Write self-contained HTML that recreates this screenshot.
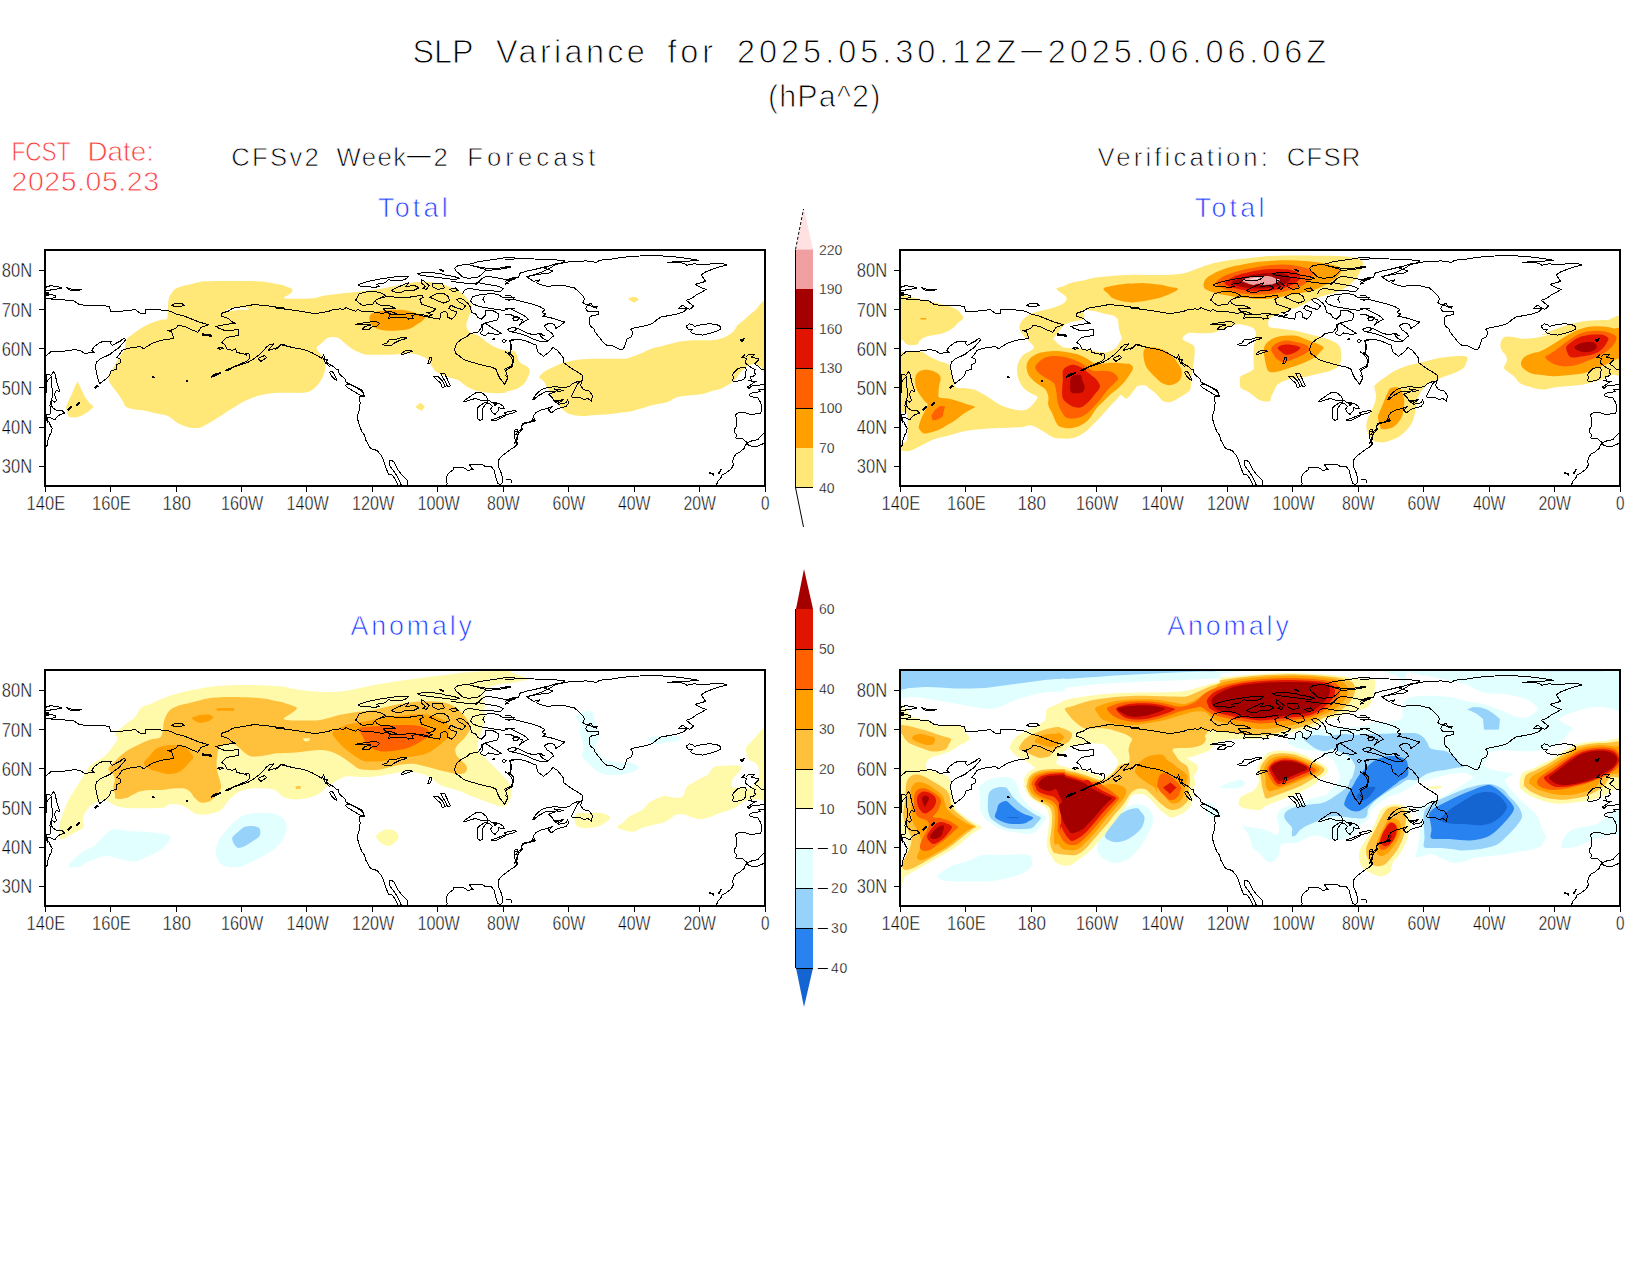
<!DOCTYPE html>
<html><head><meta charset="utf-8"><title>SLP Variance</title>
<style>html,body{margin:0;padding:0;background:#fff}</style></head>
<body>
<svg width="1650" height="1275" viewBox="0 0 1650 1275" style="display:block;font-family:'Liberation Sans',sans-serif">
<rect width="1650" height="1275" fill="#fff"/>
<defs><clipPath id="cp"><rect x="0" y="0" width="720" height="236"/></clipPath></defs>
<text x="412.5" y="63.3" font-size="32.5" fill="#000" text-anchor="start" textLength="61.0" lengthAdjust="spacingAndGlyphs" stroke="#fff" stroke-width="0.95">SLP</text>
<text x="496" y="63.3" font-size="32.5" fill="#000" text-anchor="start" textLength="148.9" lengthAdjust="spacing" stroke="#fff" stroke-width="0.95">Variance</text>
<text x="667.5" y="63.3" font-size="32.5" fill="#000" text-anchor="start" textLength="45.5" lengthAdjust="spacing" stroke="#fff" stroke-width="0.95">for</text>
<text x="737" y="63.3" font-size="32.5" fill="#000" text-anchor="start" textLength="279.2" lengthAdjust="spacing" stroke="#fff" stroke-width="0.95">2025.05.30.12Z</text>
<text transform="translate(1017.81,55.68) scale(5.940,1)" x="0" y="0" font-size="14" fill="#000">-</text>
<text x="1047.7" y="63.3" font-size="32.5" fill="#000" text-anchor="start" textLength="278.4" lengthAdjust="spacing" stroke="#fff" stroke-width="0.95">2025.06.06.06Z</text>
<text x="768" y="106.6" font-size="30.5" fill="#000" text-anchor="start" textLength="112.3" lengthAdjust="spacing" stroke="#fff" stroke-width="0.95">(hPa^2)</text>
<text x="11.5" y="161.4" font-size="28.5" fill="#fa3c3c" text-anchor="start" textLength="59.0" lengthAdjust="spacingAndGlyphs" stroke="#fff" stroke-width="0.8">FCST</text>
<text x="87.5" y="161.4" font-size="28.5" fill="#fa3c3c" text-anchor="start" textLength="66.5" lengthAdjust="spacingAndGlyphs" stroke="#fff" stroke-width="0.8">Date:</text>
<text x="11.5" y="191" font-size="28.5" fill="#fa3c3c" text-anchor="start" textLength="147.5" lengthAdjust="spacing" stroke="#fff" stroke-width="0.8">2025.05.23</text>
<text x="231.3" y="166.4" font-size="25.7" fill="#000" text-anchor="start" textLength="87.5" lengthAdjust="spacing" stroke="#fff" stroke-width="0.75">CFSv2</text>
<text x="336.5" y="166.4" font-size="25.7" fill="#000" text-anchor="start" textLength="69.6" lengthAdjust="spacing" stroke="#fff" stroke-width="0.75">Week</text>
<text transform="translate(403.08,161.22) scale(6.789,1)" x="0" y="0" font-size="14" fill="#000">-</text>
<text x="433.5" y="166.4" font-size="25.7" fill="#000" text-anchor="start" textLength="15.0" lengthAdjust="spacing" stroke="#fff" stroke-width="0.75">2</text>
<text x="467.3" y="166.4" font-size="25.7" fill="#000" text-anchor="start" textLength="128.2" lengthAdjust="spacing" stroke="#fff" stroke-width="0.75">Forecast</text>
<text x="1097.5" y="166.4" font-size="25.7" fill="#000" text-anchor="start" textLength="170.4" lengthAdjust="spacing" stroke="#fff" stroke-width="0.75">Verification:</text>
<text x="1286.7" y="166.4" font-size="25.7" fill="#000" text-anchor="start" textLength="73.7" lengthAdjust="spacing" stroke="#fff" stroke-width="0.75">CFSR</text>
<text x="378" y="216.7" font-size="26.8" fill="#1e3cff" text-anchor="start" textLength="69.6" lengthAdjust="spacing" stroke="#fff" stroke-width="0.75">Total</text>
<text x="1194.8" y="216.7" font-size="26.8" fill="#1e3cff" text-anchor="start" textLength="69.6" lengthAdjust="spacing" stroke="#fff" stroke-width="0.75">Total</text>
<text x="350.5" y="635" font-size="26.8" fill="#1e3cff" text-anchor="start" textLength="121.5" lengthAdjust="spacing" stroke="#fff" stroke-width="0.75">Anomaly</text>
<text x="1167.3" y="635" font-size="26.8" fill="#1e3cff" text-anchor="start" textLength="121.5" lengthAdjust="spacing" stroke="#fff" stroke-width="0.75">Anomaly</text>
<g transform="translate(45,250)">
<g clip-path="url(#cp)">
<path fill="#ffe878" d="M123.6 49.5 C124.2 46.9 125.3 44.7 126.5 42.9 C127.8 41.1 128.7 39.8 130.9 38.5 C133.1 37.3 136.2 36.6 139.6 35.6 C143.0 34.7 147.9 33.5 151.3 32.7 C154.7 32.0 154.9 31.6 160.0 31.3 C165.1 31.0 173.1 31.0 181.8 31.0 C190.5 31.0 204.8 30.9 212.4 31.3 C219.9 31.6 222.3 32.4 226.9 33.2 C231.5 33.9 237.8 35.1 240.0 35.6 C242.2 36.2 239.1 35.9 240.2 36.4 C241.3 36.8 245.6 37.6 246.7 38.5 C247.8 39.5 247.3 41.1 246.7 42.2 C246.1 43.3 244.4 44.1 243.1 45.1 C241.8 46.1 238.5 47.4 238.7 48.0 C239.0 48.6 241.2 48.6 244.5 48.7 C247.9 48.8 254.7 48.8 259.1 48.7 C263.5 48.6 267.6 48.5 270.7 48.0 C273.9 47.5 275.1 46.4 278.0 45.8 C280.9 45.2 284.5 44.8 288.2 44.4 C291.8 43.9 295.9 43.3 299.8 42.9 C303.7 42.5 307.6 42.3 311.5 41.9 C315.3 41.5 319.2 40.9 323.1 40.4 C327.0 40.0 331.1 39.5 334.7 39.0 C338.4 38.4 341.5 37.8 344.9 37.1 C348.3 36.4 351.9 35.6 355.1 34.9 C358.2 34.3 360.9 33.6 363.8 33.2 C366.7 32.7 369.4 32.2 372.5 32.0 C375.7 31.8 379.8 31.6 382.7 31.7 C385.6 31.8 387.3 32.2 390.0 32.7 C392.7 33.2 396.3 33.9 398.7 34.6 C401.2 35.3 402.4 36.2 404.5 37.1 C406.7 38.0 409.6 38.9 411.8 40.0 C414.0 41.1 415.9 42.2 417.6 43.6 C419.3 45.1 420.7 47.0 422.0 48.7 C423.3 50.4 424.8 52.2 425.6 53.8 C426.5 55.4 427.2 56.5 427.1 58.2 C427.0 59.9 425.6 62.1 424.9 64.0 C424.2 65.9 423.3 67.9 422.7 69.8 C422.1 71.8 421.2 73.8 421.3 75.6 C421.4 77.5 422.4 79.4 423.5 80.7 C424.5 82.1 426.1 82.8 427.8 83.6 C429.5 84.5 431.7 84.7 433.6 85.8 C435.6 86.9 437.5 88.7 439.5 90.2 C441.4 91.6 443.1 93.2 445.3 94.5 C447.5 95.9 449.9 97.2 452.5 98.2 C455.2 99.2 458.4 99.8 461.3 100.4 C464.2 101.0 467.8 99.9 470.0 101.8 C472.2 103.8 472.6 109.6 474.5 112.0 C476.5 114.4 480.1 115.0 481.8 116.4 C483.5 117.7 484.5 118.3 484.7 120.0 C485.0 121.7 484.2 124.2 483.3 126.5 C482.3 128.8 480.8 131.8 478.9 133.8 C477.0 135.9 474.8 137.6 471.6 138.9 C468.5 140.2 461.5 141.2 460.0 141.8 C458.5 142.4 464.2 142.3 462.7 142.5 C461.2 142.8 454.7 143.3 451.1 143.3 C447.5 143.3 444.1 142.9 440.9 142.5 C437.8 142.2 434.8 141.8 432.2 141.1 C429.5 140.4 427.1 139.3 424.9 138.2 C422.7 137.1 420.8 135.8 419.1 134.5 C417.4 133.3 416.4 131.9 414.7 130.9 C413.0 129.9 411.1 129.5 408.9 128.7 C406.7 128.0 404.1 127.4 401.6 126.5 C399.2 125.7 396.3 124.6 394.4 123.6 C392.4 122.7 391.2 121.9 390.0 120.7 C388.8 119.5 388.1 117.8 387.1 116.4 C386.1 114.9 385.4 113.5 384.2 112.0 C383.0 110.5 381.8 108.8 379.8 107.6 C377.9 106.4 375.0 105.5 372.5 104.7 C370.1 104.0 368.2 103.4 365.3 103.3 C362.4 103.2 358.7 103.8 355.1 104.0 C351.5 104.2 347.3 104.6 343.5 104.7 C339.6 104.8 335.7 104.8 331.8 104.7 C327.9 104.7 323.3 104.9 320.2 104.4 C317.0 104.0 315.1 102.7 312.9 101.8 C310.7 100.9 309.0 100.1 307.1 98.9 C305.2 97.7 303.2 96.1 301.3 94.5 C299.3 93.0 297.2 90.7 295.5 89.5 C293.8 88.2 292.9 87.6 291.1 87.3 C289.3 86.9 286.5 86.8 284.5 87.3 C282.6 87.8 281.0 89.0 279.5 90.2 C277.9 91.4 276.4 93.3 275.1 94.5 C273.8 95.8 271.7 96.2 271.5 97.5 C271.2 98.7 272.5 100.1 273.6 101.8 C274.7 103.5 276.9 105.7 278.0 107.6 C279.1 109.6 279.8 111.5 280.2 113.5 C280.5 115.4 280.5 117.1 280.2 119.3 C279.8 121.5 279.1 124.1 278.0 126.5 C276.9 129.0 275.3 131.6 273.6 133.8 C271.9 136.0 270.0 138.2 267.8 139.6 C265.6 141.1 264.4 142.0 260.5 142.5 C256.7 143.1 249.2 142.8 244.5 142.8 C239.9 142.9 236.6 142.6 232.7 142.8 C228.8 143.0 225.0 143.3 221.1 144.0 C217.2 144.7 213.1 145.7 209.5 146.9 C205.8 148.1 202.4 149.7 199.3 151.3 C196.1 152.8 193.2 154.8 190.5 156.4 C187.9 157.9 185.7 159.2 183.3 160.7 C180.8 162.3 178.4 164.2 176.0 165.8 C173.6 167.4 171.2 168.7 168.7 170.2 C166.3 171.6 163.9 173.3 161.5 174.5 C159.0 175.8 157.1 177.3 154.2 177.7 C151.3 178.2 147.4 178.1 144.0 177.5 C140.6 176.8 136.5 175.2 133.8 173.8 C131.2 172.5 129.9 170.8 128.0 169.5 C126.1 168.1 124.8 166.8 122.2 165.8 C119.5 164.8 115.6 164.5 112.0 163.6 C108.4 162.8 104.2 161.5 100.4 160.7 C96.5 160.0 92.0 160.0 88.7 159.3 C85.5 158.5 82.5 157.7 80.7 156.4 C78.9 155.0 78.9 153.1 77.8 151.3 C76.7 149.5 75.5 147.4 74.2 145.5 C72.8 143.5 71.4 141.8 69.8 139.6 C68.2 137.5 65.8 134.5 64.7 132.4 C63.6 130.2 63.2 128.2 63.3 126.5 C63.4 124.8 64.5 123.9 65.5 122.2 C66.4 120.5 67.6 118.8 69.1 116.4 C70.5 113.9 72.5 110.5 74.2 107.6 C75.9 104.7 78.1 101.9 79.3 98.9 C80.5 95.9 80.1 91.9 81.5 89.5 C82.8 87.0 85.1 86.1 87.3 84.4 C89.5 82.7 92.1 80.8 94.5 79.3 C97.0 77.7 99.4 76.1 101.8 74.9 C104.2 73.7 106.7 72.8 109.1 72.0 C111.5 71.2 114.2 70.4 116.4 69.8 C118.5 69.2 121.1 70.3 122.2 68.4 C123.3 66.4 122.7 61.3 122.9 58.2 C123.2 55.0 123.0 52.0 123.6 49.5 Z"/>
<path fill="#ffffff" d="M180.4 60.4 C180.8 59.9 184.2 58.7 187.6 58.2 C191.0 57.7 198.1 57.2 200.7 57.5 C203.4 57.7 204.8 59.2 203.6 59.6 C202.4 60.0 196.6 59.7 193.5 59.9 C190.3 60.2 186.9 61.0 184.7 61.1 C182.5 61.2 179.9 60.8 180.4 60.4 Z"/>
<path fill="#ffe878" d="M32.7 131.6 L36.4 139.6 L40.0 146.9 L43.6 152.0 L48.7 156.8 L43.6 161.5 L36.4 165.8 L31.3 167.6 L24.0 167.3 L21.8 161.5 L21.1 157.1 L24.0 149.8 L26.9 144.0 L29.8 136.7 Z"/>
<path fill="#ffa000" d="M324.5 66.9 C324.9 65.3 325.8 64.2 327.5 63.3 C329.2 62.3 331.6 61.6 334.7 61.1 C337.9 60.5 342.5 60.1 346.4 59.9 C350.2 59.7 354.6 59.6 358.0 59.9 C361.4 60.2 363.8 61.0 366.7 61.8 C369.6 62.6 373.3 63.8 375.5 64.7 C377.6 65.7 379.6 66.5 379.8 67.6 C380.1 68.7 378.4 70.1 376.9 71.3 C375.5 72.5 373.0 73.7 371.1 74.9 C369.2 76.1 367.5 77.7 365.3 78.5 C363.1 79.4 361.2 79.6 358.0 80.0 C354.8 80.4 350.0 80.7 346.4 80.7 C342.7 80.7 339.1 80.6 336.2 80.0 C333.3 79.4 330.7 78.3 328.9 77.1 C327.1 75.9 326.0 74.4 325.3 72.7 C324.5 71.0 324.2 68.5 324.5 66.9 Z"/>
<path fill="#ffe878" d="M370.4 156.8 L375.5 152.7 L379.8 156.4 L376.9 160.7 L373.3 159.3 Z"/>
<path fill="#ffe878" d="M494.2 127.3 C494.1 125.9 496.5 124.1 497.8 122.9 C499.2 121.7 500.2 121.1 502.2 120.0 C504.1 118.9 506.8 117.6 509.5 116.4 C512.1 115.2 515.0 113.7 518.2 112.7 C521.3 111.8 524.5 111.2 528.4 110.5 C532.2 109.9 536.8 109.4 541.5 109.1 C546.1 108.8 551.2 108.8 556.0 108.8 C560.8 108.8 566.2 108.9 570.5 108.8 C574.9 108.7 578.8 108.9 582.2 108.4 C585.6 107.8 588.0 106.5 590.9 105.5 C593.8 104.4 597.2 102.9 599.6 101.8 C602.1 100.7 603.0 99.8 605.5 98.9 C607.9 98.1 611.3 97.5 614.2 96.7 C617.1 96.0 619.5 95.4 622.9 94.5 C626.3 93.7 631.2 92.3 634.5 91.6 C637.9 91.0 640.1 90.7 643.3 90.5 C646.4 90.2 649.6 90.2 653.5 90.2 C657.3 90.1 662.9 90.4 666.5 90.2 C670.2 89.9 672.6 89.5 675.3 88.7 C677.9 88.0 680.4 87.0 682.5 85.8 C684.7 84.6 686.7 83.2 688.4 81.5 C690.1 79.8 691.3 77.5 692.7 75.6 C694.2 73.8 697.9 69.8 697.1 70.5 C696.3 71.3 687.5 80.3 688.0 80.0 C688.5 79.7 696.3 72.2 700.0 69.0 C703.7 65.8 706.3 63.0 710.0 60.5 C713.7 58.0 720.0 43.9 722.0 54.0 C724.0 64.1 723.1 110.6 722.0 121.0 C720.9 131.4 717.3 117.6 715.3 116.4 C713.4 115.2 711.8 114.2 710.3 113.9 C708.8 113.6 708.0 114.1 706.5 114.5 C705.1 114.9 703.0 115.4 701.5 116.4 C700.1 117.3 699.0 118.9 697.8 120.1 C696.5 121.4 695.0 122.5 694.0 123.9 C693.0 125.3 692.7 126.8 691.5 128.3 C690.2 129.8 688.1 131.4 686.5 132.7 C684.8 133.9 683.3 134.8 681.5 135.8 C679.6 136.9 677.5 138.1 675.2 139.0 C672.9 139.8 670.6 140.0 667.7 140.8 C664.7 141.7 661.4 143.2 657.6 144.0 C653.9 144.7 649.3 144.7 645.1 145.2 C640.9 145.7 635.7 146.3 632.5 147.1 C629.4 147.9 628.4 149.3 626.3 150.2 C624.2 151.2 622.5 152.1 620.0 152.7 C617.5 153.4 614.2 153.6 611.3 154.2 C608.4 154.8 605.5 155.5 602.5 156.4 C599.6 157.2 596.7 158.4 593.8 159.3 C590.9 160.1 588.5 160.8 585.1 161.5 C581.7 162.1 577.3 162.4 573.5 162.9 C569.6 163.4 565.7 164.0 561.8 164.4 C557.9 164.7 554.1 164.8 550.2 165.1 C546.3 165.4 542.2 166.1 538.5 166.1 C534.9 166.1 531.3 165.7 528.4 165.1 C525.5 164.4 523.3 163.5 521.1 162.2 C518.9 160.8 517.1 158.9 515.3 157.1 C513.5 155.3 511.6 153.2 510.2 151.3 C508.7 149.3 507.6 147.4 506.5 145.5 C505.5 143.5 504.5 141.2 503.6 139.6 C502.8 138.1 502.3 137.5 501.5 136.0 C500.6 134.5 499.8 132.4 498.5 130.9 C497.3 129.5 494.3 128.6 494.2 127.3 Z"/>
<path fill="#ffe878" d="M582.9 48.7 L587.3 46.8 L591.6 47.3 L593.8 49.5 L589.5 52.7 L585.8 50.9 Z"/>
<g fill="none" stroke="#000" stroke-linejoin="round" stroke-linecap="butt" shape-rendering="crispEdges">
<path stroke-width="1" d="M0.0 48.7 L14.5 49.5 L29.1 50.9 L33.5 54.1 L42.2 56.0 L58.2 55.3 L64.7 57.0 L65.5 61.1 L77.1 61.1 L90.2 59.6 L93.1 61.8 L96.0 64.0 L100.4 63.3 L100.4 59.6 L110.5 59.3 L125.1 61.1 L130.9 64.0 L139.6 66.2 L148.4 69.8 L154.2 72.0 L163.6 74.9 L156.4 77.1 L152.7 82.2 L145.5 79.3 L139.6 76.4 L134.5 75.6 L133.1 74.9 L131.6 77.8 L126.5 80.0 L122.9 80.7 L126.5 81.5 L128.7 88.0 L125.1 89.0 L116.4 90.2 L107.6 93.1 L100.4 97.5 L98.9 98.9 L95.3 96.7 L87.3 97.5 L81.5 98.9 L77.1 100.4 L74.2 104.7 L72.0 107.6 L75.6 109.1 L75.6 112.7 L71.3 114.9 L71.3 119.3 L66.2 120.7 L64.7 125.1 L61.1 128.7 L54.5 133.8 L52.4 126.5 L50.2 116.4 L51.6 112.0 L56.0 108.4 L61.1 106.2 L65.5 104.0 L69.8 100.4 L74.2 97.5 L76.4 94.5 L78.5 92.4 L80.7 89.5 L78.5 88.4 L75.6 90.9 L71.3 93.1 L67.6 95.3 L65.5 93.8 L66.2 91.6 L58.2 91.3 L53.8 93.1 L49.5 96.7 L46.5 100.4 L49.5 102.5 L39.3 103.3 L36.4 101.1 L30.5 99.6 L18.9 101.1 L5.8 101.8 L0.0 106.9 M0.0 37.5 L5.8 35.6 L14.5 37.1 L16.7 38.1 L8.7 39.6 L0.0 40.7 M21.1 37.5 L25.5 39.0 L34.9 39.0 L36.4 39.6 L34.2 40.4 L26.2 40.4 L23.3 39.0 Z M0.0 43.6 L5.8 44.4 L10.9 45.8 L10.2 47.7 L4.4 48.7 L0.0 48.7 M126.5 55.3 L130.2 53.5 L136.7 53.5 L139.6 55.3 L135.3 56.4 L129.5 56.4 Z M240.0 58.2 L224.0 56.0 L209.5 54.5 L200.7 56.0 L187.6 58.2 L183.3 61.1 L176.7 63.3 L176.7 66.2 L183.3 68.4 L186.2 71.3 L190.5 73.5 L181.8 74.2 L174.5 75.6 L170.9 76.4 L174.5 78.5 L180.4 80.7 L189.1 80.0 L193.5 79.7 L193.5 85.1 L187.6 86.5 L181.8 87.3 L178.9 90.2 L176.7 92.4 L180.4 95.3 L181.8 98.9 L187.6 100.4 L190.5 98.9 L192.0 102.5 L199.3 104.0 L201.5 105.5 L200.7 103.3 L204.4 104.0 L204.4 108.4 L201.5 111.3 L194.9 114.2 L189.1 116.4 L181.8 120.0 L184.7 118.5 L193.5 115.6 L203.6 112.0 L209.5 108.4 L215.3 104.0 L218.2 101.1 L221.1 97.5 L224.7 94.5 L229.1 93.8 L226.9 96.0 L223.3 100.4 L228.4 98.9 L234.2 96.7 L236.4 94.5 L240.0 94.8 M213.1 108.4 L219.6 105.5 L221.8 107.6 L216.0 111.3 Z M172.4 98.2 L175.3 97.2 L178.2 98.2 L175.3 99.3 Z M1.1 124.2 L6.0 125.3 L8.8 121.4 L9.9 123.6 L11.0 128.5 L12.6 135.1 L14.8 141.7 L11.5 140.6 L9.3 143.9 L11.5 150.5 L9.9 152.2 L7.1 150.5 L6.0 154.9 L8.2 158.2 L12.6 160.9 L17.0 160.4 L19.8 163.1 L14.8 164.8 L11.5 167.5 L9.9 169.7 L6.0 168.1 L1.6 167.0 L1.1 164.8 L4.9 164.8 L6.0 159.8 L4.9 156.0 L5.5 152.7 L7.7 146.1 L7.1 138.4 L6.0 131.8 L6.6 126.4 L3.3 129.6 L1.6 132.9 M1.1 170.3 L3.8 171.4 L5.5 175.8 L7.1 178.0 L6.6 181.8 L4.9 184.6 L3.3 188.9 L2.2 192.2 L2.7 194.4 L1.1 197.2 M230.0 57.9 L244.5 59.6 L259.1 61.8 L272.2 64.0 L275.1 62.5 L282.4 61.8 L288.2 59.6 L295.5 58.9 L298.4 59.6 L301.3 57.5 L305.6 59.6 L310.7 61.1 L312.9 59.6 L315.8 61.1 L324.5 61.1 L331.8 62.5 L337.6 63.3 L342.0 62.5 L346.4 64.0 L349.3 64.7 L360.9 64.0 L368.2 63.3 L375.5 65.5 L382.7 66.9 L390.0 68.4 L394.4 69.1 L395.8 66.2 L395.1 63.3 L400.2 61.1 L403.1 64.0 L402.4 66.9 L406.7 69.1 L410.4 65.5 L411.8 61.8 L406.7 60.4 L403.8 58.2 L406.0 55.3 L410.4 57.5 L417.6 59.6 L420.5 56.0 L417.6 53.8 L413.3 51.6 L411.8 49.5 L414.7 48.0 L419.1 50.2 L423.5 53.8 L425.6 57.5 L426.4 62.5 L430.7 64.0 L432.9 67.6 L436.5 69.1 L440.2 65.5 L440.9 60.4 L448.2 60.8 L454.0 64.0 L452.5 69.8 L446.7 71.3 L440.9 72.7 L438.0 74.2 L435.8 78.5 L432.9 82.2 L424.9 83.6 L422.0 86.5 L416.2 89.5 L411.8 93.1 L409.6 98.9 L410.4 103.3 L414.0 105.5 L416.2 107.6 L419.1 109.8 L426.4 112.0 L433.6 114.2 L439.5 115.6 L446.7 117.1 L451.1 119.3 L452.5 123.6 L454.7 128.0 L457.6 131.6 L459.8 134.5 L461.3 130.9 L462.7 126.5 L461.3 122.9 L459.8 119.3 L465.6 116.4 L468.5 112.0 L468.5 106.9 L464.9 103.3 L465.6 96.0 L464.9 90.2 L470.0 89.5 M230.0 99.6 L233.6 97.5 L235.1 94.5 L238.7 95.3 L247.5 97.5 L259.1 99.6 L266.4 102.5 L272.2 105.5 L276.5 108.4 L278.7 104.7 L279.5 109.1 L283.1 109.1 L280.9 112.0 L285.3 114.9 L288.2 116.4 L291.1 119.3 L294.0 119.3 L293.3 122.2 L295.5 125.1 L299.8 128.7 L301.3 132.4 L305.6 134.5 L311.5 137.5 L317.3 140.4 L318.7 143.3 L319.5 146.9 L314.4 146.2 L315.1 152.7 L314.4 160.0 L312.9 164.4 L312.6 168.7 L313.6 173.1 L315.1 177.5 L317.3 182.5 L319.5 185.0 M284.5 122.2 L287.5 121.5 L289.6 125.1 L291.8 130.2 L288.9 128.7 L286.0 125.1 Z M300.5 135.3 L304.2 133.8 L311.5 137.5 L317.3 141.8 L319.5 146.2 L315.8 145.5 L309.3 141.8 L303.5 138.2 Z M277.3 106.2 L280.2 112.7 L284.5 116.4 L287.5 114.9 M310.7 74.2 L320.2 72.7 L330.4 71.3 L334.7 73.5 L331.8 76.4 L326.0 77.1 L324.5 79.3 L317.3 79.3 L320.2 76.4 L326.0 74.9 L317.3 74.9 Z M337.6 94.5 L342.0 93.1 L344.2 89.5 L350.7 89.5 L356.5 87.3 L362.4 88.0 L358.0 89.5 L353.6 90.9 L349.3 93.1 L346.4 95.3 L340.5 95.7 Z M355.8 104.0 L360.9 100.4 L368.2 101.1 L363.8 102.5 L358.0 104.4 Z M382.7 113.5 L384.9 107.6 L387.1 106.9 L386.4 110.5 L384.9 113.5 Z M388.5 126.5 L392.9 126.5 L397.3 130.9 L400.2 136.7 L397.3 137.5 L395.8 133.1 L391.5 129.5 Z M395.8 123.6 L399.5 123.3 L403.1 130.9 L405.3 136.0 L402.4 136.4 L400.2 131.6 L397.3 126.5 Z M418.0 151.5 L423.0 148.0 L428.0 144.5 L432.0 142.0 L437.0 143.0 L441.0 146.0 L443.0 150.0 L440.0 151.0 L435.0 150.0 L431.0 148.5 L426.0 149.5 L421.0 151.5 Z M443.0 150.0 L448.0 153.0 L454.0 153.5 L458.0 156.0 L459.5 158.5 L456.0 159.0 L454.0 157.0 L453.0 161.0 L450.0 164.5 L447.0 162.0 L445.5 159.0 L447.5 156.5 L445.0 154.0 L442.0 153.0 Z M432.5 158.0 L435.0 155.5 L439.0 153.0 L443.0 152.0 L440.0 155.0 L437.5 159.0 L437.0 164.0 L437.5 169.0 L435.0 170.5 L433.0 169.0 L432.5 164.0 Z M446.5 170.0 L452.0 168.0 L457.0 166.0 L461.0 164.5 L460.0 166.0 L455.0 168.5 L450.0 171.0 Z M459.0 163.0 L464.0 161.5 L470.0 160.5 L471.0 161.5 L467.0 163.5 L461.0 164.5 Z M310.7 50.2 L314.4 43.6 L323.1 41.5 L334.7 42.2 L340.5 45.1 L334.7 48.0 L330.4 50.2 L327.5 54.5 L317.3 55.3 Z M330.4 50.2 L337.6 47.3 L344.9 46.3 L353.6 47.7 L363.8 47.3 L369.6 46.3 L376.9 45.4 L378.4 47.3 L374.7 49.5 L376.9 54.5 L384.2 56.7 L390.7 58.9 L387.8 61.8 L381.3 62.5 L387.1 64.7 L384.2 66.2 L374.0 64.0 L366.7 65.5 L368.2 68.4 L363.8 69.1 L360.9 67.2 L343.5 68.1 L344.9 64.7 L352.2 64.0 L346.4 61.8 L340.5 61.1 L338.4 58.9 L350.7 58.2 L344.9 56.0 L334.7 55.0 L331.1 52.7 Z M312.9 34.9 L323.1 31.3 L334.7 29.1 L344.9 27.6 L355.1 26.2 L363.8 26.5 L359.5 29.8 L350.7 30.8 L343.5 29.8 L340.5 32.7 L331.8 34.2 L334.7 36.4 L328.9 37.5 L323.1 36.4 L315.8 36.4 Z M384.9 47.3 L391.5 43.6 L398.7 43.3 L403.1 46.5 L404.5 50.9 L398.7 53.1 L392.9 50.9 Z M387.1 33.5 L397.3 33.7 L399.5 37.8 L392.9 39.6 L387.8 37.1 Z M346.4 40.7 L350.7 38.1 L358.0 34.9 L363.8 32.7 L360.9 36.4 L369.6 35.6 L374.0 37.8 L369.6 40.0 L360.9 40.0 L356.5 42.2 L350.7 42.2 Z M376.2 29.8 L378.4 30.5 L384.2 35.6 L381.3 39.3 L377.6 38.5 L380.5 36.4 L376.9 33.5 Z M404.5 39.3 L410.4 37.8 L413.3 40.7 L408.2 41.5 Z M372.5 23.3 L382.7 22.5 L394.4 23.3 L401.6 25.5 L408.2 26.2 L414.7 28.4 L408.9 29.8 L401.6 28.4 L392.9 27.6 L382.7 26.2 L375.5 25.5 Z M409.6 18.2 L413.3 15.3 L423.5 14.5 L433.6 17.5 L440.9 19.6 L438.0 23.3 L433.6 26.9 L423.5 28.4 L417.6 26.9 L414.7 24.0 L411.1 21.1 Z M423.5 14.5 L433.6 11.6 L448.2 9.5 L458.4 8.0 L470.0 7.6 M424.9 15.3 L440.9 18.2 L454.0 18.2 L464.2 16.7 L465.6 17.5 L452.5 19.6 L440.9 20.4 M406.0 31.3 L416.2 32.7 L426.4 33.7 L433.6 32.7 L440.9 34.2 L454.0 36.4 L458.4 38.5 L455.5 41.5 L445.3 40.7 L433.6 40.0 L423.5 38.1 L419.1 40.7 L417.6 43.6 M430.7 34.9 L436.5 29.1 L440.9 26.2 L451.1 27.6 L461.3 29.8 L470.0 26.9 M459.8 33.5 L465.6 30.5 L470.0 29.1 M425.6 50.9 L427.8 46.5 L436.5 44.4 L448.2 43.6 L454.0 45.1 L458.4 48.0 L465.6 47.3 L470.0 48.0 M439.5 45.8 L438.0 49.5 L440.2 53.1 M425.6 50.9 L427.8 53.8 L432.9 56.0 L439.5 57.5 L448.2 58.9 L458.4 60.4 L465.6 58.2 L470.0 58.9 M436.5 74.9 L440.9 73.5 L448.2 78.5 L456.9 83.6 L451.1 84.4 L443.8 82.9 L439.5 85.8 L435.1 83.6 L438.0 79.3 Z M462.7 79.3 L468.5 77.1 L471.5 79.3 L468.5 81.5 L464.2 81.5 Z M456.9 90.9 L459.1 89.0 L461.3 90.9 L459.1 93.1 Z M481.8 26.9 L489.1 24.7 L497.8 21.8 L503.6 18.9 L509.5 15.3 L518.2 12.4 L528.4 11.6 L541.5 10.9 L551.6 12.4 L554.5 10.2 L564.7 9.5 L576.4 7.3 L588.0 6.5 L601.1 5.5 L614.2 5.8 L627.3 6.5 L638.9 8.0 L653.5 10.2 L647.6 10.9 L631.6 11.6 L622.9 12.4 L638.9 13.1 L641.8 15.3 L649.1 13.8 L656.4 14.5 L668.0 13.8 L676.7 13.4 L681.8 15.0 L675.3 16.7 L666.5 19.6 L660.7 21.8 L656.4 24.7 L658.5 28.4 L660.7 31.3 L656.4 32.7 L650.5 34.2 L653.5 36.4 L657.8 38.5 L661.5 39.3 L656.4 42.2 L652.0 44.4 L649.1 46.5 L646.2 48.7 L641.1 50.2 L644.7 53.1 L648.4 56.0 L644.7 59.6 L637.5 55.3 L633.8 58.2 L641.8 58.9 L638.9 61.8 L631.6 64.0 L624.4 65.5 L616.4 66.9 L612.7 69.1 L608.4 72.7 L604.0 74.9 L596.7 76.4 L589.5 77.8 L585.8 79.3 L588.0 82.9 L586.5 86.5 L581.5 89.5 L580.7 93.1 L578.5 98.9 L575.6 99.6 L572.0 98.2 L568.4 96.0 L561.8 95.3 L558.9 93.1 L556.0 89.5 L553.1 85.8 L550.2 82.2 L548.7 78.5 L545.8 76.4 L544.1 72.7 L544.4 67.6 L547.3 65.5 L553.1 64.7 L553.1 61.1 L547.3 61.8 L542.9 61.8 L540.7 58.9 L542.2 56.0 L545.8 53.1 L548.0 56.0 L552.4 56.0 L551.6 58.2 L541.5 54.5 L537.8 53.1 L539.3 49.5 L538.5 46.5 L535.6 43.6 L532.7 40.7 L529.1 37.8 L522.5 36.4 L516.7 35.2 L509.5 35.6 L502.9 36.4 L496.4 34.9 L491.3 32.7 L494.9 29.8 L488.4 31.3 Z M641.1 76.4 L644.0 73.9 L647.6 74.2 L649.1 76.4 L653.5 75.3 L657.8 74.2 L665.1 73.9 L670.9 74.2 L675.3 76.4 L675.3 79.3 L670.9 81.5 L663.6 83.6 L657.8 85.1 L652.0 84.4 L647.6 83.6 L645.5 81.5 L647.6 79.3 L643.3 79.3 Z M460.0 9.5 L474.5 8.7 L489.1 9.0 L503.6 9.5 L519.6 10.5 L518.2 13.1 L510.9 13.8 L503.6 16.0 L499.3 18.2 L508.0 21.1 L503.6 23.3 L496.4 24.0 L483.3 26.2 M460.0 31.3 L467.3 29.1 L473.8 26.9 L474.5 23.3 L481.8 21.1 L492.0 18.9 L503.6 16.0 M460.0 16.7 L465.8 16.0 M460.0 34.2 L464.4 33.2 M460.0 49.5 L464.4 50.2 L468.7 48.7 L465.8 45.8 L460.0 45.1 M460.0 49.5 L468.7 49.5 L477.5 51.6 L486.2 53.8 L494.9 56.7 L500.0 59.6 L497.1 62.5 L500.7 64.0 L497.8 66.2 L505.1 67.6 L512.4 69.8 L519.6 72.0 L515.3 75.6 L510.9 78.5 L509.5 74.2 L503.6 73.5 L499.3 75.6 L502.2 80.0 L506.5 82.9 L508.7 85.8 L503.6 90.2 L502.9 91.3 L496.4 87.3 L494.9 84.4 L499.3 85.8 L494.9 82.9 L489.1 85.1 L481.8 82.9 L474.5 79.3 L468.7 77.1 L462.9 79.3 L464.4 81.5 L474.5 83.6 L481.8 85.8 L489.1 89.5 L496.4 91.6 L502.2 91.6 M460.0 58.9 L464.4 58.2 L471.6 61.8 L478.9 65.5 L483.3 69.1 L477.5 72.7 L474.5 75.6 L477.5 69.8 L471.6 67.6 L464.4 64.0 L460.0 64.0 M468.0 68.4 L470.9 66.2 L474.5 67.6 L472.4 70.5 L468.7 70.5 Z M460.0 101.8 L462.9 103.3 L465.8 101.8 L466.5 94.5 L464.4 90.9 L471.6 89.5 L478.9 90.2 L486.2 93.1 L491.3 95.3 L492.7 101.8 L498.5 106.2 L503.6 102.5 L508.0 97.5 L512.4 100.4 L518.2 107.6 L518.9 112.7 L525.5 117.8 L532.7 122.2 L537.1 125.1 L537.8 130.9 L532.7 131.6 L528.4 133.1 L524.0 136.7 L518.2 137.5 L509.5 136.7 L502.2 137.5 L496.4 139.6 L491.3 144.0 L487.6 149.8 M460.0 101.8 L464.4 104.7 L468.0 110.5 L467.3 116.4 L462.9 119.3 L460.0 120.7 M460.0 125.1 L462.9 128.0 L461.5 131.6 M487.6 150.5 L493.5 145.5 L500.7 141.8 L508.0 141.1 L510.9 141.8 L503.6 144.0 L506.5 146.9 L509.5 151.3 L513.8 154.2 L521.1 152.7 L522.5 149.8 L524.0 152.7 L521.1 156.4 L515.3 157.8 L510.9 159.3 L506.5 162.9 L503.6 160.0 L508.0 156.4 L502.2 158.5 L496.4 160.0 L491.3 162.2 L488.4 165.8 L487.6 169.5 L490.5 170.2 L486.2 170.9 L481.8 173.1 L477.5 174.5 L476.0 178.9 L473.1 181.8 L470.2 185.0 M509.5 138.9 L518.2 140.4 L513.8 141.8 Z M510.2 150.5 L518.2 149.8 L514.5 152.4 Z M526.2 146.9 L529.8 139.6 L532.7 133.8 L537.1 130.2 L535.6 135.3 L538.5 139.6 L544.4 141.1 L547.3 145.5 L546.5 151.3 L542.9 148.4 L539.3 149.8 L535.6 147.6 L529.8 147.6 Z M477.5 174.5 L483.3 172.4 L489.8 171.3 M468.7 180.4 L472.4 181.8 L473.8 184.7 L470.9 185.0 M488.2 165.8 L490.0 170.0 L487.0 171.2 L482.7 172.4 L478.5 173.6 L476.1 176.1 L477.3 179.1 L474.8 182.1 L472.4 185.2 L472.4 188.8 L471.2 192.4 L472.4 194.2 L470.0 196.7 L465.2 199.7 L460.3 203.3 L456.7 206.4 L454.2 208.8 L453.0 213.0 L454.0 217.9 L456.1 222.7 L457.3 227.6 L457.3 232.4 L455.5 234.8 L453.0 233.6 L451.2 228.8 L450.0 223.9 L448.8 219.7 L446.4 216.7 L443.3 216.1 L440.3 216.7 L437.3 214.2 L433.6 214.8 L427.6 214.2 L424.5 214.8 L426.4 217.9 L428.2 219.7 L422.7 220.3 L419.1 217.9 L415.5 217.3 L408.8 217.3 L408.8 219.7 L404.5 222.1 L402.1 225.2 L401.5 230.0 L402.1 233.6 L401.5 234.8 M469.4 180.3 L471.8 179.1 L473.6 181.5 L472.4 186.4 L470.6 191.2 L469.4 186.4 Z M461.5 229.4 L466.4 230.0 L467.0 232.4 M350.0 214.2 L352.4 219.1 L356.1 223.9 L359.7 227.6 L362.7 230.6 L362.1 234.8 M350.0 222.7 L353.6 228.8 L356.1 234.8 M350.0 228.8 L353.0 234.8 M319.5 185.0 L321.0 190.4 L325.7 198.6 L329.0 199.5 L332.2 200.6 L336.5 205.7 L338.0 209.0 L340.4 216.3 L343.7 225.0 L346.3 224.2 L350.0 228.8 M350.0 222.7 L345.0 216.3 L344.3 210.4 L348.6 211.2 L350.0 214.2 M696.5 108.2 L699.6 104.5 L698.4 107.0 L701.5 108.8 L700.3 112.6 L702.8 115.1 L706.5 117.6 L710.3 119.5 L709.1 122.6 L710.9 124.5 L707.8 126.4 L705.3 127.0 L706.5 130.2 L703.4 130.8 L711.6 131.4 L707.8 133.3 L705.3 135.2 L702.2 137.1 L704.0 138.3 L707.8 135.2 L712.8 135.2 L719.7 134.6 M701.5 107.0 L703.4 104.5 L709.7 104.5 L706.5 107.0 L714.1 109.1 L711.6 112.0 L709.7 113.9 L713.4 116.4 L716.6 119.5 L719.7 120.1 M719.7 139.6 L713.4 139.6 L715.3 141.7 L707.8 142.7 L704.3 144.6 L705.3 146.5 L712.8 147.7 L715.3 152.1 L716.8 155.3 L716.6 160.3 L715.6 163.4 L710.3 164.0 L705.3 164.3 L700.3 162.8 L694.0 162.5 L690.5 164.7 L691.7 170.3 L691.5 176.6 L689.2 179.7 L689.6 182.9 L691.5 184.7 L690.9 188.1 L697.1 188.1 L700.3 191.0 L702.2 192.9 L707.8 190.4 L712.8 189.7 L715.3 186.6 L719.7 182.2 M702.2 192.9 L703.4 195.4 L707.8 196.4 L712.8 196.0 L716.6 194.4 L719.7 192.9 M702.2 192.9 L700.3 195.4 L699.0 198.5 L695.3 201.7 L690.9 204.2 L688.7 207.3 L687.7 211.1 L688.4 214.8 L686.5 218.6 L682.7 221.7 L679.0 224.2 L676.4 225.5 L675.8 228.6 L673.3 230.5 L671.4 234.9 M688.4 123.3 L690.2 121.4 L692.7 118.9 L696.5 117.4 L700.3 117.6 L701.5 120.1 L700.3 123.3 L700.3 127.0 L698.4 129.5 L694.0 130.8 L689.0 132.1 L687.1 130.2 L689.0 127.7 L687.7 125.2 Z"/>
<path stroke-width="2" d="M0.0 42.9 L2.9 42.9 L2.9 45.1 L0.0 45.1 Z M180.4 120.7 L186.9 118.1 M49.5 138.2 L53.1 135.6 M22.5 160.4 L26.9 156.5 M31.3 155.5 L34.8 152.2 M0.6 125.3 L0.6 142.8"/>
<path stroke-width="2.2" d="M157.1 84.4 L167.3 85.8 M49.4 138.2 L52.7 135.7"/>
<path stroke-width="1.6" d="M122.2 80.7 L126.5 80.4 M106.9 126.5 L109.8 127.7 M141.1 130.2 L142.5 131.6 M394.4 19.6 L398.7 21.1 M446.7 89.9 L450.4 88.4"/>
<path stroke-width="1.4" d="M166.5 127.3 L169.5 124.4 L175.3 122.9 L171.6 125.1 L167.3 126.5 Z M695.3 90.0 L699.0 89.0 L697.1 91.5 Z"/>
<path stroke-width="1.5" d="M1.1 165.9 L3.3 172.5 M448.5 153.2 L452.0 153.2 L450.5 155.5 Z M468.8 193.0 L472.7 192.4 M477.3 173.6 L483.3 172.1 M663.9 223.0 L667.7 223.6 L668.9 225.5 M673.3 224.2 L676.4 219.2"/>
</g>
</g>
<rect x="0" y="0" width="720" height="236" fill="none" stroke="#000" stroke-width="2"/>
<path d="M-6 20.5 H-1 M-6 59.5 H-1 M-6 98.5 H-1 M-6 137.5 H-1 M-6 177.5 H-1 M-6 216.5 H-1 M0.10 237 V242 M65.55 237 V242 M131.01 237 V242 M196.46 237 V242 M261.92 237 V242 M327.37 237 V242 M392.83 237 V242 M458.28 237 V242 M523.74 237 V242 M589.19 237 V242 M654.65 237 V242 M720.10 237 V242" stroke="#000" stroke-width="1" fill="none" shape-rendering="crispEdges"/>
<text x="-43.2" y="27.4" font-size="19.5" fill="#000" text-anchor="start" textLength="30.3" lengthAdjust="spacingAndGlyphs" stroke="#fff" stroke-width="0.45">80N</text>
<text x="-43.2" y="66.5" font-size="19.5" fill="#000" text-anchor="start" textLength="30.3" lengthAdjust="spacingAndGlyphs" stroke="#fff" stroke-width="0.45">70N</text>
<text x="-43.2" y="105.7" font-size="19.5" fill="#000" text-anchor="start" textLength="30.3" lengthAdjust="spacingAndGlyphs" stroke="#fff" stroke-width="0.45">60N</text>
<text x="-43.2" y="144.8" font-size="19.5" fill="#000" text-anchor="start" textLength="30.3" lengthAdjust="spacingAndGlyphs" stroke="#fff" stroke-width="0.45">50N</text>
<text x="-43.2" y="184.0" font-size="19.5" fill="#000" text-anchor="start" textLength="30.3" lengthAdjust="spacingAndGlyphs" stroke="#fff" stroke-width="0.45">40N</text>
<text x="-43.2" y="223.1" font-size="19.5" fill="#000" text-anchor="start" textLength="30.3" lengthAdjust="spacingAndGlyphs" stroke="#fff" stroke-width="0.45">30N</text>
<text x="-18.4" y="260" font-size="19.5" fill="#000" text-anchor="start" textLength="38.6" lengthAdjust="spacingAndGlyphs" stroke="#fff" stroke-width="0.45">140E</text>
<text x="47.1" y="260" font-size="19.5" fill="#000" text-anchor="start" textLength="38.6" lengthAdjust="spacingAndGlyphs" stroke="#fff" stroke-width="0.45">160E</text>
<text x="117.6" y="260" font-size="19.5" fill="#000" text-anchor="start" textLength="28.5" lengthAdjust="spacingAndGlyphs" stroke="#fff" stroke-width="0.45">180</text>
<text x="176.1" y="260" font-size="19.5" fill="#000" text-anchor="start" textLength="42.3" lengthAdjust="spacingAndGlyphs" stroke="#fff" stroke-width="0.45">160W</text>
<text x="241.6" y="260" font-size="19.5" fill="#000" text-anchor="start" textLength="42.3" lengthAdjust="spacingAndGlyphs" stroke="#fff" stroke-width="0.45">140W</text>
<text x="307.0" y="260" font-size="19.5" fill="#000" text-anchor="start" textLength="42.3" lengthAdjust="spacingAndGlyphs" stroke="#fff" stroke-width="0.45">120W</text>
<text x="372.5" y="260" font-size="19.5" fill="#000" text-anchor="start" textLength="42.3" lengthAdjust="spacingAndGlyphs" stroke="#fff" stroke-width="0.45">100W</text>
<text x="442.1" y="260" font-size="19.5" fill="#000" text-anchor="start" textLength="32.5" lengthAdjust="spacingAndGlyphs" stroke="#fff" stroke-width="0.45">80W</text>
<text x="507.6" y="260" font-size="19.5" fill="#000" text-anchor="start" textLength="32.5" lengthAdjust="spacingAndGlyphs" stroke="#fff" stroke-width="0.45">60W</text>
<text x="573.0" y="260" font-size="19.5" fill="#000" text-anchor="start" textLength="32.5" lengthAdjust="spacingAndGlyphs" stroke="#fff" stroke-width="0.45">40W</text>
<text x="638.5" y="260" font-size="19.5" fill="#000" text-anchor="start" textLength="32.5" lengthAdjust="spacingAndGlyphs" stroke="#fff" stroke-width="0.45">20W</text>
<text x="716.0" y="260" font-size="19.5" fill="#000" text-anchor="start" textLength="8.5" lengthAdjust="spacingAndGlyphs" stroke="#fff" stroke-width="0.45">0</text>
</g>
<g transform="translate(900,250)">
<g clip-path="url(#cp)">
<path fill="#ffe878" d="M-2.9 45.1 C-1.0 38.3 4.6 45.8 8.7 46.5 C12.8 47.3 17.2 48.4 21.8 49.5 C26.4 50.5 32.0 52.0 36.4 53.1 C40.7 54.2 44.6 54.9 48.0 56.0 C51.4 57.1 54.5 58.3 56.7 59.6 C58.9 61.0 60.0 62.5 61.1 64.0 C62.2 65.5 63.8 66.9 63.3 68.4 C62.8 69.8 60.0 71.0 58.2 72.7 C56.4 74.4 54.8 76.8 52.4 78.5 C49.9 80.2 46.8 81.8 43.6 82.9 C40.5 84.0 36.6 84.4 33.5 85.1 C30.3 85.8 27.2 86.2 24.7 87.3 C22.3 88.4 20.1 90.4 18.9 91.6 C17.7 92.8 19.4 94.1 17.5 94.5 C15.5 95.0 9.7 95.3 7.3 94.5 C4.8 93.8 4.6 91.4 2.9 90.2 C1.2 89.0 -1.9 94.8 -2.9 87.3 C-3.9 79.8 -4.8 51.9 -2.9 45.1 Z"/>
<path fill="#ffa000" d="M20.4 68.1 L26.2 68.1 L26.2 69.5 L20.4 69.5 Z"/>
<path fill="#ffe878" d="M-2.9 106.9 C-1.4 97.3 2.9 103.4 5.8 102.5 C8.7 101.7 11.9 101.9 14.5 101.8 C17.2 101.7 19.4 101.1 21.8 101.8 C24.2 102.5 26.4 104.7 29.1 106.2 C31.8 107.6 34.9 109.3 37.8 110.5 C40.7 111.8 44.5 112.5 46.5 113.5 C48.6 114.4 49.3 114.7 50.2 116.4 C51.0 118.1 51.0 121.2 51.6 123.6 C52.2 126.1 53.1 128.6 53.8 130.9 C54.5 133.2 54.1 136.2 56.0 137.5 C57.9 138.7 62.4 137.8 65.5 138.2 C68.5 138.5 71.5 138.8 74.2 139.6 C76.8 140.5 78.8 141.8 81.5 143.3 C84.1 144.7 87.3 146.5 90.2 148.4 C93.1 150.2 96.0 152.6 98.9 154.2 C101.8 155.8 104.7 156.8 107.6 157.8 C110.5 158.8 113.5 159.6 116.4 160.0 C119.3 160.4 122.7 160.6 125.1 160.0 C127.5 159.4 129.2 157.8 130.9 156.4 C132.6 154.9 134.2 152.8 135.3 151.3 C136.4 149.7 138.2 148.2 137.5 146.9 C136.7 145.6 133.0 144.5 130.9 143.3 C128.8 142.1 126.8 141.2 125.1 139.6 C123.4 138.1 121.9 136.0 120.7 133.8 C119.5 131.6 118.4 129.2 117.8 126.5 C117.2 123.9 116.8 120.5 117.1 117.8 C117.3 115.2 118.2 112.7 119.3 110.5 C120.4 108.4 121.7 106.4 123.6 104.7 C125.6 103.0 129.2 101.6 130.9 100.4 C132.6 99.2 133.8 98.7 133.8 97.5 C133.8 96.2 132.1 94.5 130.9 93.1 C129.7 91.6 128.0 90.3 126.5 88.7 C125.1 87.2 123.4 85.3 122.2 83.6 C121.0 81.9 119.5 80.4 119.3 78.5 C119.0 76.7 119.8 74.5 120.7 72.7 C121.7 70.9 123.4 69.1 125.1 67.6 C126.8 66.2 128.5 65.1 130.9 64.0 C133.3 62.9 136.2 62.1 139.6 61.1 C143.0 60.1 147.9 59.2 151.3 58.2 C154.7 57.2 157.6 56.5 160.0 55.3 C162.4 54.1 164.8 52.4 165.8 50.9 C166.8 49.5 166.8 48.0 165.8 46.5 C164.8 45.1 161.6 43.5 160.0 42.2 C158.4 40.8 155.9 39.5 156.4 38.5 C156.8 37.6 160.4 37.3 162.9 36.4 C165.5 35.4 168.2 33.7 171.6 32.7 C175.0 31.8 179.4 31.4 183.3 30.5 C187.2 29.7 190.5 28.4 194.9 27.6 C199.3 26.9 204.4 26.6 209.5 26.2 C214.5 25.7 220.4 25.3 225.5 25.0 C230.5 24.8 236.8 24.7 240.0 24.7 C243.2 24.7 241.4 25.0 244.5 25.0 C247.7 25.1 254.2 25.1 259.1 25.0 C263.9 24.9 269.5 24.7 273.6 24.4 C277.8 24.1 280.7 24.0 283.8 23.3 C287.0 22.6 289.4 21.5 292.5 20.4 C295.7 19.3 299.6 17.8 302.7 16.7 C305.9 15.6 308.1 14.7 311.5 13.8 C314.8 12.9 319.2 12.1 323.1 11.3 C327.0 10.6 330.4 10.0 334.7 9.5 C339.1 8.9 343.7 8.6 349.3 8.0 C354.8 7.4 361.9 6.5 368.2 6.1 C374.5 5.7 381.0 5.6 387.1 5.5 C393.2 5.4 398.5 5.5 404.5 5.5 C410.6 5.6 417.9 5.7 423.5 5.8 C429.0 5.9 433.4 5.9 438.0 6.1 C442.6 6.4 447.5 6.8 451.1 7.3 C454.7 7.7 457.9 8.0 459.8 8.7 C461.8 9.5 462.2 10.4 462.7 11.6 C463.2 12.8 463.2 14.3 462.7 16.0 C462.2 17.7 460.8 19.9 459.8 21.8 C458.8 23.8 458.4 25.7 456.9 27.6 C455.5 29.6 453.0 31.8 451.1 33.5 C449.2 35.2 447.7 36.4 445.3 37.8 C442.8 39.3 439.7 41.0 436.5 42.2 C433.4 43.4 429.3 44.2 426.4 45.1 C423.5 45.9 421.5 46.4 419.1 47.3 C416.7 48.1 414.2 49.1 411.8 50.2 C409.4 51.3 407.0 52.6 404.5 53.8 C402.1 55.0 399.7 56.5 397.3 57.5 C394.8 58.4 392.4 58.8 390.0 59.6 C387.6 60.5 385.2 61.6 382.7 62.5 C380.3 63.5 377.6 64.5 375.5 65.5 C373.3 66.4 370.8 67.2 369.6 68.4 C368.4 69.6 368.2 71.3 368.2 72.7 C368.2 74.2 367.9 76.1 369.6 77.1 C371.3 78.1 375.0 78.1 378.4 78.5 C381.8 79.0 385.6 79.3 390.0 80.0 C394.4 80.7 400.2 81.9 404.5 82.9 C408.9 83.9 412.5 84.8 416.2 85.8 C419.8 86.8 423.5 87.8 426.4 88.7 C429.3 89.7 431.5 90.4 433.6 91.6 C435.8 92.8 438.2 94.3 439.5 96.0 C440.7 97.7 440.7 99.4 440.9 101.8 C441.2 104.2 441.4 108.1 440.9 110.5 C440.4 113.0 439.7 114.7 438.0 116.4 C436.3 118.1 433.9 119.5 430.7 120.7 C427.6 121.9 423.0 122.7 419.1 123.6 C415.2 124.6 411.1 125.8 407.5 126.5 C403.8 127.3 400.4 127.5 397.3 128.0 C394.1 128.5 391.0 128.8 388.5 129.5 C386.1 130.1 384.7 130.7 382.7 131.6 C380.8 132.6 378.4 133.7 376.9 135.3 C375.5 136.8 375.0 139.2 374.0 141.1 C373.0 143.0 371.8 145.2 371.1 146.9 C370.4 148.6 371.3 150.7 369.6 151.3 C367.9 151.9 363.3 151.3 360.9 150.5 C358.5 149.8 357.0 148.2 355.1 146.9 C353.2 145.6 351.2 143.8 349.3 142.5 C347.3 141.3 344.9 140.5 343.5 139.6 C342.0 138.8 341.2 138.9 340.5 137.5 C339.9 136.0 339.8 132.7 339.8 130.9 C339.8 129.1 339.5 127.8 340.5 126.5 C341.6 125.3 344.2 124.8 346.4 123.6 C348.5 122.4 352.4 120.7 353.6 119.3 C354.8 117.8 353.6 116.8 353.6 114.9 C353.6 113.0 353.6 110.3 353.6 107.6 C353.6 105.0 353.4 101.8 353.6 98.9 C353.9 96.0 354.7 92.8 355.1 90.2 C355.5 87.5 356.1 84.8 355.8 82.9 C355.6 81.0 355.2 79.8 353.6 78.5 C352.1 77.3 348.8 76.4 346.4 75.6 C343.9 74.9 341.5 74.2 339.1 74.2 C336.7 74.2 334.2 74.9 331.8 75.6 C329.4 76.4 327.0 77.6 324.5 78.5 C322.1 79.5 319.5 80.7 317.3 81.5 C315.1 82.2 314.4 82.6 311.5 82.9 C308.5 83.2 303.7 83.2 299.8 83.2 C295.9 83.2 291.1 82.3 288.2 83.2 C285.3 84.1 282.4 87.2 282.4 88.7 C282.4 90.3 286.2 91.2 288.2 92.4 C290.1 93.6 292.9 94.4 294.0 96.0 C295.1 97.6 294.7 99.4 294.7 101.8 C294.7 104.2 294.4 107.4 294.0 110.5 C293.6 113.7 293.0 117.3 292.5 120.7 C292.1 124.1 291.5 127.8 291.1 130.9 C290.7 134.1 291.3 137.5 290.4 139.6 C289.4 141.8 287.3 142.5 285.3 144.0 C283.2 145.5 280.4 147.0 278.0 148.4 C275.6 149.7 273.2 151.5 270.7 152.0 C268.3 152.5 265.4 152.1 263.5 151.3 C261.5 150.4 260.5 148.4 259.1 146.9 C257.6 145.5 256.4 144.0 254.7 142.5 C253.0 141.1 250.6 139.4 248.9 138.2 C247.2 137.0 246.5 135.6 244.5 135.3 C242.6 134.9 238.8 135.5 237.3 136.0 C235.8 136.5 237.4 136.1 235.6 138.2 C233.9 140.2 229.3 147.2 226.9 148.4 C224.5 149.5 222.8 144.8 221.1 145.0 C219.4 145.2 218.4 147.7 216.7 149.4 C215.0 151.1 212.8 153.1 210.9 155.2 C209.0 157.2 207.0 159.5 205.1 161.7 C203.2 163.9 201.2 166.2 199.3 168.3 C197.3 170.3 195.4 172.2 193.5 174.1 C191.5 176.0 189.8 178.1 187.6 179.9 C185.5 181.7 182.8 183.7 180.4 185.0 C177.9 186.3 176.0 187.3 173.1 187.9 C170.2 188.5 166.3 188.8 162.9 188.6 C159.5 188.5 155.6 188.2 152.7 187.2 C149.8 186.2 147.6 184.2 145.5 182.8 C143.3 181.5 141.6 180.3 139.6 179.2 C137.7 178.1 135.5 176.9 133.8 176.3 C132.1 175.6 131.4 175.1 129.5 175.3 C127.5 175.4 125.8 176.6 122.2 177.0 C118.5 177.4 112.5 177.5 107.6 177.7 C102.8 177.9 97.7 177.9 93.1 178.2 C88.5 178.4 84.1 178.8 80.0 179.2 C75.9 179.6 72.0 180.0 68.4 180.6 C64.7 181.2 61.6 182.0 58.2 182.8 C54.8 183.7 51.6 184.8 48.0 185.7 C44.4 186.7 40.0 187.4 36.4 188.6 C32.7 189.8 29.3 191.5 26.2 193.0 C23.0 194.5 20.4 196.0 17.5 197.4 C14.5 198.7 11.6 200.6 8.7 201.0 C5.8 201.4 1.5 200.9 0.0 199.5 C-1.5 198.2 -1.1 194.4 0.0 193.0 C1.1 191.6 5.2 194.0 6.5 191.0 C7.8 188.0 7.6 179.8 7.5 175.0 C7.4 170.2 7.8 164.5 6.0 162.0 C4.2 159.5 -1.5 169.2 -3.0 160.0 C-4.5 150.8 -4.4 116.5 -2.9 106.9 Z"/>
<path fill="#ffffff" d="M153.1 88.9 L157.5 83.0 L164.1 75.0 L170.6 72.1 L179.4 70.6 L183.8 69.2 L184.5 64.1 L180.8 60.4 L186.7 60.1 L195.4 61.2 L205.6 64.1 L213.7 65.5 L218.0 69.2 L218.8 77.9 L220.2 83.8 L222.1 88.1 L219.5 92.5 L216.6 97.6 L210.0 101.3 L204.9 102.7 L198.4 102.0 L192.5 100.5 L185.2 99.1 L176.5 98.4 L169.2 98.0 L163.3 97.6 L158.2 94.0 Z"/>
<path fill="#ffa000" d="M15.3 128.0 C15.6 126.2 16.1 124.2 17.5 122.9 C18.8 121.6 20.8 120.4 23.3 120.0 C25.7 119.6 29.6 120.1 32.0 120.7 C34.4 121.3 36.4 122.4 37.8 123.6 C39.3 124.8 40.5 126.1 40.7 128.0 C41.0 129.9 39.6 132.8 39.3 135.3 C38.9 137.7 38.5 140.5 38.5 142.5 C38.5 144.6 37.7 146.7 39.3 147.6 C40.8 148.6 44.8 147.8 48.0 148.4 C51.2 149.0 55.0 150.3 58.2 151.3 C61.3 152.2 64.1 153.3 66.9 154.2 C69.7 155.1 74.4 155.8 74.9 156.8 C75.4 157.8 71.9 158.7 69.8 160.0 C67.8 161.3 65.0 162.7 62.5 164.4 C60.1 166.1 57.7 168.5 55.3 170.2 C52.8 171.9 50.7 173.0 48.0 174.5 C45.3 176.1 42.2 178.3 39.3 179.6 C36.4 181.0 33.2 181.9 30.5 182.5 C27.9 183.2 25.1 183.8 23.3 183.3 C21.5 182.8 20.4 180.8 19.6 179.6 C18.9 178.4 18.5 178.1 18.9 176.0 C19.3 173.9 20.7 169.9 21.8 167.3 C22.9 164.6 24.5 162.2 25.5 160.0 C26.4 157.8 27.8 155.6 27.6 154.2 C27.5 152.7 25.9 152.7 24.7 151.3 C23.5 149.8 21.7 147.4 20.4 145.5 C19.0 143.5 17.6 141.6 16.7 139.6 C15.9 137.7 15.5 135.8 15.3 133.8 C15.0 131.9 14.9 129.8 15.3 128.0 Z"/>
<path fill="#ff6000" d="M31.3 165.8 L34.9 160.0 L40.0 155.9 L45.1 156.4 L43.6 161.5 L42.9 166.5 L37.8 169.5 L32.7 170.5 Z"/>
<path fill="#ffa000" d="M126.5 116.4 C126.7 113.7 127.8 111.2 129.5 109.1 C131.2 107.0 134.1 105.2 136.7 104.0 C139.4 102.8 142.1 102.3 145.5 101.8 C148.8 101.3 153.2 101.0 157.1 101.1 C161.0 101.2 165.1 101.9 168.7 102.5 C172.4 103.2 175.8 103.6 178.9 104.7 C182.1 105.8 185.0 107.6 187.6 109.1 C190.3 110.5 192.2 112.7 194.9 113.5 C197.6 114.2 200.5 113.6 203.6 113.5 C206.8 113.3 210.4 112.7 213.8 112.7 C217.2 112.7 221.1 113.1 224.0 113.5 C226.9 113.8 229.8 113.9 231.3 114.9 C232.7 115.9 233.2 117.3 232.7 119.3 C232.2 121.2 229.8 124.4 228.4 126.5 C226.9 128.7 225.7 130.4 224.0 132.4 C222.3 134.3 220.4 136.2 218.2 138.2 C216.0 140.1 213.3 141.8 210.9 144.0 C208.5 146.2 206.1 148.8 203.6 151.3 C201.2 153.7 198.5 155.9 196.4 158.5 C194.2 161.2 192.5 164.8 190.5 167.3 C188.6 169.7 186.9 171.5 184.7 173.1 C182.5 174.7 180.1 175.9 177.5 176.7 C174.8 177.6 171.6 178.2 168.7 178.2 C165.8 178.2 162.1 177.6 160.0 176.7 C157.9 175.9 157.6 175.2 156.4 173.1 C155.2 171.0 154.1 167.3 152.7 164.4 C151.4 161.5 149.1 158.5 148.4 155.6 C147.6 152.7 148.8 149.6 148.4 146.9 C147.9 144.2 146.9 141.6 145.5 139.6 C144.0 137.7 141.6 136.7 139.6 135.3 C137.7 133.8 135.6 132.6 133.8 130.9 C132.0 129.2 129.9 127.5 128.7 125.1 C127.5 122.7 126.4 119.0 126.5 116.4 Z"/>
<path fill="#ff6000" d="M135.3 117.8 C135.0 115.5 137.7 113.1 139.6 111.3 C141.6 109.5 143.8 107.8 146.9 106.9 C150.1 106.1 154.7 105.9 158.5 106.2 C162.4 106.4 166.8 107.4 170.2 108.4 C173.6 109.3 176.2 110.7 178.9 112.0 C181.6 113.3 183.8 114.9 186.2 116.4 C188.6 117.8 190.5 120.0 193.5 120.7 C196.4 121.5 200.5 120.5 203.6 120.7 C206.8 121.0 209.9 121.0 212.4 122.2 C214.8 123.4 217.9 126.1 218.2 128.0 C218.4 129.9 215.5 131.9 213.8 133.8 C212.1 135.8 209.9 137.5 208.0 139.6 C206.1 141.8 204.4 144.2 202.2 146.9 C200.0 149.6 197.3 153.0 194.9 155.6 C192.5 158.3 190.1 161.0 187.6 162.9 C185.2 164.8 183.0 166.3 180.4 167.3 C177.7 168.2 174.1 168.7 171.6 168.7 C169.2 168.7 167.5 168.5 165.8 167.3 C164.1 166.1 162.8 163.9 161.5 161.5 C160.1 159.0 158.7 155.9 157.8 152.7 C157.0 149.6 157.0 145.7 156.4 142.5 C155.8 139.4 155.5 136.0 154.2 133.8 C152.8 131.6 150.5 130.9 148.4 129.5 C146.2 128.0 143.3 127.0 141.1 125.1 C138.9 123.2 135.5 120.1 135.3 117.8 Z"/>
<path fill="#e11400" d="M162.9 120.7 C163.6 118.5 165.3 117.3 167.3 116.4 C169.2 115.4 172.1 114.7 174.5 114.9 C177.0 115.2 179.4 116.4 181.8 117.8 C184.2 119.3 186.7 121.7 189.1 123.6 C191.5 125.6 194.5 127.3 196.4 129.5 C198.2 131.6 200.2 134.3 200.0 136.7 C199.8 139.2 196.7 141.6 194.9 144.0 C193.1 146.4 191.3 149.1 189.1 151.3 C186.9 153.5 184.2 156.1 181.8 157.1 C179.4 158.1 176.7 157.6 174.5 157.1 C172.4 156.6 170.7 155.6 168.7 154.2 C166.8 152.7 164.0 150.8 162.9 148.4 C161.8 145.9 162.2 142.8 162.2 139.6 C162.2 136.5 162.8 132.6 162.9 129.5 C163.0 126.3 162.2 122.9 162.9 120.7 Z"/>
<path fill="#a50000" d="M171.6 126.5 C173.3 124.8 178.5 124.4 180.4 125.1 C182.2 125.8 181.8 129.0 182.5 130.9 C183.3 132.8 184.8 134.8 184.7 136.7 C184.6 138.7 184.0 141.6 181.8 142.5 C179.6 143.5 173.6 143.8 171.6 142.5 C169.7 141.3 170.2 137.9 170.2 135.3 C170.2 132.6 169.9 128.2 171.6 126.5 Z"/>
<path fill="#ffa000" d="M203.6 38.5 C204.6 37.2 210.2 36.4 213.8 35.6 C217.5 34.8 221.1 34.2 225.5 33.7 C229.8 33.3 236.8 33.3 240.0 33.2 C243.2 33.1 241.4 32.9 244.5 33.2 C247.7 33.4 254.7 34.0 259.1 34.6 C263.5 35.3 267.6 36.4 270.7 37.1 C273.9 37.8 278.0 37.9 278.0 39.0 C278.0 40.1 273.9 42.1 270.7 43.6 C267.6 45.1 263.5 46.8 259.1 48.0 C254.7 49.2 249.4 50.1 244.5 50.9 C239.7 51.7 232.2 52.4 230.0 52.7 C227.8 52.9 232.8 52.7 231.3 52.4 C229.8 52.1 224.2 51.6 221.1 50.9 C217.9 50.2 214.5 49.2 212.4 48.0 C210.2 46.8 209.5 45.2 208.0 43.6 C206.5 42.1 202.7 39.9 203.6 38.5 Z"/>
<path fill="#ffa000" d="M243.8 100.4 C244.7 98.4 246.8 97.9 248.9 97.5 C251.0 97.0 253.5 97.3 256.2 97.7 C258.8 98.2 262.2 99.0 264.9 100.4 C267.6 101.8 270.0 104.0 272.2 106.2 C274.4 108.4 276.4 111.0 278.0 113.5 C279.6 115.9 281.2 118.3 281.6 120.7 C282.1 123.2 281.8 125.9 280.9 128.0 C280.1 130.1 278.5 131.9 276.5 133.1 C274.6 134.3 271.7 135.3 269.3 135.3 C266.8 135.3 264.2 134.3 262.0 133.1 C259.8 131.9 258.1 129.8 256.2 128.0 C254.2 126.2 252.1 124.1 250.4 122.2 C248.7 120.2 247.1 118.5 246.0 116.4 C244.9 114.2 244.2 111.8 243.8 109.1 C243.5 106.4 243.0 102.3 243.8 100.4 Z"/>
<path fill="#ffa000" d="M227.8 112.7 L230.0 114.9 L232.9 117.8 L230.0 122.2 L227.8 123.6 Z"/>
<path fill="#ffa000" d="M303.5 34.9 C303.5 33.2 304.3 30.8 305.6 29.1 C307.0 27.4 309.0 26.2 311.5 24.7 C313.9 23.3 316.8 21.7 320.2 20.4 C323.6 19.0 327.5 17.8 331.8 16.7 C336.2 15.6 341.5 14.7 346.4 13.8 C351.2 13.0 356.1 12.2 360.9 11.6 C365.8 11.1 370.6 10.7 375.5 10.5 C380.3 10.2 385.2 10.1 390.0 10.2 C394.8 10.3 399.7 10.5 404.5 10.9 C409.4 11.3 414.7 11.8 419.1 12.4 C423.5 13.0 427.3 13.7 430.7 14.5 C434.1 15.4 437.8 16.2 439.5 17.5 C441.2 18.7 441.4 20.1 440.9 21.8 C440.4 23.5 438.2 25.9 436.5 27.6 C434.8 29.3 433.2 30.5 430.7 32.0 C428.3 33.5 425.2 34.9 422.0 36.4 C418.8 37.8 415.9 39.5 411.8 40.7 C407.7 41.9 402.1 42.7 397.3 43.6 C392.4 44.6 387.6 45.7 382.7 46.5 C377.9 47.4 373.0 48.4 368.2 48.7 C363.3 49.1 358.5 49.0 353.6 48.7 C348.8 48.5 343.9 47.9 339.1 47.3 C334.2 46.7 328.9 45.9 324.5 45.1 C320.2 44.2 316.1 43.2 312.9 42.2 C309.8 41.2 307.2 40.5 305.6 39.3 C304.1 38.1 303.5 36.6 303.5 34.9 Z"/>
<path fill="#ff6000" d="M315.8 32.7 C315.8 31.3 318.0 29.8 320.2 28.4 C322.4 26.9 325.5 25.3 328.9 24.0 C332.3 22.7 336.2 21.5 340.5 20.4 C344.9 19.3 350.2 18.3 355.1 17.5 C359.9 16.6 364.8 15.8 369.6 15.3 C374.5 14.8 379.6 14.4 384.2 14.5 C388.8 14.7 393.2 15.3 397.3 16.0 C401.4 16.7 406.2 17.7 408.9 18.9 C411.6 20.1 413.0 21.6 413.3 23.3 C413.5 25.0 411.8 27.3 410.4 29.1 C408.9 30.9 407.2 32.6 404.5 34.2 C401.9 35.8 398.2 37.2 394.4 38.5 C390.5 39.9 385.9 41.2 381.3 42.2 C376.7 43.2 371.6 44.0 366.7 44.4 C361.9 44.7 356.8 44.6 352.2 44.4 C347.6 44.1 343.2 43.6 339.1 42.9 C335.0 42.2 330.6 41.0 327.5 40.0 C324.3 39.0 322.1 38.3 320.2 37.1 C318.2 35.9 315.8 34.2 315.8 32.7 Z"/>
<path fill="#e11400" d="M324.5 32.7 C324.8 31.4 327.9 29.7 330.4 28.4 C332.8 27.0 335.7 25.8 339.1 24.7 C342.5 23.6 346.6 22.7 350.7 21.8 C354.8 21.0 359.5 20.1 363.8 19.6 C368.2 19.2 372.8 18.9 376.9 18.9 C381.0 18.9 385.2 19.0 388.5 19.6 C391.9 20.2 395.3 21.2 397.3 22.5 C399.2 23.9 400.4 25.9 400.2 27.6 C399.9 29.3 398.0 31.2 395.8 32.7 C393.6 34.3 390.5 35.9 387.1 37.1 C383.7 38.3 379.8 39.3 375.5 40.0 C371.1 40.7 365.5 41.3 360.9 41.5 C356.3 41.6 351.9 41.2 347.8 40.7 C343.7 40.2 339.3 39.3 336.2 38.5 C333.0 37.8 330.8 37.3 328.9 36.4 C327.0 35.4 324.3 34.1 324.5 32.7 Z"/>
<path fill="#a50000" d="M331.8 32.7 C331.3 31.5 335.2 30.2 337.6 29.1 C340.1 28.0 343.0 27.0 346.4 26.2 C349.8 25.3 354.1 24.5 358.0 24.0 C361.9 23.5 365.8 23.1 369.6 23.0 C373.5 22.9 378.1 22.9 381.3 23.3 C384.4 23.7 387.1 24.4 388.5 25.5 C390.0 26.5 390.7 28.4 390.0 29.8 C389.3 31.3 386.8 33.0 384.2 34.2 C381.5 35.4 377.9 36.4 374.0 37.1 C370.1 37.8 365.0 38.4 360.9 38.5 C356.8 38.7 352.7 38.2 349.3 37.8 C345.9 37.5 343.5 37.2 340.5 36.4 C337.6 35.5 332.3 33.9 331.8 32.7 Z"/>
<path fill="#f0a0a0" d="M342.0 30.5 C342.2 29.6 346.6 28.3 349.3 27.6 C351.9 27.0 355.6 26.9 358.0 26.6 C360.4 26.4 361.9 26.3 363.8 26.2 C365.8 26.1 367.7 25.8 369.6 26.2 C371.6 26.5 374.0 27.5 375.5 28.4 C376.9 29.2 378.8 30.3 378.4 31.3 C377.9 32.2 375.0 33.6 372.5 34.2 C370.1 34.8 366.2 35.0 363.8 34.9 C361.4 34.8 359.7 33.7 358.0 33.7 C356.3 33.7 355.3 35.0 353.6 34.9 C351.9 34.9 349.8 34.2 347.8 33.5 C345.9 32.7 341.8 31.5 342.0 30.5 Z"/>
<path fill="#ffe1e1" d="M375.9 29.1 L379.5 29.1 L379.5 31.1 L375.9 31.1 Z"/>
<path fill="#ffe1e1" d="M350.0 29.1 L358.7 27.6 L359.2 28.7 L350.7 30.1 Z"/>
<path fill="#ffa000" d="M363.8 98.9 C364.2 96.5 365.0 94.9 366.7 93.1 C368.4 91.3 371.1 89.2 374.0 88.0 C376.9 86.8 380.5 86.2 384.2 85.8 C387.8 85.5 392.4 85.3 395.8 85.8 C399.2 86.3 401.9 87.8 404.5 88.7 C407.2 89.7 409.4 90.7 411.8 91.6 C414.2 92.6 417.2 93.6 419.1 94.5 C421.0 95.5 423.2 96.2 423.5 97.5 C423.7 98.7 421.8 100.4 420.5 101.8 C419.3 103.3 418.1 104.7 416.2 106.2 C414.2 107.6 411.6 109.2 408.9 110.5 C406.2 111.9 403.3 113.0 400.2 114.2 C397.0 115.4 393.2 116.7 390.0 117.8 C386.8 118.9 384.2 120.0 381.3 120.7 C378.4 121.5 374.7 122.2 372.5 122.2 C370.4 122.2 369.3 121.9 368.2 120.7 C367.1 119.5 366.6 117.1 366.0 114.9 C365.4 112.7 364.9 110.3 364.5 107.6 C364.2 105.0 363.5 101.3 363.8 98.9 Z"/>
<path fill="#ff6000" d="M371.1 98.9 C371.5 97.2 373.5 95.2 375.5 93.8 C377.4 92.5 380.1 91.4 382.7 90.9 C385.4 90.4 388.5 90.5 391.5 90.9 C394.4 91.3 397.5 92.2 400.2 93.1 C402.8 93.9 406.0 94.8 407.5 96.0 C408.9 97.2 409.4 99.0 408.9 100.4 C408.4 101.7 406.5 102.8 404.5 104.0 C402.6 105.2 399.7 106.5 397.3 107.6 C394.8 108.7 392.4 109.8 390.0 110.5 C387.6 111.3 384.9 112.2 382.7 112.0 C380.5 111.8 378.5 110.4 376.9 109.1 C375.3 107.8 374.2 105.7 373.3 104.0 C372.3 102.3 370.7 100.6 371.1 98.9 Z"/>
<path fill="#e11400" d="M377.6 98.2 C377.6 97.1 379.7 95.9 381.3 95.3 C382.8 94.7 384.9 94.5 387.1 94.5 C389.3 94.5 392.2 94.8 394.4 95.3 C396.5 95.8 399.7 96.5 400.2 97.5 C400.7 98.4 398.7 100.0 397.3 101.1 C395.8 102.2 393.4 103.4 391.5 104.0 C389.5 104.6 387.3 105.1 385.6 104.7 C383.9 104.4 382.6 102.9 381.3 101.8 C379.9 100.7 377.6 99.3 377.6 98.2 Z"/>
<path fill="#ffe878" d="M473.8 137.5 C474.5 135.2 476.8 133.5 478.9 131.6 C481.0 129.8 483.5 128.4 486.2 126.5 C488.8 124.7 491.8 122.4 494.9 120.7 C498.1 119.0 501.5 117.6 505.1 116.4 C508.7 115.2 512.8 114.4 516.7 113.5 C520.6 112.5 524.2 111.5 528.4 110.5 C532.5 109.6 537.1 108.4 541.5 107.6 C545.8 106.9 550.3 106.3 554.5 106.2 C558.8 106.1 565.1 105.5 566.9 106.9 C568.7 108.4 566.3 112.8 565.5 114.9 C564.6 117.0 563.9 117.8 561.8 119.3 C559.8 120.7 556.0 122.4 553.1 123.6 C550.2 124.8 547.3 125.5 544.4 126.5 C541.5 127.6 538.3 129.0 535.6 130.2 C533.0 131.4 530.5 132.2 528.4 133.8 C526.2 135.4 524.2 137.5 522.5 139.6 C520.8 141.8 519.2 144.5 518.2 146.9 C517.2 149.3 517.2 151.7 516.7 154.2 C516.2 156.7 515.8 159.3 515.1 162.1 C514.5 164.9 513.9 168.4 512.9 170.8 C512.0 173.3 510.8 174.7 509.3 176.7 C507.8 178.6 506.0 180.8 504.2 182.5 C502.4 184.2 500.7 185.6 498.4 186.9 C496.0 188.2 493.0 189.6 490.3 190.5 C487.7 191.5 485.0 192.2 482.3 192.4 C479.6 192.5 476.2 192.1 474.3 191.3 C472.3 190.5 471.7 189.1 470.6 187.6 C469.5 186.2 468.4 184.3 467.7 182.5 C467.0 180.7 466.4 178.6 466.3 176.7 C466.1 174.7 466.5 172.8 467.0 170.8 C467.5 168.9 468.1 167.4 469.2 165.0 C470.3 162.6 472.5 158.9 473.6 156.3 C474.6 153.6 475.4 151.2 475.7 149.0 C476.1 146.8 476.1 145.3 475.7 143.1 C475.4 140.9 473.8 135.4 473.6 135.8 C473.4 136.2 474.5 145.2 474.5 145.5 C474.6 145.7 473.1 139.8 473.8 137.5 Z"/>
<path fill="#ffa000" d="M490.3 138.4 C492.3 137.2 496.4 137.0 498.4 137.7 C500.3 138.3 501.0 140.3 502.0 142.4 C503.0 144.5 503.9 147.6 504.2 150.4 C504.4 153.2 503.8 156.5 503.5 159.2 C503.1 161.9 502.8 164.3 502.0 166.5 C501.1 168.7 499.9 170.5 498.4 172.3 C496.8 174.1 495.2 176.3 492.5 177.4 C489.8 178.6 484.4 179.6 482.3 179.2 C480.2 178.9 480.5 177.3 479.8 175.2 C479.0 173.1 477.7 169.1 477.9 166.5 C478.1 163.8 479.9 161.6 480.8 159.2 C481.8 156.7 482.8 154.3 483.8 151.9 C484.7 149.5 485.6 146.8 486.7 144.6 C487.8 142.3 488.4 139.5 490.3 138.4 Z"/>
<path fill="#ffe878" d="M604.0 87.3 C606.1 86.0 609.6 86.7 612.7 87.0 C615.9 87.2 619.3 88.6 622.9 88.7 C626.5 88.9 630.9 88.5 634.5 88.0 C638.2 87.5 641.3 86.8 644.7 85.8 C648.1 84.8 655.4 82.3 654.9 82.2 C654.4 82.0 642.3 85.4 642.0 85.0 C641.6 84.7 649.3 81.5 652.9 80.1 C656.6 78.6 660.3 77.4 663.9 76.2 C667.6 75.0 671.2 73.8 674.9 72.9 C678.6 72.1 682.2 71.5 685.9 71.1 C689.5 70.6 693.2 70.4 696.9 70.2 C700.5 70.0 703.6 69.9 707.8 69.9 C712.1 69.8 719.7 61.3 722.1 69.9 C724.5 78.4 723.6 112.1 722.1 121.3 C720.7 130.4 716.1 123.5 713.3 124.6 C710.6 125.6 708.4 126.7 705.6 127.8 C702.9 128.9 700.2 130.1 696.9 131.1 C693.6 132.1 689.5 133.2 685.9 133.9 C682.2 134.6 678.6 135.1 674.9 135.5 C671.2 136.0 667.6 136.3 663.9 136.6 C660.3 137.0 656.2 137.3 652.9 137.7 C649.6 138.2 646.9 139.2 644.2 139.4 C641.4 139.6 639.0 139.3 636.5 138.8 C633.9 138.4 631.5 137.5 628.8 136.6 C626.0 135.7 622.4 135.0 620.0 133.3 C617.6 131.7 616.1 128.4 614.2 126.5 C612.2 124.7 610.1 123.6 608.4 122.2 C606.7 120.7 604.2 119.8 604.0 117.8 C603.8 115.9 606.7 112.7 606.9 110.5 C607.2 108.4 606.3 106.4 605.5 104.7 C604.6 103.0 602.7 102.1 601.8 100.4 C601.0 98.7 600.0 96.7 600.4 94.5 C600.7 92.4 601.9 88.5 604.0 87.3 Z"/>
<path fill="#ffa000" d="M621.1 114.7 C620.7 112.7 621.6 109.9 623.3 108.1 C624.9 106.2 628.2 104.8 631.0 103.7 C633.7 102.6 636.8 102.6 639.8 101.5 C642.7 100.4 645.6 98.7 648.5 97.1 C651.5 95.5 654.4 93.4 657.3 91.6 C660.3 89.8 663.2 87.9 666.1 86.1 C669.0 84.4 672.0 82.5 674.9 81.2 C677.8 79.8 680.4 78.7 683.7 77.9 C687.0 77.1 691.0 76.4 694.7 76.2 C698.3 76.1 702.4 76.4 705.6 76.8 C708.9 77.2 711.7 77.9 714.4 78.4 C717.2 79.0 720.8 75.7 722.1 80.1 C723.4 84.5 723.6 99.8 722.1 104.8 C720.7 109.8 716.1 108.6 713.3 110.3 C710.6 111.9 708.4 113.4 705.6 114.7 C702.9 115.9 700.2 116.7 696.9 118.0 C693.6 119.2 689.5 121.3 685.9 122.4 C682.2 123.5 678.6 124.0 674.9 124.6 C671.2 125.1 667.6 125.4 663.9 125.6 C660.3 125.9 656.6 126.3 652.9 126.2 C649.3 126.1 645.3 125.5 642.0 125.1 C638.7 124.7 635.9 124.8 633.2 124.0 C630.4 123.2 627.5 121.7 625.5 120.2 C623.5 118.6 621.5 116.7 621.1 114.7 Z"/>
<path fill="#ff6000" d="M645.3 107.5 C644.7 106.2 646.7 106.1 648.5 104.8 C650.4 103.5 653.7 101.7 656.2 99.8 C658.8 98.0 661.4 95.7 663.9 93.8 C666.5 91.9 669.0 90.0 671.6 88.3 C674.2 86.7 676.5 85.1 679.3 83.9 C682.0 82.8 684.8 82.0 688.1 81.5 C691.4 81.0 695.8 80.7 699.1 80.8 C702.4 81.0 705.3 81.6 707.8 82.3 C710.4 83.0 713.0 84.0 714.4 85.0 C715.9 86.0 716.8 86.7 716.6 88.3 C716.4 90.0 714.8 92.9 713.3 94.9 C711.9 96.9 709.9 98.7 707.8 100.4 C705.8 102.0 703.5 103.5 701.3 104.8 C699.1 106.1 697.2 107.0 694.7 108.1 C692.1 109.2 688.8 110.3 685.9 111.4 C683.0 112.5 680.0 113.8 677.1 114.7 C674.2 115.5 671.2 116.1 668.3 116.3 C665.4 116.5 662.3 116.3 659.5 115.8 C656.8 115.2 654.2 114.4 651.8 113.0 C649.5 111.6 645.8 108.9 645.3 107.5 Z"/>
<path fill="#e11400" d="M666.1 97.6 C666.1 95.3 668.5 94.4 670.5 92.7 C672.5 91.1 675.6 89.0 678.2 87.8 C680.8 86.6 683.1 86.1 685.9 85.6 C688.6 85.0 691.7 84.6 694.7 84.5 C697.6 84.4 701.2 84.4 703.5 85.0 C705.7 85.7 707.8 87.0 708.4 88.3 C708.9 89.6 707.6 91.2 706.7 92.7 C705.9 94.3 704.7 96.2 703.5 97.6 C702.2 99.1 701.1 100.3 699.1 101.5 C697.0 102.7 694.3 104.0 691.4 104.8 C688.4 105.6 685.0 106.1 681.5 106.4 C678.0 106.8 673.1 108.4 670.5 107.0 C667.9 105.5 666.1 100.0 666.1 97.6 Z"/>
<path fill="#a50000" d="M674.4 97.6 C674.2 96.4 677.4 94.7 679.3 93.8 C681.2 92.9 683.5 92.4 685.9 92.2 C688.3 91.9 691.7 91.8 693.6 92.5 C695.4 93.1 696.7 94.8 696.9 96.0 C697.0 97.2 696.1 98.8 694.7 99.8 C693.2 100.9 690.5 101.8 688.1 102.0 C685.7 102.3 682.7 102.2 680.4 101.5 C678.1 100.8 674.5 98.9 674.4 97.6 Z"/>
<g fill="none" stroke="#000" stroke-linejoin="round" stroke-linecap="butt" shape-rendering="crispEdges">
<path stroke-width="1" d="M0.0 48.7 L14.5 49.5 L29.1 50.9 L33.5 54.1 L42.2 56.0 L58.2 55.3 L64.7 57.0 L65.5 61.1 L77.1 61.1 L90.2 59.6 L93.1 61.8 L96.0 64.0 L100.4 63.3 L100.4 59.6 L110.5 59.3 L125.1 61.1 L130.9 64.0 L139.6 66.2 L148.4 69.8 L154.2 72.0 L163.6 74.9 L156.4 77.1 L152.7 82.2 L145.5 79.3 L139.6 76.4 L134.5 75.6 L133.1 74.9 L131.6 77.8 L126.5 80.0 L122.9 80.7 L126.5 81.5 L128.7 88.0 L125.1 89.0 L116.4 90.2 L107.6 93.1 L100.4 97.5 L98.9 98.9 L95.3 96.7 L87.3 97.5 L81.5 98.9 L77.1 100.4 L74.2 104.7 L72.0 107.6 L75.6 109.1 L75.6 112.7 L71.3 114.9 L71.3 119.3 L66.2 120.7 L64.7 125.1 L61.1 128.7 L54.5 133.8 L52.4 126.5 L50.2 116.4 L51.6 112.0 L56.0 108.4 L61.1 106.2 L65.5 104.0 L69.8 100.4 L74.2 97.5 L76.4 94.5 L78.5 92.4 L80.7 89.5 L78.5 88.4 L75.6 90.9 L71.3 93.1 L67.6 95.3 L65.5 93.8 L66.2 91.6 L58.2 91.3 L53.8 93.1 L49.5 96.7 L46.5 100.4 L49.5 102.5 L39.3 103.3 L36.4 101.1 L30.5 99.6 L18.9 101.1 L5.8 101.8 L0.0 106.9 M0.0 37.5 L5.8 35.6 L14.5 37.1 L16.7 38.1 L8.7 39.6 L0.0 40.7 M21.1 37.5 L25.5 39.0 L34.9 39.0 L36.4 39.6 L34.2 40.4 L26.2 40.4 L23.3 39.0 Z M0.0 43.6 L5.8 44.4 L10.9 45.8 L10.2 47.7 L4.4 48.7 L0.0 48.7 M126.5 55.3 L130.2 53.5 L136.7 53.5 L139.6 55.3 L135.3 56.4 L129.5 56.4 Z M240.0 58.2 L224.0 56.0 L209.5 54.5 L200.7 56.0 L187.6 58.2 L183.3 61.1 L176.7 63.3 L176.7 66.2 L183.3 68.4 L186.2 71.3 L190.5 73.5 L181.8 74.2 L174.5 75.6 L170.9 76.4 L174.5 78.5 L180.4 80.7 L189.1 80.0 L193.5 79.7 L193.5 85.1 L187.6 86.5 L181.8 87.3 L178.9 90.2 L176.7 92.4 L180.4 95.3 L181.8 98.9 L187.6 100.4 L190.5 98.9 L192.0 102.5 L199.3 104.0 L201.5 105.5 L200.7 103.3 L204.4 104.0 L204.4 108.4 L201.5 111.3 L194.9 114.2 L189.1 116.4 L181.8 120.0 L184.7 118.5 L193.5 115.6 L203.6 112.0 L209.5 108.4 L215.3 104.0 L218.2 101.1 L221.1 97.5 L224.7 94.5 L229.1 93.8 L226.9 96.0 L223.3 100.4 L228.4 98.9 L234.2 96.7 L236.4 94.5 L240.0 94.8 M213.1 108.4 L219.6 105.5 L221.8 107.6 L216.0 111.3 Z M172.4 98.2 L175.3 97.2 L178.2 98.2 L175.3 99.3 Z M1.1 124.2 L6.0 125.3 L8.8 121.4 L9.9 123.6 L11.0 128.5 L12.6 135.1 L14.8 141.7 L11.5 140.6 L9.3 143.9 L11.5 150.5 L9.9 152.2 L7.1 150.5 L6.0 154.9 L8.2 158.2 L12.6 160.9 L17.0 160.4 L19.8 163.1 L14.8 164.8 L11.5 167.5 L9.9 169.7 L6.0 168.1 L1.6 167.0 L1.1 164.8 L4.9 164.8 L6.0 159.8 L4.9 156.0 L5.5 152.7 L7.7 146.1 L7.1 138.4 L6.0 131.8 L6.6 126.4 L3.3 129.6 L1.6 132.9 M1.1 170.3 L3.8 171.4 L5.5 175.8 L7.1 178.0 L6.6 181.8 L4.9 184.6 L3.3 188.9 L2.2 192.2 L2.7 194.4 L1.1 197.2 M230.0 57.9 L244.5 59.6 L259.1 61.8 L272.2 64.0 L275.1 62.5 L282.4 61.8 L288.2 59.6 L295.5 58.9 L298.4 59.6 L301.3 57.5 L305.6 59.6 L310.7 61.1 L312.9 59.6 L315.8 61.1 L324.5 61.1 L331.8 62.5 L337.6 63.3 L342.0 62.5 L346.4 64.0 L349.3 64.7 L360.9 64.0 L368.2 63.3 L375.5 65.5 L382.7 66.9 L390.0 68.4 L394.4 69.1 L395.8 66.2 L395.1 63.3 L400.2 61.1 L403.1 64.0 L402.4 66.9 L406.7 69.1 L410.4 65.5 L411.8 61.8 L406.7 60.4 L403.8 58.2 L406.0 55.3 L410.4 57.5 L417.6 59.6 L420.5 56.0 L417.6 53.8 L413.3 51.6 L411.8 49.5 L414.7 48.0 L419.1 50.2 L423.5 53.8 L425.6 57.5 L426.4 62.5 L430.7 64.0 L432.9 67.6 L436.5 69.1 L440.2 65.5 L440.9 60.4 L448.2 60.8 L454.0 64.0 L452.5 69.8 L446.7 71.3 L440.9 72.7 L438.0 74.2 L435.8 78.5 L432.9 82.2 L424.9 83.6 L422.0 86.5 L416.2 89.5 L411.8 93.1 L409.6 98.9 L410.4 103.3 L414.0 105.5 L416.2 107.6 L419.1 109.8 L426.4 112.0 L433.6 114.2 L439.5 115.6 L446.7 117.1 L451.1 119.3 L452.5 123.6 L454.7 128.0 L457.6 131.6 L459.8 134.5 L461.3 130.9 L462.7 126.5 L461.3 122.9 L459.8 119.3 L465.6 116.4 L468.5 112.0 L468.5 106.9 L464.9 103.3 L465.6 96.0 L464.9 90.2 L470.0 89.5 M230.0 99.6 L233.6 97.5 L235.1 94.5 L238.7 95.3 L247.5 97.5 L259.1 99.6 L266.4 102.5 L272.2 105.5 L276.5 108.4 L278.7 104.7 L279.5 109.1 L283.1 109.1 L280.9 112.0 L285.3 114.9 L288.2 116.4 L291.1 119.3 L294.0 119.3 L293.3 122.2 L295.5 125.1 L299.8 128.7 L301.3 132.4 L305.6 134.5 L311.5 137.5 L317.3 140.4 L318.7 143.3 L319.5 146.9 L314.4 146.2 L315.1 152.7 L314.4 160.0 L312.9 164.4 L312.6 168.7 L313.6 173.1 L315.1 177.5 L317.3 182.5 L319.5 185.0 M284.5 122.2 L287.5 121.5 L289.6 125.1 L291.8 130.2 L288.9 128.7 L286.0 125.1 Z M300.5 135.3 L304.2 133.8 L311.5 137.5 L317.3 141.8 L319.5 146.2 L315.8 145.5 L309.3 141.8 L303.5 138.2 Z M277.3 106.2 L280.2 112.7 L284.5 116.4 L287.5 114.9 M310.7 74.2 L320.2 72.7 L330.4 71.3 L334.7 73.5 L331.8 76.4 L326.0 77.1 L324.5 79.3 L317.3 79.3 L320.2 76.4 L326.0 74.9 L317.3 74.9 Z M337.6 94.5 L342.0 93.1 L344.2 89.5 L350.7 89.5 L356.5 87.3 L362.4 88.0 L358.0 89.5 L353.6 90.9 L349.3 93.1 L346.4 95.3 L340.5 95.7 Z M355.8 104.0 L360.9 100.4 L368.2 101.1 L363.8 102.5 L358.0 104.4 Z M382.7 113.5 L384.9 107.6 L387.1 106.9 L386.4 110.5 L384.9 113.5 Z M388.5 126.5 L392.9 126.5 L397.3 130.9 L400.2 136.7 L397.3 137.5 L395.8 133.1 L391.5 129.5 Z M395.8 123.6 L399.5 123.3 L403.1 130.9 L405.3 136.0 L402.4 136.4 L400.2 131.6 L397.3 126.5 Z M418.0 151.5 L423.0 148.0 L428.0 144.5 L432.0 142.0 L437.0 143.0 L441.0 146.0 L443.0 150.0 L440.0 151.0 L435.0 150.0 L431.0 148.5 L426.0 149.5 L421.0 151.5 Z M443.0 150.0 L448.0 153.0 L454.0 153.5 L458.0 156.0 L459.5 158.5 L456.0 159.0 L454.0 157.0 L453.0 161.0 L450.0 164.5 L447.0 162.0 L445.5 159.0 L447.5 156.5 L445.0 154.0 L442.0 153.0 Z M432.5 158.0 L435.0 155.5 L439.0 153.0 L443.0 152.0 L440.0 155.0 L437.5 159.0 L437.0 164.0 L437.5 169.0 L435.0 170.5 L433.0 169.0 L432.5 164.0 Z M446.5 170.0 L452.0 168.0 L457.0 166.0 L461.0 164.5 L460.0 166.0 L455.0 168.5 L450.0 171.0 Z M459.0 163.0 L464.0 161.5 L470.0 160.5 L471.0 161.5 L467.0 163.5 L461.0 164.5 Z M310.7 50.2 L314.4 43.6 L323.1 41.5 L334.7 42.2 L340.5 45.1 L334.7 48.0 L330.4 50.2 L327.5 54.5 L317.3 55.3 Z M330.4 50.2 L337.6 47.3 L344.9 46.3 L353.6 47.7 L363.8 47.3 L369.6 46.3 L376.9 45.4 L378.4 47.3 L374.7 49.5 L376.9 54.5 L384.2 56.7 L390.7 58.9 L387.8 61.8 L381.3 62.5 L387.1 64.7 L384.2 66.2 L374.0 64.0 L366.7 65.5 L368.2 68.4 L363.8 69.1 L360.9 67.2 L343.5 68.1 L344.9 64.7 L352.2 64.0 L346.4 61.8 L340.5 61.1 L338.4 58.9 L350.7 58.2 L344.9 56.0 L334.7 55.0 L331.1 52.7 Z M312.9 34.9 L323.1 31.3 L334.7 29.1 L344.9 27.6 L355.1 26.2 L363.8 26.5 L359.5 29.8 L350.7 30.8 L343.5 29.8 L340.5 32.7 L331.8 34.2 L334.7 36.4 L328.9 37.5 L323.1 36.4 L315.8 36.4 Z M384.9 47.3 L391.5 43.6 L398.7 43.3 L403.1 46.5 L404.5 50.9 L398.7 53.1 L392.9 50.9 Z M387.1 33.5 L397.3 33.7 L399.5 37.8 L392.9 39.6 L387.8 37.1 Z M346.4 40.7 L350.7 38.1 L358.0 34.9 L363.8 32.7 L360.9 36.4 L369.6 35.6 L374.0 37.8 L369.6 40.0 L360.9 40.0 L356.5 42.2 L350.7 42.2 Z M376.2 29.8 L378.4 30.5 L384.2 35.6 L381.3 39.3 L377.6 38.5 L380.5 36.4 L376.9 33.5 Z M404.5 39.3 L410.4 37.8 L413.3 40.7 L408.2 41.5 Z M372.5 23.3 L382.7 22.5 L394.4 23.3 L401.6 25.5 L408.2 26.2 L414.7 28.4 L408.9 29.8 L401.6 28.4 L392.9 27.6 L382.7 26.2 L375.5 25.5 Z M409.6 18.2 L413.3 15.3 L423.5 14.5 L433.6 17.5 L440.9 19.6 L438.0 23.3 L433.6 26.9 L423.5 28.4 L417.6 26.9 L414.7 24.0 L411.1 21.1 Z M423.5 14.5 L433.6 11.6 L448.2 9.5 L458.4 8.0 L470.0 7.6 M424.9 15.3 L440.9 18.2 L454.0 18.2 L464.2 16.7 L465.6 17.5 L452.5 19.6 L440.9 20.4 M406.0 31.3 L416.2 32.7 L426.4 33.7 L433.6 32.7 L440.9 34.2 L454.0 36.4 L458.4 38.5 L455.5 41.5 L445.3 40.7 L433.6 40.0 L423.5 38.1 L419.1 40.7 L417.6 43.6 M430.7 34.9 L436.5 29.1 L440.9 26.2 L451.1 27.6 L461.3 29.8 L470.0 26.9 M459.8 33.5 L465.6 30.5 L470.0 29.1 M425.6 50.9 L427.8 46.5 L436.5 44.4 L448.2 43.6 L454.0 45.1 L458.4 48.0 L465.6 47.3 L470.0 48.0 M439.5 45.8 L438.0 49.5 L440.2 53.1 M425.6 50.9 L427.8 53.8 L432.9 56.0 L439.5 57.5 L448.2 58.9 L458.4 60.4 L465.6 58.2 L470.0 58.9 M436.5 74.9 L440.9 73.5 L448.2 78.5 L456.9 83.6 L451.1 84.4 L443.8 82.9 L439.5 85.8 L435.1 83.6 L438.0 79.3 Z M462.7 79.3 L468.5 77.1 L471.5 79.3 L468.5 81.5 L464.2 81.5 Z M456.9 90.9 L459.1 89.0 L461.3 90.9 L459.1 93.1 Z M481.8 26.9 L489.1 24.7 L497.8 21.8 L503.6 18.9 L509.5 15.3 L518.2 12.4 L528.4 11.6 L541.5 10.9 L551.6 12.4 L554.5 10.2 L564.7 9.5 L576.4 7.3 L588.0 6.5 L601.1 5.5 L614.2 5.8 L627.3 6.5 L638.9 8.0 L653.5 10.2 L647.6 10.9 L631.6 11.6 L622.9 12.4 L638.9 13.1 L641.8 15.3 L649.1 13.8 L656.4 14.5 L668.0 13.8 L676.7 13.4 L681.8 15.0 L675.3 16.7 L666.5 19.6 L660.7 21.8 L656.4 24.7 L658.5 28.4 L660.7 31.3 L656.4 32.7 L650.5 34.2 L653.5 36.4 L657.8 38.5 L661.5 39.3 L656.4 42.2 L652.0 44.4 L649.1 46.5 L646.2 48.7 L641.1 50.2 L644.7 53.1 L648.4 56.0 L644.7 59.6 L637.5 55.3 L633.8 58.2 L641.8 58.9 L638.9 61.8 L631.6 64.0 L624.4 65.5 L616.4 66.9 L612.7 69.1 L608.4 72.7 L604.0 74.9 L596.7 76.4 L589.5 77.8 L585.8 79.3 L588.0 82.9 L586.5 86.5 L581.5 89.5 L580.7 93.1 L578.5 98.9 L575.6 99.6 L572.0 98.2 L568.4 96.0 L561.8 95.3 L558.9 93.1 L556.0 89.5 L553.1 85.8 L550.2 82.2 L548.7 78.5 L545.8 76.4 L544.1 72.7 L544.4 67.6 L547.3 65.5 L553.1 64.7 L553.1 61.1 L547.3 61.8 L542.9 61.8 L540.7 58.9 L542.2 56.0 L545.8 53.1 L548.0 56.0 L552.4 56.0 L551.6 58.2 L541.5 54.5 L537.8 53.1 L539.3 49.5 L538.5 46.5 L535.6 43.6 L532.7 40.7 L529.1 37.8 L522.5 36.4 L516.7 35.2 L509.5 35.6 L502.9 36.4 L496.4 34.9 L491.3 32.7 L494.9 29.8 L488.4 31.3 Z M641.1 76.4 L644.0 73.9 L647.6 74.2 L649.1 76.4 L653.5 75.3 L657.8 74.2 L665.1 73.9 L670.9 74.2 L675.3 76.4 L675.3 79.3 L670.9 81.5 L663.6 83.6 L657.8 85.1 L652.0 84.4 L647.6 83.6 L645.5 81.5 L647.6 79.3 L643.3 79.3 Z M460.0 9.5 L474.5 8.7 L489.1 9.0 L503.6 9.5 L519.6 10.5 L518.2 13.1 L510.9 13.8 L503.6 16.0 L499.3 18.2 L508.0 21.1 L503.6 23.3 L496.4 24.0 L483.3 26.2 M460.0 31.3 L467.3 29.1 L473.8 26.9 L474.5 23.3 L481.8 21.1 L492.0 18.9 L503.6 16.0 M460.0 16.7 L465.8 16.0 M460.0 34.2 L464.4 33.2 M460.0 49.5 L464.4 50.2 L468.7 48.7 L465.8 45.8 L460.0 45.1 M460.0 49.5 L468.7 49.5 L477.5 51.6 L486.2 53.8 L494.9 56.7 L500.0 59.6 L497.1 62.5 L500.7 64.0 L497.8 66.2 L505.1 67.6 L512.4 69.8 L519.6 72.0 L515.3 75.6 L510.9 78.5 L509.5 74.2 L503.6 73.5 L499.3 75.6 L502.2 80.0 L506.5 82.9 L508.7 85.8 L503.6 90.2 L502.9 91.3 L496.4 87.3 L494.9 84.4 L499.3 85.8 L494.9 82.9 L489.1 85.1 L481.8 82.9 L474.5 79.3 L468.7 77.1 L462.9 79.3 L464.4 81.5 L474.5 83.6 L481.8 85.8 L489.1 89.5 L496.4 91.6 L502.2 91.6 M460.0 58.9 L464.4 58.2 L471.6 61.8 L478.9 65.5 L483.3 69.1 L477.5 72.7 L474.5 75.6 L477.5 69.8 L471.6 67.6 L464.4 64.0 L460.0 64.0 M468.0 68.4 L470.9 66.2 L474.5 67.6 L472.4 70.5 L468.7 70.5 Z M460.0 101.8 L462.9 103.3 L465.8 101.8 L466.5 94.5 L464.4 90.9 L471.6 89.5 L478.9 90.2 L486.2 93.1 L491.3 95.3 L492.7 101.8 L498.5 106.2 L503.6 102.5 L508.0 97.5 L512.4 100.4 L518.2 107.6 L518.9 112.7 L525.5 117.8 L532.7 122.2 L537.1 125.1 L537.8 130.9 L532.7 131.6 L528.4 133.1 L524.0 136.7 L518.2 137.5 L509.5 136.7 L502.2 137.5 L496.4 139.6 L491.3 144.0 L487.6 149.8 M460.0 101.8 L464.4 104.7 L468.0 110.5 L467.3 116.4 L462.9 119.3 L460.0 120.7 M460.0 125.1 L462.9 128.0 L461.5 131.6 M487.6 150.5 L493.5 145.5 L500.7 141.8 L508.0 141.1 L510.9 141.8 L503.6 144.0 L506.5 146.9 L509.5 151.3 L513.8 154.2 L521.1 152.7 L522.5 149.8 L524.0 152.7 L521.1 156.4 L515.3 157.8 L510.9 159.3 L506.5 162.9 L503.6 160.0 L508.0 156.4 L502.2 158.5 L496.4 160.0 L491.3 162.2 L488.4 165.8 L487.6 169.5 L490.5 170.2 L486.2 170.9 L481.8 173.1 L477.5 174.5 L476.0 178.9 L473.1 181.8 L470.2 185.0 M509.5 138.9 L518.2 140.4 L513.8 141.8 Z M510.2 150.5 L518.2 149.8 L514.5 152.4 Z M526.2 146.9 L529.8 139.6 L532.7 133.8 L537.1 130.2 L535.6 135.3 L538.5 139.6 L544.4 141.1 L547.3 145.5 L546.5 151.3 L542.9 148.4 L539.3 149.8 L535.6 147.6 L529.8 147.6 Z M477.5 174.5 L483.3 172.4 L489.8 171.3 M468.7 180.4 L472.4 181.8 L473.8 184.7 L470.9 185.0 M488.2 165.8 L490.0 170.0 L487.0 171.2 L482.7 172.4 L478.5 173.6 L476.1 176.1 L477.3 179.1 L474.8 182.1 L472.4 185.2 L472.4 188.8 L471.2 192.4 L472.4 194.2 L470.0 196.7 L465.2 199.7 L460.3 203.3 L456.7 206.4 L454.2 208.8 L453.0 213.0 L454.0 217.9 L456.1 222.7 L457.3 227.6 L457.3 232.4 L455.5 234.8 L453.0 233.6 L451.2 228.8 L450.0 223.9 L448.8 219.7 L446.4 216.7 L443.3 216.1 L440.3 216.7 L437.3 214.2 L433.6 214.8 L427.6 214.2 L424.5 214.8 L426.4 217.9 L428.2 219.7 L422.7 220.3 L419.1 217.9 L415.5 217.3 L408.8 217.3 L408.8 219.7 L404.5 222.1 L402.1 225.2 L401.5 230.0 L402.1 233.6 L401.5 234.8 M469.4 180.3 L471.8 179.1 L473.6 181.5 L472.4 186.4 L470.6 191.2 L469.4 186.4 Z M461.5 229.4 L466.4 230.0 L467.0 232.4 M350.0 214.2 L352.4 219.1 L356.1 223.9 L359.7 227.6 L362.7 230.6 L362.1 234.8 M350.0 222.7 L353.6 228.8 L356.1 234.8 M350.0 228.8 L353.0 234.8 M319.5 185.0 L321.0 190.4 L325.7 198.6 L329.0 199.5 L332.2 200.6 L336.5 205.7 L338.0 209.0 L340.4 216.3 L343.7 225.0 L346.3 224.2 L350.0 228.8 M350.0 222.7 L345.0 216.3 L344.3 210.4 L348.6 211.2 L350.0 214.2 M696.5 108.2 L699.6 104.5 L698.4 107.0 L701.5 108.8 L700.3 112.6 L702.8 115.1 L706.5 117.6 L710.3 119.5 L709.1 122.6 L710.9 124.5 L707.8 126.4 L705.3 127.0 L706.5 130.2 L703.4 130.8 L711.6 131.4 L707.8 133.3 L705.3 135.2 L702.2 137.1 L704.0 138.3 L707.8 135.2 L712.8 135.2 L719.7 134.6 M701.5 107.0 L703.4 104.5 L709.7 104.5 L706.5 107.0 L714.1 109.1 L711.6 112.0 L709.7 113.9 L713.4 116.4 L716.6 119.5 L719.7 120.1 M719.7 139.6 L713.4 139.6 L715.3 141.7 L707.8 142.7 L704.3 144.6 L705.3 146.5 L712.8 147.7 L715.3 152.1 L716.8 155.3 L716.6 160.3 L715.6 163.4 L710.3 164.0 L705.3 164.3 L700.3 162.8 L694.0 162.5 L690.5 164.7 L691.7 170.3 L691.5 176.6 L689.2 179.7 L689.6 182.9 L691.5 184.7 L690.9 188.1 L697.1 188.1 L700.3 191.0 L702.2 192.9 L707.8 190.4 L712.8 189.7 L715.3 186.6 L719.7 182.2 M702.2 192.9 L703.4 195.4 L707.8 196.4 L712.8 196.0 L716.6 194.4 L719.7 192.9 M702.2 192.9 L700.3 195.4 L699.0 198.5 L695.3 201.7 L690.9 204.2 L688.7 207.3 L687.7 211.1 L688.4 214.8 L686.5 218.6 L682.7 221.7 L679.0 224.2 L676.4 225.5 L675.8 228.6 L673.3 230.5 L671.4 234.9 M688.4 123.3 L690.2 121.4 L692.7 118.9 L696.5 117.4 L700.3 117.6 L701.5 120.1 L700.3 123.3 L700.3 127.0 L698.4 129.5 L694.0 130.8 L689.0 132.1 L687.1 130.2 L689.0 127.7 L687.7 125.2 Z"/>
<path stroke-width="2" d="M0.0 42.9 L2.9 42.9 L2.9 45.1 L0.0 45.1 Z M180.4 120.7 L186.9 118.1 M49.5 138.2 L53.1 135.6 M22.5 160.4 L26.9 156.5 M31.3 155.5 L34.8 152.2 M0.6 125.3 L0.6 142.8"/>
<path stroke-width="2.2" d="M157.1 84.4 L167.3 85.8 M49.4 138.2 L52.7 135.7"/>
<path stroke-width="1.6" d="M122.2 80.7 L126.5 80.4 M106.9 126.5 L109.8 127.7 M141.1 130.2 L142.5 131.6 M394.4 19.6 L398.7 21.1 M446.7 89.9 L450.4 88.4"/>
<path stroke-width="1.4" d="M166.5 127.3 L169.5 124.4 L175.3 122.9 L171.6 125.1 L167.3 126.5 Z M695.3 90.0 L699.0 89.0 L697.1 91.5 Z"/>
<path stroke-width="1.5" d="M1.1 165.9 L3.3 172.5 M448.5 153.2 L452.0 153.2 L450.5 155.5 Z M468.8 193.0 L472.7 192.4 M477.3 173.6 L483.3 172.1 M663.9 223.0 L667.7 223.6 L668.9 225.5 M673.3 224.2 L676.4 219.2"/>
</g>
</g>
<rect x="0" y="0" width="720" height="236" fill="none" stroke="#000" stroke-width="2"/>
<path d="M-6 20.5 H-1 M-6 59.5 H-1 M-6 98.5 H-1 M-6 137.5 H-1 M-6 177.5 H-1 M-6 216.5 H-1 M0.10 237 V242 M65.55 237 V242 M131.01 237 V242 M196.46 237 V242 M261.92 237 V242 M327.37 237 V242 M392.83 237 V242 M458.28 237 V242 M523.74 237 V242 M589.19 237 V242 M654.65 237 V242 M720.10 237 V242" stroke="#000" stroke-width="1" fill="none" shape-rendering="crispEdges"/>
<text x="-43.2" y="27.4" font-size="19.5" fill="#000" text-anchor="start" textLength="30.3" lengthAdjust="spacingAndGlyphs" stroke="#fff" stroke-width="0.45">80N</text>
<text x="-43.2" y="66.5" font-size="19.5" fill="#000" text-anchor="start" textLength="30.3" lengthAdjust="spacingAndGlyphs" stroke="#fff" stroke-width="0.45">70N</text>
<text x="-43.2" y="105.7" font-size="19.5" fill="#000" text-anchor="start" textLength="30.3" lengthAdjust="spacingAndGlyphs" stroke="#fff" stroke-width="0.45">60N</text>
<text x="-43.2" y="144.8" font-size="19.5" fill="#000" text-anchor="start" textLength="30.3" lengthAdjust="spacingAndGlyphs" stroke="#fff" stroke-width="0.45">50N</text>
<text x="-43.2" y="184.0" font-size="19.5" fill="#000" text-anchor="start" textLength="30.3" lengthAdjust="spacingAndGlyphs" stroke="#fff" stroke-width="0.45">40N</text>
<text x="-43.2" y="223.1" font-size="19.5" fill="#000" text-anchor="start" textLength="30.3" lengthAdjust="spacingAndGlyphs" stroke="#fff" stroke-width="0.45">30N</text>
<text x="-18.4" y="260" font-size="19.5" fill="#000" text-anchor="start" textLength="38.6" lengthAdjust="spacingAndGlyphs" stroke="#fff" stroke-width="0.45">140E</text>
<text x="47.1" y="260" font-size="19.5" fill="#000" text-anchor="start" textLength="38.6" lengthAdjust="spacingAndGlyphs" stroke="#fff" stroke-width="0.45">160E</text>
<text x="117.6" y="260" font-size="19.5" fill="#000" text-anchor="start" textLength="28.5" lengthAdjust="spacingAndGlyphs" stroke="#fff" stroke-width="0.45">180</text>
<text x="176.1" y="260" font-size="19.5" fill="#000" text-anchor="start" textLength="42.3" lengthAdjust="spacingAndGlyphs" stroke="#fff" stroke-width="0.45">160W</text>
<text x="241.6" y="260" font-size="19.5" fill="#000" text-anchor="start" textLength="42.3" lengthAdjust="spacingAndGlyphs" stroke="#fff" stroke-width="0.45">140W</text>
<text x="307.0" y="260" font-size="19.5" fill="#000" text-anchor="start" textLength="42.3" lengthAdjust="spacingAndGlyphs" stroke="#fff" stroke-width="0.45">120W</text>
<text x="372.5" y="260" font-size="19.5" fill="#000" text-anchor="start" textLength="42.3" lengthAdjust="spacingAndGlyphs" stroke="#fff" stroke-width="0.45">100W</text>
<text x="442.1" y="260" font-size="19.5" fill="#000" text-anchor="start" textLength="32.5" lengthAdjust="spacingAndGlyphs" stroke="#fff" stroke-width="0.45">80W</text>
<text x="507.6" y="260" font-size="19.5" fill="#000" text-anchor="start" textLength="32.5" lengthAdjust="spacingAndGlyphs" stroke="#fff" stroke-width="0.45">60W</text>
<text x="573.0" y="260" font-size="19.5" fill="#000" text-anchor="start" textLength="32.5" lengthAdjust="spacingAndGlyphs" stroke="#fff" stroke-width="0.45">40W</text>
<text x="638.5" y="260" font-size="19.5" fill="#000" text-anchor="start" textLength="32.5" lengthAdjust="spacingAndGlyphs" stroke="#fff" stroke-width="0.45">20W</text>
<text x="716.0" y="260" font-size="19.5" fill="#000" text-anchor="start" textLength="8.5" lengthAdjust="spacingAndGlyphs" stroke="#fff" stroke-width="0.45">0</text>
</g>
<g transform="translate(45,670)">
<g clip-path="url(#cp)">
<path fill="#fffaaa" d="M69.8 64.0 C70.3 62.3 73.5 60.1 75.6 58.2 C77.8 56.2 80.5 54.3 82.9 52.4 C85.3 50.4 88.0 49.0 90.2 46.5 C92.4 44.1 93.6 39.9 96.0 37.8 C98.4 35.8 101.3 35.6 104.7 34.2 C108.1 32.7 112.5 30.7 116.4 29.1 C120.2 27.5 123.6 26.1 128.0 24.7 C132.4 23.4 137.7 22.2 142.5 21.1 C147.4 20.0 152.2 19.0 157.1 18.2 C161.9 17.3 166.3 16.5 171.6 16.0 C177.0 15.5 183.3 15.2 189.1 15.0 C194.9 14.8 200.7 14.9 206.5 15.0 C212.4 15.1 218.4 15.4 224.0 15.7 C229.6 16.0 236.6 16.3 240.0 16.7 C243.4 17.1 241.4 17.6 244.5 18.2 C247.7 18.8 254.2 19.8 259.1 20.4 C263.9 21.0 268.8 21.6 273.6 21.8 C278.5 22.1 283.3 22.1 288.2 21.8 C293.0 21.6 297.9 21.1 302.7 20.4 C307.6 19.6 312.4 18.4 317.3 17.5 C322.1 16.5 327.0 15.5 331.8 14.5 C336.7 13.6 341.5 12.7 346.4 11.9 C351.2 11.2 356.1 10.5 360.9 9.9 C365.8 9.2 370.6 8.6 375.5 8.0 C380.3 7.4 385.2 6.7 390.0 6.1 C394.8 5.5 399.7 4.9 404.5 4.4 C409.4 3.8 414.2 3.1 419.1 2.6 C423.9 2.1 428.8 1.7 433.6 1.5 C438.5 1.2 443.3 1.3 448.2 1.2 C453.0 1.0 459.3 0.3 462.7 0.7 C466.2 1.1 466.3 2.7 468.7 3.6 C471.2 4.6 475.2 5.6 477.5 6.5 C479.8 7.5 483.0 8.7 482.5 9.5 C482.1 10.3 477.3 10.7 474.5 11.3 C471.8 12.0 468.8 12.7 465.8 13.1 C462.9 13.5 460.3 13.2 456.9 13.8 C453.5 14.4 448.2 15.4 445.3 16.7 C442.4 18.1 440.4 18.5 439.5 21.8 C438.5 25.1 439.5 31.5 439.5 36.4 C439.5 41.2 439.9 46.8 439.5 50.9 C439.0 55.0 437.5 57.9 436.5 61.1 C435.6 64.2 434.4 67.2 433.6 69.8 C432.9 72.5 432.2 75.2 432.2 77.1 C432.2 79.0 432.4 79.8 433.6 81.5 C434.8 83.2 437.5 85.3 439.5 87.3 C441.4 89.2 443.3 91.2 445.3 93.1 C447.2 95.0 449.2 97.0 451.1 98.9 C453.0 100.8 455.0 102.7 456.9 104.7 C458.8 106.8 461.3 109.3 462.7 111.3 C464.2 113.2 465.0 114.3 465.6 116.4 C466.2 118.4 466.4 121.7 466.4 123.6 C466.4 125.6 466.2 126.3 465.6 128.0 C465.0 129.7 463.9 132.4 462.7 133.8 C461.5 135.3 460.5 136.6 458.4 136.7 C456.2 136.8 452.8 135.5 449.6 134.5 C446.5 133.6 442.8 132.1 439.5 130.9 C436.1 129.7 432.7 128.6 429.3 127.3 C425.9 125.9 422.5 124.2 419.1 122.9 C415.7 121.6 412.1 120.2 408.9 119.3 C405.8 118.3 402.8 118.1 400.2 117.1 C397.5 116.1 395.1 114.9 392.9 113.5 C390.7 112.0 389.3 109.8 387.1 108.4 C384.9 106.9 382.5 105.7 379.8 104.7 C377.2 103.8 374.2 103.0 371.1 102.5 C367.9 102.1 364.5 101.7 360.9 101.8 C357.3 101.9 353.2 102.7 349.3 103.3 C345.4 103.9 341.5 104.8 337.6 105.5 C333.8 106.1 329.9 106.7 326.0 106.9 C322.1 107.2 318.2 107.0 314.4 106.9 C310.5 106.8 305.9 105.9 302.7 106.2 C299.6 106.4 297.9 107.3 295.5 108.4 C293.0 109.5 290.6 111.2 288.2 112.7 C285.8 114.3 283.1 116.1 280.9 117.8 C278.7 119.5 277.3 121.5 275.1 122.9 C272.9 124.4 270.5 125.6 267.8 126.5 C265.2 127.5 262.2 128.2 259.1 128.7 C255.9 129.2 252.3 129.7 248.9 129.5 C245.5 129.2 241.9 128.8 238.7 127.3 C235.5 125.7 233.2 121.5 229.8 120.0 C226.4 118.5 222.1 118.8 218.2 118.5 C214.3 118.3 210.2 118.2 206.5 118.5 C202.9 118.9 199.3 119.6 196.4 120.7 C193.5 121.8 191.3 123.4 189.1 125.1 C186.9 126.8 185.0 129.0 183.3 130.9 C181.6 132.8 180.4 135.0 178.9 136.7 C177.5 138.4 176.5 140.0 174.5 141.1 C172.6 142.2 169.9 142.7 167.3 143.3 C164.6 143.9 161.2 144.6 158.5 144.7 C155.9 144.8 153.5 144.7 151.3 144.0 C149.1 143.3 147.4 141.6 145.5 140.4 C143.5 139.2 141.6 137.7 139.6 136.7 C137.7 135.8 136.5 134.9 133.8 134.5 C131.2 134.2 126.1 134.1 123.6 134.5 C121.2 135.0 122.4 136.8 119.3 137.5 C116.1 138.1 109.6 138.1 104.7 138.2 C99.9 138.3 94.8 138.3 90.2 138.2 C85.6 138.1 80.7 138.1 77.1 137.5 C73.5 136.8 71.0 135.8 68.4 134.5 C65.7 133.3 63.3 130.8 61.1 130.2 C58.9 129.6 57.5 130.3 55.3 130.9 C53.1 131.5 50.2 132.4 48.0 133.8 C45.8 135.3 43.9 137.2 42.2 139.6 C40.5 142.1 38.4 145.5 37.8 148.4 C37.2 151.3 39.5 154.9 38.5 157.1 C37.6 159.3 34.5 160.0 32.0 161.5 C29.5 162.9 25.8 164.5 23.3 165.8 C20.7 167.2 18.2 169.5 16.7 169.5 C15.3 169.5 15.0 167.6 14.5 165.8 C14.1 164.0 13.7 161.0 13.8 158.5 C13.9 156.1 14.5 153.9 15.3 151.3 C16.0 148.6 17.1 145.5 18.2 142.5 C19.3 139.6 20.5 136.7 21.8 133.8 C23.2 130.9 24.5 128.0 26.2 125.1 C27.9 122.2 30.3 119.0 32.0 116.4 C33.7 113.7 34.9 111.5 36.4 109.1 C37.8 106.7 39.3 104.0 40.7 101.8 C42.2 99.6 43.4 97.7 45.1 96.0 C46.8 94.3 48.7 93.1 50.9 91.6 C53.1 90.2 56.0 89.0 58.2 87.3 C60.4 85.6 62.3 83.4 64.0 81.5 C65.7 79.5 66.9 77.8 68.4 75.6 C69.8 73.5 72.5 70.3 72.7 68.4 C73.0 66.4 69.3 65.7 69.8 64.0 Z"/>
<path fill="#ffc03c" d="M63.3 98.9 C63.3 97.0 66.3 95.3 68.4 93.1 C70.4 90.9 73.0 88.1 75.6 85.8 C78.3 83.5 81.2 81.2 84.4 79.3 C87.5 77.3 91.2 75.8 94.5 74.2 C97.9 72.6 101.3 70.9 104.7 69.8 C108.1 68.7 112.7 69.1 114.9 67.6 C117.1 66.2 117.2 63.4 117.8 61.1 C118.4 58.8 118.1 56.2 118.5 53.8 C119.0 51.4 119.6 48.8 120.7 46.5 C121.8 44.2 122.9 41.8 125.1 40.0 C127.3 38.2 130.4 36.8 133.8 35.6 C137.2 34.4 141.6 33.7 145.5 32.7 C149.3 31.8 153.2 30.7 157.1 29.8 C161.0 29.0 164.4 28.1 168.7 27.6 C173.1 27.2 177.9 27.0 183.3 26.9 C188.6 26.9 194.9 27.1 200.7 27.3 C206.5 27.6 212.8 27.7 218.2 28.4 C223.5 29.0 229.1 30.5 232.7 31.3 C236.4 32.0 239.0 32.5 240.0 32.7 C241.0 33.0 237.5 32.2 238.7 32.7 C240.0 33.2 245.3 34.7 247.5 35.6 C249.6 36.6 252.1 37.2 251.8 38.5 C251.6 39.9 248.2 41.9 246.0 43.6 C243.8 45.3 239.0 47.6 238.7 48.7 C238.5 49.8 241.2 49.9 244.5 50.2 C247.9 50.5 254.2 50.6 259.1 50.6 C263.9 50.6 269.5 50.6 273.6 50.2 C277.8 49.7 280.4 48.8 283.8 48.0 C287.2 47.2 290.4 45.9 294.0 45.1 C297.6 44.2 301.8 43.5 305.6 42.9 C309.5 42.3 313.4 41.9 317.3 41.5 C321.2 41.0 325.0 40.7 328.9 40.0 C332.8 39.3 336.4 38.1 340.5 37.1 C344.7 36.1 349.0 35.0 353.6 34.2 C358.2 33.3 363.3 32.5 368.2 32.0 C373.0 31.5 377.9 31.2 382.7 31.3 C387.6 31.3 393.2 31.6 397.3 32.3 C401.4 33.0 404.3 34.0 407.5 35.6 C410.6 37.3 413.8 39.9 416.2 42.2 C418.6 44.5 420.4 47.0 422.0 49.5 C423.6 51.9 425.4 54.5 425.6 56.7 C425.9 58.9 424.5 60.6 423.5 62.5 C422.4 64.5 420.8 66.4 419.1 68.4 C417.4 70.3 414.7 72.4 413.3 74.2 C411.8 76.0 410.6 77.3 410.4 79.3 C410.1 81.2 410.8 84.0 411.8 85.8 C412.8 87.6 414.7 88.7 416.2 90.2 C417.6 91.6 419.6 93.1 420.5 94.5 C421.5 96.0 422.2 97.5 422.0 98.9 C421.8 100.4 420.8 102.4 419.1 103.3 C417.4 104.1 414.7 104.2 411.8 104.0 C408.9 103.8 405.3 102.7 401.6 101.8 C398.0 101.0 393.9 99.9 390.0 98.9 C386.1 97.9 382.0 96.8 378.4 96.0 C374.7 95.2 371.8 94.1 368.2 93.8 C364.5 93.6 360.2 94.1 356.5 94.5 C352.9 95.0 349.5 96.0 346.4 96.7 C343.2 97.5 340.5 98.4 337.6 98.9 C334.7 99.5 332.3 100.0 328.9 100.1 C325.5 100.2 320.2 100.1 317.3 99.6 C314.4 99.2 313.4 98.5 311.5 97.5 C309.5 96.4 307.6 94.5 305.6 93.1 C303.7 91.6 302.0 90.2 299.8 88.7 C297.6 87.3 295.0 85.6 292.5 84.4 C290.1 83.2 287.9 82.2 285.3 81.5 C282.6 80.7 279.9 80.1 276.5 80.0 C273.2 79.9 268.8 80.4 264.9 80.7 C261.0 81.1 257.2 81.8 253.3 82.2 C249.4 82.5 245.5 82.7 241.6 82.9 C237.8 83.1 232.0 83.1 230.0 83.2 C228.0 83.3 231.8 83.2 229.8 83.6 C227.8 84.1 222.1 85.3 218.2 85.8 C214.3 86.3 209.5 86.9 206.5 86.5 C203.6 86.2 202.7 85.0 200.7 83.6 C198.8 82.3 196.8 80.1 194.9 78.5 C193.0 77.0 191.3 74.9 189.1 74.2 C186.9 73.5 184.2 73.7 181.8 74.2 C179.4 74.7 176.1 75.4 174.5 77.1 C173.0 78.8 172.8 81.7 172.4 84.4 C171.9 87.0 171.6 90.2 171.6 93.1 C171.6 96.0 171.9 99.2 172.4 101.8 C172.8 104.5 173.9 106.4 174.5 109.1 C175.2 111.8 176.5 115.2 176.0 117.8 C175.5 120.5 173.6 122.8 171.6 125.1 C169.7 127.4 167.0 130.4 164.4 131.6 C161.7 132.8 158.1 133.0 155.6 132.4 C153.2 131.8 151.5 129.7 149.8 128.0 C148.1 126.3 147.2 123.8 145.5 122.2 C143.8 120.6 142.5 119.2 139.6 118.5 C136.7 117.9 131.9 118.3 128.0 118.5 C124.1 118.8 120.2 119.8 116.4 120.0 C112.5 120.2 108.4 119.8 104.7 120.0 C101.1 120.2 97.5 120.6 94.5 121.5 C91.6 122.3 89.5 124.0 87.3 125.1 C85.1 126.2 84.1 127.4 81.5 128.0 C78.8 128.6 73.2 129.5 71.3 128.7 C69.3 128.0 70.3 125.7 69.8 123.6 C69.3 121.6 68.4 118.5 68.4 116.4 C68.4 114.2 69.8 112.5 69.8 110.5 C69.8 108.6 69.5 106.7 68.4 104.7 C67.3 102.8 63.3 100.8 63.3 98.9 Z"/>
<path fill="#fffaaa" d="M257.6 68.4 L264.9 68.1 L264.2 71.0 L259.8 71.6 Z"/>
<path fill="#ffc03c" d="M250.4 116.4 L255.5 116.1 L255.9 118.5 L251.1 119.0 Z"/>
<path fill="#ffa000" d="M98.9 93.1 C98.9 90.9 102.8 88.1 104.7 85.8 C106.7 83.5 108.6 80.8 110.5 79.3 C112.5 77.7 113.9 77.1 116.4 76.4 C118.8 75.6 122.2 75.0 125.1 74.9 C128.0 74.8 131.2 75.2 133.8 75.6 C136.5 76.1 139.2 76.6 141.1 77.8 C143.0 79.0 144.2 81.3 145.5 82.9 C146.7 84.5 148.6 85.6 148.4 87.3 C148.1 89.0 145.7 91.2 144.0 93.1 C142.3 95.0 140.4 97.2 138.2 98.9 C136.0 100.6 133.6 102.4 130.9 103.3 C128.2 104.1 125.1 104.2 122.2 104.0 C119.3 103.8 116.4 102.7 113.5 101.8 C110.5 101.0 107.2 100.4 104.7 98.9 C102.3 97.5 98.9 95.3 98.9 93.1 Z"/>
<path fill="#ffa000" d="M146.2 48.0 L154.2 45.1 L164.4 44.4 L168.7 47.3 L164.4 50.9 L155.6 53.1 L149.8 50.9 Z"/>
<path fill="#ffa000" d="M171.6 38.1 L189.1 38.1 L189.1 40.7 L171.6 40.7 Z"/>
<path fill="#ffa000" d="M287.5 62.5 C288.2 61.0 291.5 59.5 294.0 58.2 C296.5 56.8 299.6 55.5 302.7 54.5 C305.9 53.6 309.5 53.0 312.9 52.4 C316.3 51.8 319.9 51.5 323.1 50.9 C326.2 50.3 328.7 49.5 331.8 48.7 C335.0 48.0 338.4 47.0 342.0 46.5 C345.6 46.1 349.5 46.2 353.6 45.8 C357.8 45.5 362.1 44.6 366.7 44.4 C371.3 44.1 377.4 44.0 381.3 44.4 C385.2 44.7 387.1 45.6 390.0 46.5 C392.9 47.5 396.5 48.7 398.7 50.2 C400.9 51.6 402.1 53.5 403.1 55.3 C404.1 57.1 404.5 59.2 404.5 61.1 C404.5 63.0 404.3 65.0 403.1 66.9 C401.9 68.8 399.5 70.8 397.3 72.7 C395.1 74.7 392.4 76.8 390.0 78.5 C387.6 80.2 385.6 81.7 382.7 82.9 C379.8 84.1 376.2 85.1 372.5 85.8 C368.9 86.5 364.8 86.8 360.9 87.3 C357.0 87.8 353.2 88.1 349.3 88.7 C345.4 89.3 341.3 90.4 337.6 90.9 C334.0 91.4 330.6 91.6 327.5 91.6 C324.3 91.6 321.4 91.6 318.7 90.9 C316.1 90.2 313.6 88.6 311.5 87.3 C309.3 85.9 307.6 84.4 305.6 82.9 C303.7 81.5 301.8 80.2 299.8 78.5 C297.9 76.8 295.7 74.5 294.0 72.7 C292.3 70.9 290.7 69.3 289.6 67.6 C288.5 65.9 286.7 64.1 287.5 62.5 Z"/>
<path fill="#ff6000" d="M314.4 58.2 C315.2 56.5 319.7 57.1 323.1 56.7 C326.5 56.4 330.8 56.2 334.7 56.0 C338.6 55.8 342.5 55.4 346.4 55.3 C350.2 55.1 354.4 55.0 358.0 55.0 C361.6 55.0 365.0 55.0 368.2 55.3 C371.3 55.6 374.5 56.0 376.9 56.7 C379.3 57.5 381.5 58.2 382.7 59.6 C383.9 61.1 384.9 63.8 384.2 65.5 C383.5 67.2 380.5 68.4 378.4 69.8 C376.2 71.3 374.0 72.7 371.1 74.2 C368.2 75.6 364.5 77.5 360.9 78.5 C357.3 79.6 353.2 80.2 349.3 80.7 C345.4 81.2 341.0 81.7 337.6 81.5 C334.2 81.2 331.6 80.5 328.9 79.3 C326.2 78.1 323.5 76.2 321.6 74.2 C319.8 72.1 319.2 69.6 318.0 66.9 C316.8 64.2 313.5 59.9 314.4 58.2 Z"/>
<path fill="#fffaaa" d="M331.1 166.5 C331.1 164.6 334.1 162.7 336.2 161.5 C338.2 160.2 341.0 159.3 343.5 159.3 C345.9 159.3 349.0 160.1 350.7 161.5 C352.4 162.8 353.9 165.3 353.6 167.3 C353.4 169.2 351.0 171.6 349.3 173.1 C347.6 174.5 345.6 176.0 343.5 176.0 C341.3 176.0 338.2 174.7 336.2 173.1 C334.1 171.5 331.1 168.5 331.1 166.5 Z"/>
<path fill="#e1ffff" d="M23.6 196.8 C22.7 195.5 26.7 191.2 29.1 188.6 C31.5 186.1 34.8 183.5 38.2 181.4 C41.5 179.2 45.8 178.3 49.1 175.9 C52.4 173.5 55.5 169.4 58.2 166.8 C60.9 164.2 63.0 161.7 65.5 160.5 C67.9 159.2 70.0 159.1 72.7 159.2 C75.5 159.3 77.6 160.6 81.8 161.0 C86.1 161.4 93.0 161.4 98.2 161.7 C103.3 162.1 108.8 162.7 112.7 163.2 C116.7 163.7 119.7 163.9 121.8 164.6 C123.9 165.4 125.8 165.8 125.5 167.7 C125.2 169.6 122.1 173.6 120.0 175.9 C117.9 178.2 115.8 179.5 112.7 181.4 C109.7 183.2 105.5 185.2 101.8 186.8 C98.2 188.5 94.5 190.8 90.9 191.4 C87.3 192.0 83.3 191.1 80.0 190.5 C76.7 189.8 73.9 188.5 70.9 187.7 C67.9 187.0 65.2 185.8 61.8 185.9 C58.5 186.1 54.5 187.4 50.9 188.6 C47.3 189.8 42.7 191.8 40.0 193.2 C37.3 194.5 37.3 196.2 34.5 196.8 C31.8 197.4 24.5 198.2 23.6 196.8 Z"/>
<path fill="#e1ffff" d="M170.9 181.4 C170.9 177.9 171.8 174.1 173.6 170.5 C175.5 166.8 178.9 162.9 181.8 159.5 C184.7 156.2 187.9 152.9 190.9 150.5 C193.9 148.0 196.1 146.3 200.0 145.0 C203.9 143.7 209.7 143.0 214.5 142.8 C219.4 142.7 225.2 143.1 229.1 144.1 C233.0 145.1 236.1 146.4 238.2 148.6 C240.3 150.9 241.8 154.4 241.8 157.7 C241.8 161.1 240.0 165.3 238.2 168.6 C236.4 172.0 233.9 175.0 230.9 177.7 C227.9 180.5 223.9 182.7 220.0 185.0 C216.1 187.3 211.5 189.4 207.3 191.4 C203.0 193.3 198.8 195.9 194.5 196.8 C190.3 197.7 185.3 197.7 181.8 196.8 C178.3 195.9 175.5 193.9 173.6 191.4 C171.8 188.8 170.9 184.8 170.9 181.4 Z"/>
<path fill="#96d2fa" d="M187.3 167.7 C187.9 165.8 190.6 164.1 192.7 162.3 C194.8 160.5 197.3 157.8 200.0 156.8 C202.7 155.8 206.7 156.0 209.1 156.3 C211.5 156.6 213.6 157.0 214.5 158.6 C215.5 160.2 215.8 163.8 214.5 165.9 C213.3 168.0 210.0 169.5 207.3 171.4 C204.5 173.2 200.6 175.8 198.2 176.8 C195.8 177.9 194.2 178.2 192.7 177.7 C191.2 177.3 190.0 175.8 189.1 174.1 C188.2 172.4 186.7 169.7 187.3 167.7 Z"/>
<path fill="#e1ffff" d="M531.3 46.5 C531.5 44.4 534.9 43.1 537.1 42.2 C539.3 41.3 542.4 40.9 544.4 41.2 C546.3 41.4 547.9 42.0 548.7 43.6 C549.6 45.3 548.7 48.5 549.5 50.9 C550.2 53.3 552.2 55.8 553.1 58.2 C553.9 60.6 554.5 63.3 554.5 65.5 C554.5 67.6 553.8 69.6 553.1 71.3 C552.4 73.0 550.2 73.9 550.2 75.6 C550.2 77.3 551.6 79.3 553.1 81.5 C554.5 83.6 556.5 87.0 558.9 88.7 C561.3 90.4 564.5 90.9 567.6 91.6 C570.8 92.4 574.7 92.8 577.8 93.1 C581.0 93.3 583.9 92.5 586.5 93.1 C589.2 93.7 593.1 95.5 593.8 96.7 C594.5 97.9 592.6 99.3 590.9 100.4 C589.2 101.5 586.5 102.5 583.6 103.3 C580.7 104.0 577.1 104.5 573.5 104.7 C569.8 105.0 565.2 105.2 561.8 104.7 C558.4 104.2 555.8 103.3 553.1 101.8 C550.4 100.4 548.0 97.9 545.8 96.0 C543.6 94.1 541.5 91.9 540.0 90.2 C538.5 88.5 537.3 87.8 537.1 85.8 C536.8 83.9 538.5 81.2 538.5 78.5 C538.5 75.9 537.7 72.5 537.1 69.8 C536.5 67.2 535.2 65.0 534.9 62.5 C534.7 60.1 536.2 57.9 535.6 55.3 C535.0 52.6 531.0 48.7 531.3 46.5 Z"/>
<path fill="#e1ffff" d="M601.8 68.4 C602.1 67.5 604.4 67.3 606.9 66.9 C609.5 66.5 613.5 66.4 617.1 66.2 C620.7 65.9 625.6 65.2 628.7 65.5 C631.9 65.7 635.5 66.7 636.0 67.6 C636.5 68.6 633.8 70.5 631.6 71.3 C629.5 72.0 626.1 71.5 622.9 72.0 C619.8 72.5 615.6 74.2 612.7 74.2 C609.8 74.2 607.3 73.0 605.5 72.0 C603.6 71.0 601.6 69.2 601.8 68.4 Z"/>
<path fill="#fffaaa" d="M529.8 145.5 C530.7 143.5 533.2 142.9 535.6 142.5 C538.1 142.2 541.5 143.3 544.4 143.3 C547.3 143.3 550.2 142.3 553.1 142.5 C556.0 142.8 559.8 143.9 561.8 144.7 C563.9 145.6 565.7 146.3 565.5 147.6 C565.2 149.0 562.4 151.3 560.4 152.7 C558.3 154.2 555.8 155.5 553.1 156.4 C550.4 157.2 547.3 157.6 544.4 157.8 C541.5 158.1 537.9 158.4 535.6 157.8 C533.3 157.2 531.5 156.2 530.5 154.2 C529.6 152.1 529.0 147.4 529.8 145.5 Z"/>
<path fill="#fffaaa" d="M572.0 157.1 C571.5 155.8 575.9 154.4 577.8 152.7 C579.8 151.0 581.5 148.5 583.6 146.9 C585.8 145.3 588.5 144.5 590.9 143.3 C593.3 142.1 596.2 141.2 598.2 139.6 C600.1 138.1 600.6 135.5 602.5 133.8 C604.5 132.1 606.9 130.8 609.8 129.5 C612.7 128.1 617.2 126.2 620.0 125.8 C622.8 125.4 624.4 126.9 626.6 127.2 C628.8 127.5 631.3 127.9 633.2 127.7 C635.1 127.5 636.9 127.4 638.1 126.1 C639.3 124.8 639.5 121.8 640.3 120.0 C641.1 118.3 641.5 117.0 643.1 115.6 C644.6 114.3 647.5 113.1 649.6 111.8 C651.8 110.5 654.0 109.2 656.2 108.0 C658.4 106.8 661.1 106.1 662.8 104.7 C664.6 103.2 665.4 100.6 666.7 99.2 C667.9 97.8 668.4 97.0 670.5 96.4 C672.6 95.8 676.4 95.8 679.3 95.7 C682.2 95.5 685.3 95.3 688.1 95.3 C690.8 95.4 694.3 95.4 695.8 95.9 C697.2 96.3 697.2 97.0 696.9 98.1 C696.5 99.2 694.9 101.0 693.6 102.5 C692.3 103.9 690.3 105.4 689.2 106.9 C688.1 108.3 687.3 109.6 687.0 111.3 C686.7 112.9 686.5 115.6 687.2 116.7 C687.9 117.8 689.8 117.8 691.4 117.8 C693.0 117.8 695.2 116.7 696.9 116.7 C698.5 116.7 700.0 117.5 701.3 117.8 C702.5 118.2 703.5 119.1 704.6 118.9 C705.6 118.8 706.7 118.0 707.8 116.7 C708.9 115.5 710.2 112.9 711.1 111.3 C712.1 109.6 712.9 108.7 713.3 106.9 C713.8 105.0 714.1 102.3 713.9 100.3 C713.7 98.3 713.1 96.2 712.2 94.8 C711.4 93.4 710.4 93.0 708.9 92.0 C707.5 91.1 704.7 90.9 703.5 89.3 C702.2 87.7 701.6 84.7 701.3 82.7 C700.9 80.7 700.5 79.0 701.3 77.2 C702.0 75.5 704.0 74.1 705.6 72.3 C707.3 70.4 709.5 68.2 711.1 66.2 C712.8 64.3 714.2 62.1 715.5 60.7 C716.9 59.4 718.1 58.7 719.4 58.0 C720.7 57.3 722.6 43.9 723.2 56.4 C723.9 68.8 723.9 120.0 723.2 132.7 C722.6 145.3 720.8 132.7 719.4 132.1 C717.9 131.6 716.7 129.7 714.4 129.4 C712.1 129.0 707.8 129.7 705.6 129.9 C703.5 130.1 702.7 130.0 701.3 130.5 C699.8 130.9 698.3 131.8 696.9 132.7 C695.4 133.6 693.9 135.0 692.5 136.0 C691.0 137.0 689.9 137.9 688.1 138.7 C686.2 139.5 683.7 140.2 681.5 140.9 C679.3 141.6 677.1 142.3 674.9 143.1 C672.7 143.9 670.5 145.0 668.3 145.8 C666.1 146.7 664.1 147.5 661.7 148.0 C659.3 148.6 656.4 149.2 654.0 149.1 C651.7 149.0 649.8 148.2 647.5 147.5 C645.1 146.8 642.5 145.2 639.8 144.7 C637.0 144.3 633.4 144.1 631.0 144.7 C628.6 145.4 627.3 147.4 625.5 148.6 C623.7 149.8 622.4 151.0 620.0 151.9 C617.6 152.8 614.2 153.4 611.3 154.2 C608.4 154.9 605.2 155.6 602.5 156.4 C599.9 157.1 597.5 157.7 595.3 158.5 C593.1 159.4 591.9 161.1 589.5 161.5 C587.0 161.8 583.6 161.5 580.7 160.7 C577.8 160.0 572.5 158.4 572.0 157.1 Z"/>
<g fill="none" stroke="#000" stroke-linejoin="round" stroke-linecap="butt" shape-rendering="crispEdges">
<path stroke-width="1" d="M0.0 48.7 L14.5 49.5 L29.1 50.9 L33.5 54.1 L42.2 56.0 L58.2 55.3 L64.7 57.0 L65.5 61.1 L77.1 61.1 L90.2 59.6 L93.1 61.8 L96.0 64.0 L100.4 63.3 L100.4 59.6 L110.5 59.3 L125.1 61.1 L130.9 64.0 L139.6 66.2 L148.4 69.8 L154.2 72.0 L163.6 74.9 L156.4 77.1 L152.7 82.2 L145.5 79.3 L139.6 76.4 L134.5 75.6 L133.1 74.9 L131.6 77.8 L126.5 80.0 L122.9 80.7 L126.5 81.5 L128.7 88.0 L125.1 89.0 L116.4 90.2 L107.6 93.1 L100.4 97.5 L98.9 98.9 L95.3 96.7 L87.3 97.5 L81.5 98.9 L77.1 100.4 L74.2 104.7 L72.0 107.6 L75.6 109.1 L75.6 112.7 L71.3 114.9 L71.3 119.3 L66.2 120.7 L64.7 125.1 L61.1 128.7 L54.5 133.8 L52.4 126.5 L50.2 116.4 L51.6 112.0 L56.0 108.4 L61.1 106.2 L65.5 104.0 L69.8 100.4 L74.2 97.5 L76.4 94.5 L78.5 92.4 L80.7 89.5 L78.5 88.4 L75.6 90.9 L71.3 93.1 L67.6 95.3 L65.5 93.8 L66.2 91.6 L58.2 91.3 L53.8 93.1 L49.5 96.7 L46.5 100.4 L49.5 102.5 L39.3 103.3 L36.4 101.1 L30.5 99.6 L18.9 101.1 L5.8 101.8 L0.0 106.9 M0.0 37.5 L5.8 35.6 L14.5 37.1 L16.7 38.1 L8.7 39.6 L0.0 40.7 M21.1 37.5 L25.5 39.0 L34.9 39.0 L36.4 39.6 L34.2 40.4 L26.2 40.4 L23.3 39.0 Z M0.0 43.6 L5.8 44.4 L10.9 45.8 L10.2 47.7 L4.4 48.7 L0.0 48.7 M126.5 55.3 L130.2 53.5 L136.7 53.5 L139.6 55.3 L135.3 56.4 L129.5 56.4 Z M240.0 58.2 L224.0 56.0 L209.5 54.5 L200.7 56.0 L187.6 58.2 L183.3 61.1 L176.7 63.3 L176.7 66.2 L183.3 68.4 L186.2 71.3 L190.5 73.5 L181.8 74.2 L174.5 75.6 L170.9 76.4 L174.5 78.5 L180.4 80.7 L189.1 80.0 L193.5 79.7 L193.5 85.1 L187.6 86.5 L181.8 87.3 L178.9 90.2 L176.7 92.4 L180.4 95.3 L181.8 98.9 L187.6 100.4 L190.5 98.9 L192.0 102.5 L199.3 104.0 L201.5 105.5 L200.7 103.3 L204.4 104.0 L204.4 108.4 L201.5 111.3 L194.9 114.2 L189.1 116.4 L181.8 120.0 L184.7 118.5 L193.5 115.6 L203.6 112.0 L209.5 108.4 L215.3 104.0 L218.2 101.1 L221.1 97.5 L224.7 94.5 L229.1 93.8 L226.9 96.0 L223.3 100.4 L228.4 98.9 L234.2 96.7 L236.4 94.5 L240.0 94.8 M213.1 108.4 L219.6 105.5 L221.8 107.6 L216.0 111.3 Z M172.4 98.2 L175.3 97.2 L178.2 98.2 L175.3 99.3 Z M1.1 124.2 L6.0 125.3 L8.8 121.4 L9.9 123.6 L11.0 128.5 L12.6 135.1 L14.8 141.7 L11.5 140.6 L9.3 143.9 L11.5 150.5 L9.9 152.2 L7.1 150.5 L6.0 154.9 L8.2 158.2 L12.6 160.9 L17.0 160.4 L19.8 163.1 L14.8 164.8 L11.5 167.5 L9.9 169.7 L6.0 168.1 L1.6 167.0 L1.1 164.8 L4.9 164.8 L6.0 159.8 L4.9 156.0 L5.5 152.7 L7.7 146.1 L7.1 138.4 L6.0 131.8 L6.6 126.4 L3.3 129.6 L1.6 132.9 M1.1 170.3 L3.8 171.4 L5.5 175.8 L7.1 178.0 L6.6 181.8 L4.9 184.6 L3.3 188.9 L2.2 192.2 L2.7 194.4 L1.1 197.2 M230.0 57.9 L244.5 59.6 L259.1 61.8 L272.2 64.0 L275.1 62.5 L282.4 61.8 L288.2 59.6 L295.5 58.9 L298.4 59.6 L301.3 57.5 L305.6 59.6 L310.7 61.1 L312.9 59.6 L315.8 61.1 L324.5 61.1 L331.8 62.5 L337.6 63.3 L342.0 62.5 L346.4 64.0 L349.3 64.7 L360.9 64.0 L368.2 63.3 L375.5 65.5 L382.7 66.9 L390.0 68.4 L394.4 69.1 L395.8 66.2 L395.1 63.3 L400.2 61.1 L403.1 64.0 L402.4 66.9 L406.7 69.1 L410.4 65.5 L411.8 61.8 L406.7 60.4 L403.8 58.2 L406.0 55.3 L410.4 57.5 L417.6 59.6 L420.5 56.0 L417.6 53.8 L413.3 51.6 L411.8 49.5 L414.7 48.0 L419.1 50.2 L423.5 53.8 L425.6 57.5 L426.4 62.5 L430.7 64.0 L432.9 67.6 L436.5 69.1 L440.2 65.5 L440.9 60.4 L448.2 60.8 L454.0 64.0 L452.5 69.8 L446.7 71.3 L440.9 72.7 L438.0 74.2 L435.8 78.5 L432.9 82.2 L424.9 83.6 L422.0 86.5 L416.2 89.5 L411.8 93.1 L409.6 98.9 L410.4 103.3 L414.0 105.5 L416.2 107.6 L419.1 109.8 L426.4 112.0 L433.6 114.2 L439.5 115.6 L446.7 117.1 L451.1 119.3 L452.5 123.6 L454.7 128.0 L457.6 131.6 L459.8 134.5 L461.3 130.9 L462.7 126.5 L461.3 122.9 L459.8 119.3 L465.6 116.4 L468.5 112.0 L468.5 106.9 L464.9 103.3 L465.6 96.0 L464.9 90.2 L470.0 89.5 M230.0 99.6 L233.6 97.5 L235.1 94.5 L238.7 95.3 L247.5 97.5 L259.1 99.6 L266.4 102.5 L272.2 105.5 L276.5 108.4 L278.7 104.7 L279.5 109.1 L283.1 109.1 L280.9 112.0 L285.3 114.9 L288.2 116.4 L291.1 119.3 L294.0 119.3 L293.3 122.2 L295.5 125.1 L299.8 128.7 L301.3 132.4 L305.6 134.5 L311.5 137.5 L317.3 140.4 L318.7 143.3 L319.5 146.9 L314.4 146.2 L315.1 152.7 L314.4 160.0 L312.9 164.4 L312.6 168.7 L313.6 173.1 L315.1 177.5 L317.3 182.5 L319.5 185.0 M284.5 122.2 L287.5 121.5 L289.6 125.1 L291.8 130.2 L288.9 128.7 L286.0 125.1 Z M300.5 135.3 L304.2 133.8 L311.5 137.5 L317.3 141.8 L319.5 146.2 L315.8 145.5 L309.3 141.8 L303.5 138.2 Z M277.3 106.2 L280.2 112.7 L284.5 116.4 L287.5 114.9 M310.7 74.2 L320.2 72.7 L330.4 71.3 L334.7 73.5 L331.8 76.4 L326.0 77.1 L324.5 79.3 L317.3 79.3 L320.2 76.4 L326.0 74.9 L317.3 74.9 Z M337.6 94.5 L342.0 93.1 L344.2 89.5 L350.7 89.5 L356.5 87.3 L362.4 88.0 L358.0 89.5 L353.6 90.9 L349.3 93.1 L346.4 95.3 L340.5 95.7 Z M355.8 104.0 L360.9 100.4 L368.2 101.1 L363.8 102.5 L358.0 104.4 Z M382.7 113.5 L384.9 107.6 L387.1 106.9 L386.4 110.5 L384.9 113.5 Z M388.5 126.5 L392.9 126.5 L397.3 130.9 L400.2 136.7 L397.3 137.5 L395.8 133.1 L391.5 129.5 Z M395.8 123.6 L399.5 123.3 L403.1 130.9 L405.3 136.0 L402.4 136.4 L400.2 131.6 L397.3 126.5 Z M418.0 151.5 L423.0 148.0 L428.0 144.5 L432.0 142.0 L437.0 143.0 L441.0 146.0 L443.0 150.0 L440.0 151.0 L435.0 150.0 L431.0 148.5 L426.0 149.5 L421.0 151.5 Z M443.0 150.0 L448.0 153.0 L454.0 153.5 L458.0 156.0 L459.5 158.5 L456.0 159.0 L454.0 157.0 L453.0 161.0 L450.0 164.5 L447.0 162.0 L445.5 159.0 L447.5 156.5 L445.0 154.0 L442.0 153.0 Z M432.5 158.0 L435.0 155.5 L439.0 153.0 L443.0 152.0 L440.0 155.0 L437.5 159.0 L437.0 164.0 L437.5 169.0 L435.0 170.5 L433.0 169.0 L432.5 164.0 Z M446.5 170.0 L452.0 168.0 L457.0 166.0 L461.0 164.5 L460.0 166.0 L455.0 168.5 L450.0 171.0 Z M459.0 163.0 L464.0 161.5 L470.0 160.5 L471.0 161.5 L467.0 163.5 L461.0 164.5 Z M310.7 50.2 L314.4 43.6 L323.1 41.5 L334.7 42.2 L340.5 45.1 L334.7 48.0 L330.4 50.2 L327.5 54.5 L317.3 55.3 Z M330.4 50.2 L337.6 47.3 L344.9 46.3 L353.6 47.7 L363.8 47.3 L369.6 46.3 L376.9 45.4 L378.4 47.3 L374.7 49.5 L376.9 54.5 L384.2 56.7 L390.7 58.9 L387.8 61.8 L381.3 62.5 L387.1 64.7 L384.2 66.2 L374.0 64.0 L366.7 65.5 L368.2 68.4 L363.8 69.1 L360.9 67.2 L343.5 68.1 L344.9 64.7 L352.2 64.0 L346.4 61.8 L340.5 61.1 L338.4 58.9 L350.7 58.2 L344.9 56.0 L334.7 55.0 L331.1 52.7 Z M312.9 34.9 L323.1 31.3 L334.7 29.1 L344.9 27.6 L355.1 26.2 L363.8 26.5 L359.5 29.8 L350.7 30.8 L343.5 29.8 L340.5 32.7 L331.8 34.2 L334.7 36.4 L328.9 37.5 L323.1 36.4 L315.8 36.4 Z M384.9 47.3 L391.5 43.6 L398.7 43.3 L403.1 46.5 L404.5 50.9 L398.7 53.1 L392.9 50.9 Z M387.1 33.5 L397.3 33.7 L399.5 37.8 L392.9 39.6 L387.8 37.1 Z M346.4 40.7 L350.7 38.1 L358.0 34.9 L363.8 32.7 L360.9 36.4 L369.6 35.6 L374.0 37.8 L369.6 40.0 L360.9 40.0 L356.5 42.2 L350.7 42.2 Z M376.2 29.8 L378.4 30.5 L384.2 35.6 L381.3 39.3 L377.6 38.5 L380.5 36.4 L376.9 33.5 Z M404.5 39.3 L410.4 37.8 L413.3 40.7 L408.2 41.5 Z M372.5 23.3 L382.7 22.5 L394.4 23.3 L401.6 25.5 L408.2 26.2 L414.7 28.4 L408.9 29.8 L401.6 28.4 L392.9 27.6 L382.7 26.2 L375.5 25.5 Z M409.6 18.2 L413.3 15.3 L423.5 14.5 L433.6 17.5 L440.9 19.6 L438.0 23.3 L433.6 26.9 L423.5 28.4 L417.6 26.9 L414.7 24.0 L411.1 21.1 Z M423.5 14.5 L433.6 11.6 L448.2 9.5 L458.4 8.0 L470.0 7.6 M424.9 15.3 L440.9 18.2 L454.0 18.2 L464.2 16.7 L465.6 17.5 L452.5 19.6 L440.9 20.4 M406.0 31.3 L416.2 32.7 L426.4 33.7 L433.6 32.7 L440.9 34.2 L454.0 36.4 L458.4 38.5 L455.5 41.5 L445.3 40.7 L433.6 40.0 L423.5 38.1 L419.1 40.7 L417.6 43.6 M430.7 34.9 L436.5 29.1 L440.9 26.2 L451.1 27.6 L461.3 29.8 L470.0 26.9 M459.8 33.5 L465.6 30.5 L470.0 29.1 M425.6 50.9 L427.8 46.5 L436.5 44.4 L448.2 43.6 L454.0 45.1 L458.4 48.0 L465.6 47.3 L470.0 48.0 M439.5 45.8 L438.0 49.5 L440.2 53.1 M425.6 50.9 L427.8 53.8 L432.9 56.0 L439.5 57.5 L448.2 58.9 L458.4 60.4 L465.6 58.2 L470.0 58.9 M436.5 74.9 L440.9 73.5 L448.2 78.5 L456.9 83.6 L451.1 84.4 L443.8 82.9 L439.5 85.8 L435.1 83.6 L438.0 79.3 Z M462.7 79.3 L468.5 77.1 L471.5 79.3 L468.5 81.5 L464.2 81.5 Z M456.9 90.9 L459.1 89.0 L461.3 90.9 L459.1 93.1 Z M481.8 26.9 L489.1 24.7 L497.8 21.8 L503.6 18.9 L509.5 15.3 L518.2 12.4 L528.4 11.6 L541.5 10.9 L551.6 12.4 L554.5 10.2 L564.7 9.5 L576.4 7.3 L588.0 6.5 L601.1 5.5 L614.2 5.8 L627.3 6.5 L638.9 8.0 L653.5 10.2 L647.6 10.9 L631.6 11.6 L622.9 12.4 L638.9 13.1 L641.8 15.3 L649.1 13.8 L656.4 14.5 L668.0 13.8 L676.7 13.4 L681.8 15.0 L675.3 16.7 L666.5 19.6 L660.7 21.8 L656.4 24.7 L658.5 28.4 L660.7 31.3 L656.4 32.7 L650.5 34.2 L653.5 36.4 L657.8 38.5 L661.5 39.3 L656.4 42.2 L652.0 44.4 L649.1 46.5 L646.2 48.7 L641.1 50.2 L644.7 53.1 L648.4 56.0 L644.7 59.6 L637.5 55.3 L633.8 58.2 L641.8 58.9 L638.9 61.8 L631.6 64.0 L624.4 65.5 L616.4 66.9 L612.7 69.1 L608.4 72.7 L604.0 74.9 L596.7 76.4 L589.5 77.8 L585.8 79.3 L588.0 82.9 L586.5 86.5 L581.5 89.5 L580.7 93.1 L578.5 98.9 L575.6 99.6 L572.0 98.2 L568.4 96.0 L561.8 95.3 L558.9 93.1 L556.0 89.5 L553.1 85.8 L550.2 82.2 L548.7 78.5 L545.8 76.4 L544.1 72.7 L544.4 67.6 L547.3 65.5 L553.1 64.7 L553.1 61.1 L547.3 61.8 L542.9 61.8 L540.7 58.9 L542.2 56.0 L545.8 53.1 L548.0 56.0 L552.4 56.0 L551.6 58.2 L541.5 54.5 L537.8 53.1 L539.3 49.5 L538.5 46.5 L535.6 43.6 L532.7 40.7 L529.1 37.8 L522.5 36.4 L516.7 35.2 L509.5 35.6 L502.9 36.4 L496.4 34.9 L491.3 32.7 L494.9 29.8 L488.4 31.3 Z M641.1 76.4 L644.0 73.9 L647.6 74.2 L649.1 76.4 L653.5 75.3 L657.8 74.2 L665.1 73.9 L670.9 74.2 L675.3 76.4 L675.3 79.3 L670.9 81.5 L663.6 83.6 L657.8 85.1 L652.0 84.4 L647.6 83.6 L645.5 81.5 L647.6 79.3 L643.3 79.3 Z M460.0 9.5 L474.5 8.7 L489.1 9.0 L503.6 9.5 L519.6 10.5 L518.2 13.1 L510.9 13.8 L503.6 16.0 L499.3 18.2 L508.0 21.1 L503.6 23.3 L496.4 24.0 L483.3 26.2 M460.0 31.3 L467.3 29.1 L473.8 26.9 L474.5 23.3 L481.8 21.1 L492.0 18.9 L503.6 16.0 M460.0 16.7 L465.8 16.0 M460.0 34.2 L464.4 33.2 M460.0 49.5 L464.4 50.2 L468.7 48.7 L465.8 45.8 L460.0 45.1 M460.0 49.5 L468.7 49.5 L477.5 51.6 L486.2 53.8 L494.9 56.7 L500.0 59.6 L497.1 62.5 L500.7 64.0 L497.8 66.2 L505.1 67.6 L512.4 69.8 L519.6 72.0 L515.3 75.6 L510.9 78.5 L509.5 74.2 L503.6 73.5 L499.3 75.6 L502.2 80.0 L506.5 82.9 L508.7 85.8 L503.6 90.2 L502.9 91.3 L496.4 87.3 L494.9 84.4 L499.3 85.8 L494.9 82.9 L489.1 85.1 L481.8 82.9 L474.5 79.3 L468.7 77.1 L462.9 79.3 L464.4 81.5 L474.5 83.6 L481.8 85.8 L489.1 89.5 L496.4 91.6 L502.2 91.6 M460.0 58.9 L464.4 58.2 L471.6 61.8 L478.9 65.5 L483.3 69.1 L477.5 72.7 L474.5 75.6 L477.5 69.8 L471.6 67.6 L464.4 64.0 L460.0 64.0 M468.0 68.4 L470.9 66.2 L474.5 67.6 L472.4 70.5 L468.7 70.5 Z M460.0 101.8 L462.9 103.3 L465.8 101.8 L466.5 94.5 L464.4 90.9 L471.6 89.5 L478.9 90.2 L486.2 93.1 L491.3 95.3 L492.7 101.8 L498.5 106.2 L503.6 102.5 L508.0 97.5 L512.4 100.4 L518.2 107.6 L518.9 112.7 L525.5 117.8 L532.7 122.2 L537.1 125.1 L537.8 130.9 L532.7 131.6 L528.4 133.1 L524.0 136.7 L518.2 137.5 L509.5 136.7 L502.2 137.5 L496.4 139.6 L491.3 144.0 L487.6 149.8 M460.0 101.8 L464.4 104.7 L468.0 110.5 L467.3 116.4 L462.9 119.3 L460.0 120.7 M460.0 125.1 L462.9 128.0 L461.5 131.6 M487.6 150.5 L493.5 145.5 L500.7 141.8 L508.0 141.1 L510.9 141.8 L503.6 144.0 L506.5 146.9 L509.5 151.3 L513.8 154.2 L521.1 152.7 L522.5 149.8 L524.0 152.7 L521.1 156.4 L515.3 157.8 L510.9 159.3 L506.5 162.9 L503.6 160.0 L508.0 156.4 L502.2 158.5 L496.4 160.0 L491.3 162.2 L488.4 165.8 L487.6 169.5 L490.5 170.2 L486.2 170.9 L481.8 173.1 L477.5 174.5 L476.0 178.9 L473.1 181.8 L470.2 185.0 M509.5 138.9 L518.2 140.4 L513.8 141.8 Z M510.2 150.5 L518.2 149.8 L514.5 152.4 Z M526.2 146.9 L529.8 139.6 L532.7 133.8 L537.1 130.2 L535.6 135.3 L538.5 139.6 L544.4 141.1 L547.3 145.5 L546.5 151.3 L542.9 148.4 L539.3 149.8 L535.6 147.6 L529.8 147.6 Z M477.5 174.5 L483.3 172.4 L489.8 171.3 M468.7 180.4 L472.4 181.8 L473.8 184.7 L470.9 185.0 M488.2 165.8 L490.0 170.0 L487.0 171.2 L482.7 172.4 L478.5 173.6 L476.1 176.1 L477.3 179.1 L474.8 182.1 L472.4 185.2 L472.4 188.8 L471.2 192.4 L472.4 194.2 L470.0 196.7 L465.2 199.7 L460.3 203.3 L456.7 206.4 L454.2 208.8 L453.0 213.0 L454.0 217.9 L456.1 222.7 L457.3 227.6 L457.3 232.4 L455.5 234.8 L453.0 233.6 L451.2 228.8 L450.0 223.9 L448.8 219.7 L446.4 216.7 L443.3 216.1 L440.3 216.7 L437.3 214.2 L433.6 214.8 L427.6 214.2 L424.5 214.8 L426.4 217.9 L428.2 219.7 L422.7 220.3 L419.1 217.9 L415.5 217.3 L408.8 217.3 L408.8 219.7 L404.5 222.1 L402.1 225.2 L401.5 230.0 L402.1 233.6 L401.5 234.8 M469.4 180.3 L471.8 179.1 L473.6 181.5 L472.4 186.4 L470.6 191.2 L469.4 186.4 Z M461.5 229.4 L466.4 230.0 L467.0 232.4 M350.0 214.2 L352.4 219.1 L356.1 223.9 L359.7 227.6 L362.7 230.6 L362.1 234.8 M350.0 222.7 L353.6 228.8 L356.1 234.8 M350.0 228.8 L353.0 234.8 M319.5 185.0 L321.0 190.4 L325.7 198.6 L329.0 199.5 L332.2 200.6 L336.5 205.7 L338.0 209.0 L340.4 216.3 L343.7 225.0 L346.3 224.2 L350.0 228.8 M350.0 222.7 L345.0 216.3 L344.3 210.4 L348.6 211.2 L350.0 214.2 M696.5 108.2 L699.6 104.5 L698.4 107.0 L701.5 108.8 L700.3 112.6 L702.8 115.1 L706.5 117.6 L710.3 119.5 L709.1 122.6 L710.9 124.5 L707.8 126.4 L705.3 127.0 L706.5 130.2 L703.4 130.8 L711.6 131.4 L707.8 133.3 L705.3 135.2 L702.2 137.1 L704.0 138.3 L707.8 135.2 L712.8 135.2 L719.7 134.6 M701.5 107.0 L703.4 104.5 L709.7 104.5 L706.5 107.0 L714.1 109.1 L711.6 112.0 L709.7 113.9 L713.4 116.4 L716.6 119.5 L719.7 120.1 M719.7 139.6 L713.4 139.6 L715.3 141.7 L707.8 142.7 L704.3 144.6 L705.3 146.5 L712.8 147.7 L715.3 152.1 L716.8 155.3 L716.6 160.3 L715.6 163.4 L710.3 164.0 L705.3 164.3 L700.3 162.8 L694.0 162.5 L690.5 164.7 L691.7 170.3 L691.5 176.6 L689.2 179.7 L689.6 182.9 L691.5 184.7 L690.9 188.1 L697.1 188.1 L700.3 191.0 L702.2 192.9 L707.8 190.4 L712.8 189.7 L715.3 186.6 L719.7 182.2 M702.2 192.9 L703.4 195.4 L707.8 196.4 L712.8 196.0 L716.6 194.4 L719.7 192.9 M702.2 192.9 L700.3 195.4 L699.0 198.5 L695.3 201.7 L690.9 204.2 L688.7 207.3 L687.7 211.1 L688.4 214.8 L686.5 218.6 L682.7 221.7 L679.0 224.2 L676.4 225.5 L675.8 228.6 L673.3 230.5 L671.4 234.9 M688.4 123.3 L690.2 121.4 L692.7 118.9 L696.5 117.4 L700.3 117.6 L701.5 120.1 L700.3 123.3 L700.3 127.0 L698.4 129.5 L694.0 130.8 L689.0 132.1 L687.1 130.2 L689.0 127.7 L687.7 125.2 Z"/>
<path stroke-width="2" d="M0.0 42.9 L2.9 42.9 L2.9 45.1 L0.0 45.1 Z M180.4 120.7 L186.9 118.1 M49.5 138.2 L53.1 135.6 M22.5 160.4 L26.9 156.5 M31.3 155.5 L34.8 152.2 M0.6 125.3 L0.6 142.8"/>
<path stroke-width="2.2" d="M157.1 84.4 L167.3 85.8 M49.4 138.2 L52.7 135.7"/>
<path stroke-width="1.6" d="M122.2 80.7 L126.5 80.4 M106.9 126.5 L109.8 127.7 M141.1 130.2 L142.5 131.6 M394.4 19.6 L398.7 21.1 M446.7 89.9 L450.4 88.4"/>
<path stroke-width="1.4" d="M166.5 127.3 L169.5 124.4 L175.3 122.9 L171.6 125.1 L167.3 126.5 Z M695.3 90.0 L699.0 89.0 L697.1 91.5 Z"/>
<path stroke-width="1.5" d="M1.1 165.9 L3.3 172.5 M448.5 153.2 L452.0 153.2 L450.5 155.5 Z M468.8 193.0 L472.7 192.4 M477.3 173.6 L483.3 172.1 M663.9 223.0 L667.7 223.6 L668.9 225.5 M673.3 224.2 L676.4 219.2"/>
</g>
</g>
<rect x="0" y="0" width="720" height="236" fill="none" stroke="#000" stroke-width="2"/>
<path d="M-6 20.5 H-1 M-6 59.5 H-1 M-6 98.5 H-1 M-6 137.5 H-1 M-6 177.5 H-1 M-6 216.5 H-1 M0.10 237 V242 M65.55 237 V242 M131.01 237 V242 M196.46 237 V242 M261.92 237 V242 M327.37 237 V242 M392.83 237 V242 M458.28 237 V242 M523.74 237 V242 M589.19 237 V242 M654.65 237 V242 M720.10 237 V242" stroke="#000" stroke-width="1" fill="none" shape-rendering="crispEdges"/>
<text x="-43.2" y="27.4" font-size="19.5" fill="#000" text-anchor="start" textLength="30.3" lengthAdjust="spacingAndGlyphs" stroke="#fff" stroke-width="0.45">80N</text>
<text x="-43.2" y="66.5" font-size="19.5" fill="#000" text-anchor="start" textLength="30.3" lengthAdjust="spacingAndGlyphs" stroke="#fff" stroke-width="0.45">70N</text>
<text x="-43.2" y="105.7" font-size="19.5" fill="#000" text-anchor="start" textLength="30.3" lengthAdjust="spacingAndGlyphs" stroke="#fff" stroke-width="0.45">60N</text>
<text x="-43.2" y="144.8" font-size="19.5" fill="#000" text-anchor="start" textLength="30.3" lengthAdjust="spacingAndGlyphs" stroke="#fff" stroke-width="0.45">50N</text>
<text x="-43.2" y="184.0" font-size="19.5" fill="#000" text-anchor="start" textLength="30.3" lengthAdjust="spacingAndGlyphs" stroke="#fff" stroke-width="0.45">40N</text>
<text x="-43.2" y="223.1" font-size="19.5" fill="#000" text-anchor="start" textLength="30.3" lengthAdjust="spacingAndGlyphs" stroke="#fff" stroke-width="0.45">30N</text>
<text x="-18.4" y="260" font-size="19.5" fill="#000" text-anchor="start" textLength="38.6" lengthAdjust="spacingAndGlyphs" stroke="#fff" stroke-width="0.45">140E</text>
<text x="47.1" y="260" font-size="19.5" fill="#000" text-anchor="start" textLength="38.6" lengthAdjust="spacingAndGlyphs" stroke="#fff" stroke-width="0.45">160E</text>
<text x="117.6" y="260" font-size="19.5" fill="#000" text-anchor="start" textLength="28.5" lengthAdjust="spacingAndGlyphs" stroke="#fff" stroke-width="0.45">180</text>
<text x="176.1" y="260" font-size="19.5" fill="#000" text-anchor="start" textLength="42.3" lengthAdjust="spacingAndGlyphs" stroke="#fff" stroke-width="0.45">160W</text>
<text x="241.6" y="260" font-size="19.5" fill="#000" text-anchor="start" textLength="42.3" lengthAdjust="spacingAndGlyphs" stroke="#fff" stroke-width="0.45">140W</text>
<text x="307.0" y="260" font-size="19.5" fill="#000" text-anchor="start" textLength="42.3" lengthAdjust="spacingAndGlyphs" stroke="#fff" stroke-width="0.45">120W</text>
<text x="372.5" y="260" font-size="19.5" fill="#000" text-anchor="start" textLength="42.3" lengthAdjust="spacingAndGlyphs" stroke="#fff" stroke-width="0.45">100W</text>
<text x="442.1" y="260" font-size="19.5" fill="#000" text-anchor="start" textLength="32.5" lengthAdjust="spacingAndGlyphs" stroke="#fff" stroke-width="0.45">80W</text>
<text x="507.6" y="260" font-size="19.5" fill="#000" text-anchor="start" textLength="32.5" lengthAdjust="spacingAndGlyphs" stroke="#fff" stroke-width="0.45">60W</text>
<text x="573.0" y="260" font-size="19.5" fill="#000" text-anchor="start" textLength="32.5" lengthAdjust="spacingAndGlyphs" stroke="#fff" stroke-width="0.45">40W</text>
<text x="638.5" y="260" font-size="19.5" fill="#000" text-anchor="start" textLength="32.5" lengthAdjust="spacingAndGlyphs" stroke="#fff" stroke-width="0.45">20W</text>
<text x="716.0" y="260" font-size="19.5" fill="#000" text-anchor="start" textLength="8.5" lengthAdjust="spacingAndGlyphs" stroke="#fff" stroke-width="0.45">0</text>
</g>
<g transform="translate(900,670)">
<g clip-path="url(#cp)">
<path fill="#e1ffff" d="M-5.0 -5.0 C-63.3 0.4 -7.5 22.2 -5.0 27.5 C-2.5 32.8 5.0 26.8 10.0 27.0 C15.0 27.2 20.0 27.8 25.0 28.5 C30.0 29.2 35.0 30.2 40.0 31.0 C45.0 31.8 50.0 32.6 55.0 33.5 C60.0 34.4 65.0 35.7 70.0 36.5 C75.0 37.3 80.8 38.2 85.0 38.5 C89.2 38.8 91.7 39.1 95.0 38.5 C98.3 37.9 101.7 36.4 105.0 35.0 C108.3 33.6 110.8 31.6 115.0 30.0 C119.2 28.4 125.0 26.8 130.0 25.5 C135.0 24.2 139.2 23.2 145.0 22.5 C150.8 21.8 161.7 21.8 165.0 21.0 C168.3 20.2 162.5 18.8 165.0 18.0 C167.5 17.2 175.0 16.6 180.0 16.0 C185.0 15.4 189.2 15.0 195.0 14.5 C200.8 14.0 208.3 13.4 215.0 13.0 C221.7 12.6 228.3 12.3 235.0 12.0 C241.7 11.7 248.3 11.2 255.0 11.0 C261.7 10.8 268.3 10.8 275.0 10.5 C281.7 10.2 287.5 9.9 295.0 9.5 C302.5 9.1 315.8 8.9 320.0 8.0 C324.2 7.1 318.3 4.9 320.0 4.0 C321.7 3.1 326.7 3.0 330.0 2.5 C333.3 2.0 337.5 2.2 340.0 1.0 C342.5 -0.2 402.5 -4.0 345.0 -5.0 C287.5 -6.0 53.3 -10.4 -5.0 -5.0 Z"/>
<path fill="#96d2fa" d="M-5.0 -5.0 C-60.8 -1.1 -7.5 14.7 -5.0 18.5 C-2.5 22.3 5.0 18.2 10.0 18.0 C15.0 17.8 20.0 17.1 25.0 17.0 C30.0 16.9 35.0 17.2 40.0 17.5 C45.0 17.8 50.0 18.3 55.0 18.5 C60.0 18.7 65.0 18.6 70.0 18.5 C75.0 18.4 80.0 18.4 85.0 18.0 C90.0 17.6 95.0 16.7 100.0 16.0 C105.0 15.3 110.0 14.7 115.0 14.0 C120.0 13.3 125.0 12.7 130.0 12.0 C135.0 11.3 139.2 10.6 145.0 10.0 C150.8 9.4 161.7 8.7 165.0 8.5 C168.3 8.3 162.5 9.1 165.0 9.0 C167.5 8.9 175.0 8.3 180.0 8.0 C185.0 7.7 189.2 7.4 195.0 7.0 C200.8 6.6 208.3 5.9 215.0 5.5 C221.7 5.1 228.3 4.8 235.0 4.5 C241.7 4.2 248.3 3.8 255.0 3.5 C261.7 3.2 267.5 2.8 275.0 2.5 C282.5 2.2 292.5 1.8 300.0 1.5 C307.5 1.2 315.0 1.9 320.0 0.8 C325.0 -0.3 384.2 -4.0 330.0 -5.0 C275.8 -6.0 50.8 -8.9 -5.0 -5.0 Z"/>
<path fill="#e1ffff" d="M79.0 118.0 C78.7 120.3 79.8 124.7 80.0 128.0 C80.2 131.3 79.5 135.0 80.0 138.0 C80.5 141.0 81.7 143.8 83.0 146.0 C84.3 148.2 86.0 149.3 88.0 151.0 C90.0 152.7 92.5 154.5 95.0 156.0 C97.5 157.5 100.2 159.0 103.0 160.0 C105.8 161.0 109.2 161.5 112.0 162.0 C114.8 162.5 117.2 162.7 120.0 163.0 C122.8 163.3 126.5 164.2 129.0 164.0 C131.5 163.8 133.2 163.2 135.0 162.0 C136.8 160.8 138.5 158.8 140.0 157.0 C141.5 155.2 143.0 152.7 144.0 151.0 C145.0 149.3 146.7 148.3 146.0 147.0 C145.3 145.7 142.2 144.3 140.0 143.0 C137.8 141.7 135.2 140.5 133.0 139.0 C130.8 137.5 128.8 135.8 127.0 134.0 C125.2 132.2 123.3 130.2 122.0 128.0 C120.7 125.8 119.8 123.2 119.0 121.0 C118.2 118.8 117.8 116.8 117.0 115.0 C116.2 113.2 115.2 111.2 114.0 110.0 C112.8 108.8 111.8 108.0 110.0 107.5 C108.2 107.0 105.5 106.9 103.0 107.0 C100.5 107.1 97.5 107.5 95.0 108.0 C92.5 108.5 90.2 109.0 88.0 110.0 C85.8 111.0 83.5 112.7 82.0 114.0 C80.5 115.3 79.3 115.7 79.0 118.0 Z"/>
<path fill="#96d2fa" d="M88.0 130.0 C88.2 127.2 88.2 124.8 89.0 123.0 C89.8 121.2 91.2 120.0 93.0 119.0 C94.8 118.0 97.8 117.2 100.0 117.0 C102.2 116.8 104.5 116.8 106.0 117.5 C107.5 118.2 107.8 119.4 109.0 121.0 C110.2 122.6 111.5 125.2 113.0 127.0 C114.5 128.8 116.2 130.3 118.0 132.0 C119.8 133.7 121.8 135.3 124.0 137.0 C126.2 138.7 128.7 140.5 131.0 142.0 C133.3 143.5 136.3 145.0 138.0 146.0 C139.7 147.0 141.2 146.8 141.0 148.0 C140.8 149.2 138.5 151.3 137.0 153.0 C135.5 154.7 134.2 157.0 132.0 158.0 C129.8 159.0 126.8 158.8 124.0 159.0 C121.2 159.2 117.8 159.2 115.0 159.0 C112.2 158.8 109.5 158.7 107.0 158.0 C104.5 157.3 102.2 156.2 100.0 155.0 C97.8 153.8 95.7 152.3 94.0 151.0 C92.3 149.7 91.0 148.8 90.0 147.0 C89.0 145.2 88.3 142.8 88.0 140.0 C87.7 137.2 87.8 132.8 88.0 130.0 Z"/>
<path fill="#2882f0" d="M95.0 147.0 C94.3 145.2 96.3 142.2 97.0 140.0 C97.7 137.8 97.5 135.5 99.0 134.0 C100.5 132.5 104.0 130.8 106.0 131.0 C108.0 131.2 109.2 133.5 111.0 135.0 C112.8 136.5 114.8 138.5 117.0 140.0 C119.2 141.5 121.3 142.8 124.0 144.0 C126.7 145.2 132.2 146.3 133.0 147.5 C133.8 148.7 130.5 150.0 129.0 151.0 C127.5 152.0 126.2 153.0 124.0 153.5 C121.8 154.0 118.7 154.0 116.0 154.0 C113.3 154.0 110.5 154.0 108.0 153.5 C105.5 153.0 103.2 152.1 101.0 151.0 C98.8 149.9 95.7 148.8 95.0 147.0 Z"/>
<path fill="#1464d2" d="M107.0 147.0 L119.0 147.4 L119.0 148.2 L107.0 147.8 Z"/>
<path fill="#e1ffff" d="M37.0 206.5 C37.2 205.2 40.0 203.6 42.0 202.0 C44.0 200.4 46.5 198.3 49.0 197.0 C51.5 195.7 54.3 194.8 57.0 194.0 C59.7 193.2 62.3 192.8 65.0 192.0 C67.7 191.2 70.2 190.2 73.0 189.0 C75.8 187.8 79.2 185.8 82.0 185.0 C84.8 184.2 87.0 184.5 90.0 184.5 C93.0 184.5 96.7 184.9 100.0 185.0 C103.3 185.1 106.7 184.9 110.0 184.8 C113.3 184.7 116.8 184.2 120.0 184.2 C123.2 184.2 127.0 184.2 129.0 185.0 C131.0 185.8 131.5 187.3 132.0 189.0 C132.5 190.7 132.5 193.3 132.0 195.0 C131.5 196.7 130.5 197.7 129.0 199.0 C127.5 200.3 125.3 201.8 123.0 203.0 C120.7 204.2 117.8 205.1 115.0 206.0 C112.2 206.9 109.2 207.8 106.0 208.5 C102.8 209.2 99.3 210.0 96.0 210.5 C92.7 211.0 89.3 211.3 86.0 211.5 C82.7 211.7 79.3 211.5 76.0 211.5 C72.7 211.5 69.3 211.5 66.0 211.5 C62.7 211.5 59.2 211.6 56.0 211.5 C52.8 211.4 49.5 211.3 47.0 211.0 C44.5 210.7 42.7 210.2 41.0 209.5 C39.3 208.8 36.8 207.8 37.0 206.5 Z"/>
<path fill="#e1ffff" d="M197.0 178.0 C197.0 175.7 198.0 172.7 199.0 170.0 C200.0 167.3 201.7 164.7 203.0 162.0 C204.3 159.3 205.3 156.5 207.0 154.0 C208.7 151.5 210.8 149.2 213.0 147.0 C215.2 144.8 217.7 142.7 220.0 141.0 C222.3 139.3 224.5 138.1 227.0 137.0 C229.5 135.9 232.3 134.8 235.0 134.5 C237.7 134.2 240.7 134.2 243.0 135.0 C245.3 135.8 247.4 137.3 249.0 139.0 C250.6 140.7 251.8 142.8 252.5 145.0 C253.2 147.2 253.4 149.5 253.0 152.0 C252.6 154.5 251.2 157.3 250.0 160.0 C248.8 162.7 247.5 165.3 246.0 168.0 C244.5 170.7 242.8 173.5 241.0 176.0 C239.2 178.5 237.2 180.8 235.0 183.0 C232.8 185.2 230.5 187.4 228.0 189.0 C225.5 190.6 222.7 191.9 220.0 192.5 C217.3 193.1 214.7 193.1 212.0 192.5 C209.3 191.9 206.2 190.4 204.0 189.0 C201.8 187.6 200.2 185.8 199.0 184.0 C197.8 182.2 197.0 180.3 197.0 178.0 Z"/>
<path fill="#96d2fa" d="M205.0 167.0 C204.3 164.9 206.8 161.5 208.0 159.0 C209.2 156.5 210.5 154.2 212.0 152.0 C213.5 149.8 215.0 147.7 217.0 146.0 C219.0 144.3 221.7 143.2 224.0 142.0 C226.3 140.8 228.7 139.6 231.0 139.0 C233.3 138.4 236.3 138.0 238.0 138.5 C239.7 139.0 239.9 140.6 241.0 142.0 C242.1 143.4 244.2 144.8 244.5 147.0 C244.8 149.2 243.9 152.7 243.0 155.0 C242.1 157.3 240.7 159.2 239.0 161.0 C237.3 162.8 235.2 164.5 233.0 166.0 C230.8 167.5 228.3 169.0 226.0 170.0 C223.7 171.0 221.3 171.8 219.0 172.0 C216.7 172.2 214.3 172.3 212.0 171.5 C209.7 170.7 205.7 169.1 205.0 167.0 Z"/>
<path fill="#e1ffff" d="M303.0 135.0 C303.3 133.7 305.5 132.2 307.0 132.0 C308.5 131.8 310.5 132.6 312.0 133.5 C313.5 134.4 314.7 136.2 316.0 137.5 C317.3 138.8 319.0 139.8 320.0 141.0 C321.0 142.2 322.2 143.5 322.0 144.5 C321.8 145.5 320.3 146.4 319.0 147.0 C317.7 147.6 315.7 148.3 314.0 148.0 C312.3 147.7 310.5 146.3 309.0 145.0 C307.5 143.7 306.0 141.7 305.0 140.0 C304.0 138.3 302.7 136.3 303.0 135.0 Z"/>
<path fill="#e1ffff" d="M320.0 118.0 C319.3 117.2 323.7 115.2 326.0 114.0 C328.3 112.8 331.3 111.7 334.0 111.0 C336.7 110.3 340.2 109.5 342.0 110.0 C343.8 110.5 345.3 112.8 345.0 114.0 C344.7 115.2 342.5 116.8 340.0 117.5 C337.5 118.2 333.3 118.4 330.0 118.5 C326.7 118.6 320.7 118.8 320.0 118.0 Z"/>
<path fill="#e1ffff" d="M387.0 70.0 C387.5 68.7 390.7 67.2 393.0 66.0 C395.3 64.8 398.2 63.5 401.0 62.5 C403.8 61.5 407.2 60.6 410.0 60.0 C412.8 59.4 415.3 59.2 418.0 59.0 C420.7 58.8 423.2 58.7 426.0 58.5 C428.8 58.3 431.8 58.2 435.0 58.0 C438.2 57.8 441.7 57.7 445.0 57.5 C448.3 57.3 451.7 57.2 455.0 57.0 C458.3 56.8 461.7 56.8 465.0 56.0 C468.3 55.2 471.7 52.7 475.0 52.0 C478.3 51.3 481.7 52.2 485.0 52.0 C488.3 51.8 492.2 51.7 495.0 51.0 C497.8 50.3 500.8 49.2 502.0 48.0 C503.2 46.8 502.3 46.3 502.5 44.0 C502.7 41.7 502.6 38.0 503.0 34.0 C503.4 30.0 505.5 24.3 505.0 20.0 C504.5 15.7 501.7 12.2 500.0 8.0 C498.3 3.8 456.7 -2.8 495.0 -5.0 C533.3 -7.2 690.8 -12.4 730.0 -5.0 C769.2 2.4 733.8 32.4 730.0 39.5 C726.2 46.6 712.8 38.0 707.0 37.5 C701.2 37.0 699.0 36.2 695.0 36.5 C691.0 36.8 686.7 38.1 683.0 39.0 C679.3 39.9 676.0 41.0 673.0 42.0 C670.0 43.0 667.5 43.8 665.0 45.0 C662.5 46.2 658.0 47.5 658.0 49.0 C658.0 50.5 662.5 52.4 665.0 54.0 C667.5 55.6 672.0 57.5 673.0 58.5 C674.0 59.5 671.8 59.1 671.0 60.0 C670.2 60.9 669.0 62.7 668.0 64.0 C667.0 65.3 666.3 66.7 665.0 68.0 C663.7 69.3 662.0 70.7 660.0 72.0 C658.0 73.3 655.5 74.8 653.0 76.0 C650.5 77.2 648.0 78.2 645.0 79.0 C642.0 79.8 638.3 80.6 635.0 81.0 C631.7 81.4 628.3 81.5 625.0 81.5 C621.7 81.5 618.3 81.2 615.0 81.0 C611.7 80.8 608.3 80.0 605.0 80.0 C601.7 80.0 598.2 80.3 595.0 81.0 C591.8 81.7 587.0 82.8 586.0 84.0 C585.0 85.2 589.2 86.7 589.0 88.0 C588.8 89.3 585.8 90.7 585.0 92.0 C584.2 93.3 583.2 94.8 584.0 96.0 C584.8 97.2 587.7 98.2 590.0 99.0 C592.3 99.8 595.5 100.5 598.0 101.0 C600.5 101.5 602.5 101.5 605.0 102.0 C607.5 102.5 613.0 102.7 613.0 104.0 C613.0 105.3 605.8 108.0 605.0 110.0 C604.2 112.0 606.7 114.0 608.0 116.0 C609.3 118.0 611.2 119.8 613.0 122.0 C614.8 124.2 616.7 126.7 619.0 129.0 C621.3 131.3 624.3 133.7 627.0 136.0 C629.7 138.3 633.0 140.8 635.0 143.0 C637.0 145.2 638.0 146.8 639.0 149.0 C640.0 151.2 640.2 153.7 641.0 156.0 C641.8 158.3 643.2 161.2 644.0 163.0 C644.8 164.8 646.2 165.3 646.0 167.0 C645.8 168.7 644.0 171.3 643.0 173.0 C642.0 174.7 642.2 175.8 640.0 177.0 C637.8 178.2 633.3 179.2 630.0 180.0 C626.7 180.8 623.3 180.9 620.0 181.5 C616.7 182.1 613.3 182.9 610.0 183.5 C606.7 184.1 603.3 184.6 600.0 185.0 C596.7 185.4 593.3 185.7 590.0 186.0 C586.7 186.3 583.2 186.5 580.0 187.0 C576.8 187.5 573.5 188.2 571.0 189.0 C568.5 189.8 566.7 191.0 565.0 191.5 C563.3 192.0 563.0 191.8 561.0 192.0 C559.0 192.2 555.7 193.3 553.0 193.0 C550.3 192.7 547.7 191.2 545.0 190.0 C542.3 188.8 539.5 187.0 537.0 186.0 C534.5 185.0 532.3 184.0 530.0 184.0 C527.7 184.0 525.3 185.5 523.0 186.0 C520.7 186.5 517.0 188.0 516.0 187.0 C515.0 186.0 516.5 182.8 517.0 180.0 C517.5 177.2 518.5 173.3 519.0 170.0 C519.5 166.7 519.7 163.3 520.0 160.0 C520.3 156.7 521.5 152.5 521.0 150.0 C520.5 147.5 517.7 146.6 517.0 145.0 C516.3 143.4 516.7 141.8 517.0 140.3 C517.3 138.9 517.8 137.3 519.0 136.3 C520.2 135.3 522.6 135.1 524.3 134.3 C526.1 133.6 527.9 132.3 529.7 131.7 C531.4 131.0 533.2 131.0 535.0 130.3 C536.8 129.7 538.3 128.7 540.3 127.7 C542.3 126.7 544.8 125.6 547.0 124.3 C549.2 123.1 551.4 121.7 553.7 120.3 C555.9 119.0 558.1 117.8 560.3 116.3 C562.6 114.9 564.9 113.2 567.0 111.7 C569.1 110.2 573.2 108.7 573.0 107.3 C572.8 105.9 568.1 104.1 565.7 103.3 C563.2 102.6 561.2 102.8 558.3 103.0 C555.4 103.2 551.7 103.7 548.3 104.3 C545.0 105.0 541.7 106.1 538.3 107.0 C535.0 107.9 531.3 108.9 528.3 109.7 C525.3 110.4 522.6 110.9 520.3 111.7 C518.1 112.4 517.0 113.2 515.0 114.3 C513.0 115.4 510.6 117.0 508.3 118.3 C506.1 119.7 503.9 121.2 501.7 122.3 C499.4 123.4 496.9 124.4 495.0 125.0 C493.1 125.6 491.9 125.2 490.0 126.0 C488.1 126.8 485.3 128.7 483.3 130.0 C481.3 131.3 479.7 132.7 478.0 134.0 C476.3 135.3 474.7 136.7 473.3 138.0 C472.0 139.3 470.7 140.7 470.0 142.0 C469.3 143.3 469.8 144.7 469.3 146.0 C468.9 147.3 468.3 148.9 467.3 150.0 C466.3 151.1 464.7 151.7 463.3 152.7 C462.0 153.7 460.2 154.7 459.3 156.0 C458.4 157.3 458.8 159.3 458.0 160.7 C457.2 162.0 456.0 163.0 454.7 164.0 C453.3 165.0 451.7 165.9 450.0 166.7 C448.3 167.4 446.4 168.1 444.7 168.7 C442.9 169.2 441.1 169.7 439.3 170.0 C437.6 170.3 435.6 170.3 434.0 170.3 C432.4 170.3 432.3 170.7 430.0 170.0 C427.7 169.3 423.0 166.7 420.0 166.0 C417.0 165.3 414.3 165.7 412.0 166.0 C409.7 166.3 407.8 167.2 406.0 168.0 C404.2 168.8 402.8 170.2 401.0 171.0 C399.2 171.8 397.2 172.7 395.0 173.0 C392.8 173.3 390.2 172.8 388.0 173.0 C385.8 173.2 383.3 173.2 382.0 174.0 C380.7 174.8 380.5 176.5 380.0 178.0 C379.5 179.5 379.5 181.3 379.0 183.0 C378.5 184.7 378.0 186.7 377.0 188.0 C376.0 189.3 374.5 190.3 373.0 191.0 C371.5 191.7 369.7 192.7 368.0 192.0 C366.3 191.3 364.7 188.7 363.0 187.0 C361.3 185.3 359.7 183.5 358.0 182.0 C356.3 180.5 354.2 179.7 353.0 178.0 C351.8 176.3 351.7 174.0 351.0 172.0 C350.3 170.0 349.8 167.8 349.0 166.0 C348.2 164.2 347.0 162.8 346.0 161.0 C345.0 159.2 342.7 156.2 343.0 155.5 C343.3 154.8 346.0 156.6 348.0 157.0 C350.0 157.4 352.7 157.7 355.0 158.0 C357.3 158.3 359.8 158.5 362.0 159.0 C364.2 159.5 366.2 160.2 368.0 161.0 C369.8 161.8 371.5 162.8 373.0 163.5 C374.5 164.2 376.0 165.6 377.0 165.0 C378.0 164.4 378.8 162.0 379.0 160.0 C379.2 158.0 378.3 155.2 378.0 153.0 C377.7 150.8 376.8 149.0 377.0 147.0 C377.2 145.0 378.0 142.5 379.0 141.0 C380.0 139.5 381.3 138.8 383.0 138.0 C384.7 137.2 387.0 136.7 389.0 136.0 C391.0 135.3 392.8 134.7 395.0 134.0 C397.2 133.3 399.5 132.8 402.0 132.0 C404.5 131.2 407.3 129.8 410.0 129.0 C412.7 128.2 415.3 127.7 418.0 127.0 C420.7 126.3 424.0 126.0 426.0 125.0 C428.0 124.0 428.7 122.3 430.0 121.0 C431.3 119.7 432.8 118.3 434.0 117.0 C435.2 115.7 436.2 114.2 437.0 113.0 C437.8 111.8 438.5 111.2 439.0 110.0 C439.5 108.8 440.2 107.7 440.0 106.0 C439.8 104.3 438.7 101.8 438.0 100.0 C437.3 98.2 436.8 96.7 436.0 95.0 C435.2 93.3 434.3 91.3 433.0 90.0 C431.7 88.7 429.7 88.2 428.0 87.0 C426.3 85.8 424.7 84.0 423.0 83.0 C421.3 82.0 419.8 81.4 418.0 81.0 C416.2 80.6 414.0 80.7 412.0 80.5 C410.0 80.3 408.0 80.2 406.0 80.0 C404.0 79.8 401.8 79.5 400.0 79.0 C398.2 78.5 396.7 77.8 395.0 77.0 C393.3 76.2 391.3 75.2 390.0 74.0 C388.7 72.8 386.5 71.3 387.0 70.0 Z"/>
<path fill="#e1ffff" d="M495.0 -5.0 L515.0 4.0 L535.0 7.5 L550.0 10.8 L560.0 12.5 L568.0 15.0 L575.0 19.0 L582.0 22.0 L591.0 23.5 L603.0 24.0 L613.0 25.5 L623.0 28.0 L630.0 31.0 L635.0 35.0 L638.0 39.0 L658.0 49.0 L665.0 45.0 L673.0 42.0 L683.0 39.0 L695.0 36.5 L707.0 37.5 L725.0 39.5 L725.0 -5.0 Z"/>
<path fill="#ffffff" d="M503.0 34.0 C503.3 35.5 505.0 30.2 507.0 29.0 C509.0 27.8 511.7 27.0 515.0 26.5 C518.3 26.0 522.8 25.9 527.0 25.8 C531.2 25.8 535.7 25.9 540.0 26.2 C544.3 26.5 549.5 26.9 553.0 27.5 C556.5 28.1 558.0 29.2 561.0 30.0 C564.0 30.8 567.3 31.3 571.0 32.0 C574.7 32.7 579.0 33.0 583.0 34.0 C587.0 35.0 591.3 36.7 595.0 38.0 C598.7 39.3 602.0 40.8 605.0 42.0 C608.0 43.2 610.3 44.6 613.0 45.5 C615.7 46.4 618.7 47.2 621.0 47.5 C623.3 47.8 625.0 47.6 627.0 47.0 C629.0 46.4 631.2 45.3 633.0 44.0 C634.8 42.7 637.7 40.5 638.0 39.0 C638.3 37.5 636.3 36.3 635.0 35.0 C633.7 33.7 632.0 32.2 630.0 31.0 C628.0 29.8 625.8 28.9 623.0 28.0 C620.2 27.1 616.3 26.2 613.0 25.5 C609.7 24.8 606.7 24.3 603.0 24.0 C599.3 23.7 594.5 23.8 591.0 23.5 C587.5 23.2 584.7 22.8 582.0 22.0 C579.3 21.2 577.3 20.2 575.0 19.0 C572.7 17.8 570.5 16.1 568.0 15.0 C565.5 13.9 563.0 13.2 560.0 12.5 C557.0 11.8 554.2 11.6 550.0 10.8 C545.8 10.0 540.8 8.6 535.0 7.5 C529.2 6.4 519.7 4.8 515.0 4.0 C510.3 3.2 508.7 0.3 507.0 3.0 C505.3 5.7 505.7 14.8 505.0 20.0 C504.3 25.2 502.7 32.5 503.0 34.0 Z"/>
<path fill="#e1ffff" d="M662.0 177.5 C660.2 176.0 662.7 170.8 664.0 168.0 C665.3 165.2 667.3 162.8 670.0 161.0 C672.7 159.2 676.7 158.3 680.0 157.5 C683.3 156.7 687.2 156.6 690.0 156.0 C692.8 155.4 694.8 155.0 697.0 154.0 C699.2 153.0 701.0 151.5 703.0 150.0 C705.0 148.5 707.2 146.7 709.0 145.0 C710.8 143.3 712.2 141.2 714.0 140.0 C715.8 138.8 718.2 138.3 720.0 138.0 C721.8 137.7 724.2 133.7 725.0 138.0 C725.8 142.3 726.7 159.6 725.0 164.0 C723.3 168.4 718.0 164.2 715.0 164.5 C712.0 164.8 709.7 165.5 707.0 166.0 C704.3 166.5 701.7 166.8 699.0 167.5 C696.3 168.2 693.7 168.9 691.0 170.0 C688.3 171.1 685.7 172.8 683.0 174.0 C680.3 175.2 678.5 176.4 675.0 177.0 C671.5 177.6 663.8 179.0 662.0 177.5 Z"/>
<path fill="#96d2fa" d="M639.0 -2.0 L703.0 -2.0 L703.0 1.2 L639.0 1.2 Z"/>
<path fill="#96d2fa" d="M567.0 39.5 L573.0 37.0 L581.0 37.5 L588.0 40.0 L594.0 44.0 L600.0 49.0 L599.0 59.5 L584.0 59.8 L583.0 49.0 L577.0 44.0 L571.0 41.0 Z"/>
<path fill="#96d2fa" d="M404.0 69.0 C404.3 67.8 407.7 66.7 410.0 66.0 C412.3 65.3 415.3 65.0 418.0 65.0 C420.7 65.0 423.2 66.0 426.0 66.0 C428.8 66.0 431.8 65.3 435.0 65.0 C438.2 64.7 441.7 64.0 445.0 64.0 C448.3 64.0 451.7 65.0 455.0 65.0 C458.3 65.0 461.7 64.2 465.0 64.0 C468.3 63.8 470.8 64.1 475.0 64.0 C479.2 63.9 485.0 63.7 490.0 63.5 C495.0 63.3 500.5 63.0 505.0 63.0 C509.5 63.0 514.0 62.8 517.0 63.5 C520.0 64.2 521.3 65.6 523.0 67.0 C524.7 68.4 525.8 70.2 527.0 72.0 C528.2 73.8 528.3 76.7 530.0 78.0 C531.7 79.3 534.5 79.5 537.0 80.0 C539.5 80.5 542.7 80.3 545.0 81.0 C547.3 81.7 549.2 82.8 551.0 84.0 C552.8 85.2 554.5 86.5 556.0 88.0 C557.5 89.5 558.7 91.6 560.0 93.0 C561.3 94.4 564.8 95.7 564.0 96.5 C563.2 97.3 558.2 97.4 555.0 98.0 C551.8 98.6 548.0 99.5 545.0 100.0 C542.0 100.5 539.7 100.5 537.0 101.0 C534.3 101.5 531.3 102.2 529.0 103.0 C526.7 103.8 525.0 104.8 523.0 106.0 C521.0 107.2 519.6 109.3 517.0 110.0 C514.4 110.7 510.1 109.3 507.3 110.0 C504.6 110.7 502.9 112.7 500.7 114.0 C498.4 115.3 496.2 116.7 494.0 118.0 C491.8 119.3 489.4 120.7 487.3 122.0 C485.2 123.3 483.2 124.7 481.3 126.0 C479.4 127.3 477.7 128.6 476.0 130.0 C474.3 131.4 472.7 133.1 471.3 134.7 C470.0 136.2 468.7 137.7 468.0 139.3 C467.3 141.0 467.9 143.2 467.3 144.7 C466.8 146.1 465.9 147.4 464.7 148.0 C463.4 148.6 461.9 148.5 460.0 148.5 C458.1 148.5 455.5 148.3 453.0 148.0 C450.5 147.7 447.8 147.3 445.0 147.0 C442.2 146.7 438.8 146.0 436.0 146.0 C433.2 146.0 430.7 146.3 428.0 147.0 C425.3 147.7 422.5 149.0 420.0 150.0 C417.5 151.0 415.3 152.0 413.0 153.0 C410.7 154.0 408.2 154.8 406.0 156.0 C403.8 157.2 401.7 158.5 400.0 160.0 C398.3 161.5 397.3 164.0 396.0 165.0 C394.7 166.0 392.7 167.2 392.0 166.0 C391.3 164.8 392.7 160.2 392.0 158.0 C391.3 155.8 389.2 154.7 388.0 153.0 C386.8 151.3 385.0 149.7 384.5 148.0 C384.0 146.3 384.1 144.5 385.0 143.0 C385.9 141.5 387.8 140.1 390.0 139.0 C392.2 137.9 395.3 137.2 398.0 136.5 C400.7 135.8 403.3 135.4 406.0 135.0 C408.7 134.6 411.3 134.3 414.0 134.0 C416.7 133.7 419.5 133.7 422.0 133.0 C424.5 132.3 426.8 131.2 429.0 130.0 C431.2 128.8 433.0 127.3 435.0 126.0 C437.0 124.7 439.2 123.3 441.0 122.0 C442.8 120.7 444.7 119.3 446.0 118.0 C447.3 116.7 448.3 115.3 449.0 114.0 C449.7 112.7 449.5 111.0 450.0 110.0 C450.5 109.0 451.3 109.3 452.0 108.0 C452.7 106.7 453.5 104.0 454.0 102.0 C454.5 100.0 455.3 98.0 455.0 96.0 C454.7 94.0 453.3 91.8 452.0 90.0 C450.7 88.2 449.0 86.3 447.0 85.0 C445.0 83.7 442.3 83.0 440.0 82.0 C437.7 81.0 435.3 79.2 433.0 79.0 C430.7 78.8 428.3 80.8 426.0 81.0 C423.7 81.2 421.2 80.7 419.0 80.0 C416.8 79.3 414.8 78.2 413.0 77.0 C411.2 75.8 409.5 74.3 408.0 73.0 C406.5 71.7 403.7 70.2 404.0 69.0 Z"/>
<path fill="#2882f0" d="M465.0 99.0 C464.8 99.0 467.5 96.3 469.0 95.0 C470.5 93.7 472.2 92.2 474.0 91.0 C475.8 89.8 477.3 88.8 480.0 88.0 C482.7 87.2 486.7 86.2 490.0 86.0 C493.3 85.8 497.3 86.3 500.0 87.0 C502.7 87.7 504.7 88.5 506.0 90.0 C507.3 91.5 507.7 93.5 508.0 96.0 C508.3 98.5 508.8 102.8 508.0 105.0 C507.2 107.2 505.2 107.7 503.0 109.0 C500.8 110.3 495.6 112.6 495.0 113.0 C494.4 113.4 499.5 110.9 499.3 111.3 C499.2 111.7 495.8 114.0 494.0 115.3 C492.2 116.7 490.4 118.0 488.7 119.3 C486.9 120.7 485.1 122.0 483.3 123.3 C481.6 124.7 479.8 126.0 478.0 127.3 C476.2 128.7 474.3 130.0 472.7 131.3 C471.0 132.7 469.6 134.1 468.0 135.3 C466.4 136.6 465.0 137.7 463.3 138.7 C461.7 139.7 459.9 141.0 458.0 141.3 C456.1 141.7 453.8 141.2 452.0 140.7 C450.2 140.1 448.6 139.0 447.3 138.0 C446.1 137.0 444.7 136.0 444.3 134.7 C444.0 133.3 444.8 131.6 445.3 130.0 C445.8 128.4 446.6 126.9 447.3 125.3 C448.1 123.8 449.1 122.2 450.0 120.7 C450.9 119.1 451.8 117.4 452.7 116.0 C453.6 114.6 455.3 112.0 455.3 112.0 C455.4 112.0 452.9 116.3 453.0 116.0 C453.1 115.7 454.8 112.0 456.0 110.0 C457.2 108.0 458.5 105.8 460.0 104.0 C461.5 102.2 463.3 100.5 465.0 99.0 C466.7 97.5 470.0 95.0 470.0 95.0 C470.0 95.0 465.2 99.0 465.0 99.0 Z"/>
<path fill="#1464d2" d="M456.7 126.0 C456.9 124.9 458.2 123.8 459.3 122.7 C460.4 121.6 461.9 120.2 463.3 119.3 C464.8 118.4 466.3 117.8 468.0 117.3 C469.7 116.9 472.1 116.6 473.3 116.7 C474.6 116.8 475.4 117.1 475.3 118.0 C475.2 118.9 473.6 120.7 472.7 122.0 C471.8 123.3 471.1 124.8 470.0 126.0 C468.9 127.2 467.4 128.6 466.0 129.3 C464.6 130.1 462.7 130.7 461.3 130.7 C460.0 130.7 458.8 130.1 458.0 129.3 C457.2 128.6 456.4 127.1 456.7 126.0 Z"/>
<path fill="#1464d2" d="M461.0 120.0 C461.7 118.2 463.5 118.5 465.0 118.0 C466.5 117.5 468.3 117.0 470.0 117.0 C471.7 117.0 474.8 117.0 475.0 118.0 C475.2 119.0 472.3 121.5 471.0 123.0 C469.7 124.5 468.7 126.0 467.0 127.0 C465.3 128.0 462.0 130.2 461.0 129.0 C460.0 127.8 460.3 121.8 461.0 120.0 Z"/>
<path fill="#96d2fa" d="M524.0 177.0 C522.8 175.3 524.5 171.2 524.5 168.0 C524.5 164.8 524.2 161.3 524.0 158.0 C523.8 154.7 523.3 151.0 523.5 148.0 C523.7 145.0 523.8 142.2 525.0 140.0 C526.2 137.8 528.7 136.7 531.0 135.0 C533.3 133.3 536.2 131.5 539.0 130.0 C541.8 128.5 545.0 127.3 548.0 126.0 C551.0 124.7 554.0 123.2 557.0 122.0 C560.0 120.8 563.0 119.5 566.0 118.5 C569.0 117.5 572.2 116.7 575.0 116.0 C577.8 115.3 580.5 114.8 583.0 114.5 C585.5 114.2 587.7 113.8 590.0 114.0 C592.3 114.2 594.7 115.0 597.0 116.0 C599.3 117.0 602.0 118.3 604.0 120.0 C606.0 121.7 607.2 124.0 609.0 126.0 C610.8 128.0 613.2 129.8 615.0 132.0 C616.8 134.2 618.8 136.5 620.0 139.0 C621.2 141.5 622.3 144.5 622.0 147.0 C621.7 149.5 619.7 151.7 618.0 154.0 C616.3 156.3 614.2 158.7 612.0 161.0 C609.8 163.3 607.3 165.8 605.0 168.0 C602.7 170.2 600.5 172.5 598.0 174.0 C595.5 175.5 592.8 176.2 590.0 177.0 C587.2 177.8 584.2 178.5 581.0 179.0 C577.8 179.5 574.3 179.8 571.0 180.0 C567.7 180.2 564.3 180.7 561.0 180.5 C557.7 180.3 554.3 179.4 551.0 179.0 C547.7 178.6 544.2 178.2 541.0 178.0 C537.8 177.8 534.8 178.2 532.0 178.0 C529.2 177.8 525.2 178.7 524.0 177.0 Z"/>
<path fill="#2882f0" d="M531.0 168.0 C529.6 166.3 531.7 162.0 531.5 159.0 C531.3 156.0 530.4 152.5 530.0 150.0 C529.6 147.5 528.5 145.8 529.0 144.0 C529.5 142.2 531.2 140.5 533.0 139.0 C534.8 137.5 537.5 136.3 540.0 135.0 C542.5 133.7 545.3 132.3 548.0 131.0 C550.7 129.7 553.2 128.3 556.0 127.0 C558.8 125.7 562.0 124.2 565.0 123.0 C568.0 121.8 571.2 120.6 574.0 119.5 C576.8 118.4 579.5 117.2 582.0 116.5 C584.5 115.8 586.8 114.8 589.0 115.0 C591.2 115.2 593.0 116.3 595.0 117.5 C597.0 118.7 599.0 120.2 601.0 122.0 C603.0 123.8 605.2 126.0 607.0 128.0 C608.8 130.0 610.8 132.2 612.0 134.0 C613.2 135.8 614.3 137.0 614.0 139.0 C613.7 141.0 611.7 143.7 610.0 146.0 C608.3 148.3 606.2 150.7 604.0 153.0 C601.8 155.3 599.5 157.8 597.0 160.0 C594.5 162.2 591.8 164.5 589.0 166.0 C586.2 167.5 583.2 168.2 580.0 169.0 C576.8 169.8 573.3 170.3 570.0 170.5 C566.7 170.7 563.3 170.2 560.0 170.0 C556.7 169.8 553.3 169.2 550.0 169.0 C546.7 168.8 543.2 169.2 540.0 169.0 C536.8 168.8 532.4 169.7 531.0 168.0 Z"/>
<path fill="#1464d2" d="M540.0 150.0 C539.7 148.5 543.0 146.0 545.0 144.0 C547.0 142.0 549.5 139.8 552.0 138.0 C554.5 136.2 557.3 134.7 560.0 133.0 C562.7 131.3 565.3 129.5 568.0 128.0 C570.7 126.5 573.2 125.0 576.0 124.0 C578.8 123.0 582.2 122.2 585.0 122.0 C587.8 121.8 590.7 121.8 593.0 122.5 C595.3 123.2 597.2 124.6 599.0 126.0 C600.8 127.4 602.7 129.2 604.0 131.0 C605.3 132.8 607.0 135.0 607.0 137.0 C607.0 139.0 605.5 141.0 604.0 143.0 C602.5 145.0 600.2 147.3 598.0 149.0 C595.8 150.7 593.5 152.0 591.0 153.0 C588.5 154.0 585.8 154.7 583.0 155.0 C580.2 155.3 577.0 155.2 574.0 155.0 C571.0 154.8 568.2 154.2 565.0 154.0 C561.8 153.8 558.0 154.2 555.0 154.0 C552.0 153.8 549.5 153.7 547.0 153.0 C544.5 152.3 540.3 151.5 540.0 150.0 Z"/>
<path fill="#fffaaa" d="M-2.0 49.0 C0.3 21.8 8.3 47.0 12.0 47.0 C15.7 47.0 16.8 48.3 20.0 49.0 C23.2 49.7 28.5 50.1 31.0 51.0 C33.5 51.9 32.2 53.8 35.0 54.5 C37.8 55.2 43.2 55.2 48.0 55.5 C52.8 55.8 61.0 55.9 64.0 56.5 C67.0 57.1 66.0 58.2 66.0 59.0 C66.0 59.8 63.7 60.0 64.0 61.0 C64.3 62.0 67.0 63.7 68.0 65.0 C69.0 66.3 70.3 67.8 70.0 69.0 C69.7 70.2 67.7 71.0 66.0 72.0 C64.3 73.0 62.0 73.8 60.0 75.0 C58.0 76.2 56.0 77.8 54.0 79.0 C52.0 80.2 50.3 81.0 48.0 82.0 C45.7 83.0 42.5 84.2 40.0 85.0 C37.5 85.8 35.0 86.2 33.0 87.0 C31.0 87.8 29.2 88.7 28.0 90.0 C26.8 91.3 26.2 93.5 26.0 95.0 C25.8 96.5 26.3 98.2 27.0 99.0 C27.7 99.8 27.8 99.3 30.0 100.0 C32.2 100.7 37.2 102.0 40.0 103.0 C42.8 104.0 45.3 104.8 47.0 106.0 C48.7 107.2 49.3 108.0 50.0 110.0 C50.7 112.0 50.5 115.2 51.0 118.0 C51.5 120.8 52.5 124.2 53.0 127.0 C53.5 129.8 53.2 132.7 54.0 135.0 C54.8 137.3 56.3 139.2 58.0 141.0 C59.7 142.8 61.8 144.3 64.0 146.0 C66.2 147.7 68.7 149.5 71.0 151.0 C73.3 152.5 76.2 154.0 78.0 155.0 C79.8 156.0 82.0 156.2 82.0 157.0 C82.0 157.8 79.7 158.8 78.0 160.0 C76.3 161.2 74.0 162.5 72.0 164.0 C70.0 165.5 68.0 167.3 66.0 169.0 C64.0 170.7 62.2 172.3 60.0 174.0 C57.8 175.7 55.3 177.5 53.0 179.0 C50.7 180.5 48.3 181.7 46.0 183.0 C43.7 184.3 41.3 185.7 39.0 187.0 C36.7 188.3 34.3 189.7 32.0 191.0 C29.7 192.3 27.3 193.7 25.0 195.0 C22.7 196.3 20.3 197.7 18.0 199.0 C15.7 200.3 13.2 201.8 11.0 203.0 C8.8 204.2 7.2 205.3 5.0 206.5 C2.8 207.7 -0.8 236.2 -2.0 210.0 C-3.2 183.8 -4.3 76.2 -2.0 49.0 Z"/>
<path fill="#ffffff" d="M-2.0 166.0 C-1.0 160.8 2.5 166.0 4.0 167.0 C5.5 168.0 6.4 170.2 7.0 172.0 C7.6 173.8 7.7 175.8 7.5 178.0 C7.3 180.2 6.6 182.8 6.0 185.0 C5.4 187.2 4.7 189.2 4.0 191.0 C3.3 192.8 3.0 194.8 2.0 196.0 C1.0 197.2 -1.3 203.0 -2.0 198.0 C-2.7 193.0 -3.0 171.2 -2.0 166.0 Z"/>
<path fill="#fffaaa" d="M110.0 78.0 C109.8 76.2 111.0 73.8 112.0 72.0 C113.0 70.2 114.3 68.5 116.0 67.0 C117.7 65.5 120.0 64.2 122.0 63.0 C124.0 61.8 126.0 61.0 128.0 60.0 C130.0 59.0 132.0 58.0 134.0 57.0 C136.0 56.0 138.2 55.2 140.0 54.0 C141.8 52.8 144.0 51.7 145.0 50.0 C146.0 48.3 145.7 45.8 146.0 44.0 C146.3 42.2 145.8 40.3 147.0 39.0 C148.2 37.7 150.8 37.0 153.0 36.0 C155.2 35.0 158.3 33.8 160.0 33.0 C161.7 32.2 161.0 31.8 163.0 31.0 C165.0 30.2 168.3 29.2 172.0 28.5 C175.7 27.8 180.3 27.2 185.0 26.5 C189.7 25.8 194.2 25.1 200.0 24.5 C205.8 23.9 213.3 23.3 220.0 23.0 C226.7 22.7 233.3 22.6 240.0 22.5 C246.7 22.4 253.3 22.7 260.0 22.5 C266.7 22.3 275.0 21.9 280.0 21.5 C285.0 21.1 286.7 20.8 290.0 20.0 C293.3 19.2 296.7 18.0 300.0 17.0 C303.3 16.0 306.7 15.0 310.0 14.0 C313.3 13.0 318.3 12.0 320.0 11.0 C321.7 10.0 318.0 8.8 320.0 8.0 C322.0 7.2 327.8 7.0 332.0 6.5 C336.2 6.0 340.5 5.6 345.0 5.2 C349.5 4.8 354.3 4.5 359.0 4.2 C363.7 3.9 368.3 3.7 373.0 3.5 C377.7 3.3 382.3 3.0 387.0 3.0 C391.7 3.0 396.3 3.1 401.0 3.2 C405.7 3.3 410.3 3.5 415.0 3.8 C419.7 4.1 424.3 4.4 429.0 4.8 C433.7 5.2 438.8 5.6 443.0 6.2 C447.2 6.8 449.0 8.0 454.0 8.5 C459.0 9.0 469.5 7.9 473.0 9.0 C476.5 10.1 474.8 12.7 475.0 15.0 C475.2 17.3 474.5 20.5 474.0 23.0 C473.5 25.5 472.8 27.8 472.0 30.0 C471.2 32.2 470.2 34.6 469.0 36.0 C467.8 37.4 466.5 37.8 465.0 38.5 C463.5 39.2 462.0 39.4 460.0 40.0 C458.0 40.6 455.5 41.3 453.0 42.0 C450.5 42.7 447.7 43.2 445.0 44.0 C442.3 44.8 439.5 45.8 437.0 46.5 C434.5 47.2 432.2 47.8 430.0 48.5 C427.8 49.2 425.7 50.1 424.0 51.0 C422.3 51.9 421.8 53.0 420.0 54.0 C418.2 55.0 415.5 56.2 413.0 57.0 C410.5 57.8 407.7 58.3 405.0 59.0 C402.3 59.7 399.5 60.4 397.0 61.0 C394.5 61.6 392.8 61.8 390.0 62.5 C387.2 63.2 383.0 64.2 380.0 65.0 C377.0 65.8 374.7 66.5 372.0 67.0 C369.3 67.5 366.7 67.7 364.0 68.0 C361.3 68.3 359.0 68.8 356.0 69.0 C353.0 69.2 349.3 69.0 346.0 69.0 C342.7 69.0 339.3 68.8 336.0 69.0 C332.7 69.2 329.0 69.5 326.0 70.0 C323.0 70.5 320.2 71.0 318.0 72.0 C315.8 73.0 314.3 74.7 313.0 76.0 C311.7 77.3 310.3 79.3 310.0 80.0 C309.7 80.7 312.2 79.5 311.0 80.0 C309.8 80.5 305.7 82.0 303.0 83.0 C300.3 84.0 297.7 85.2 295.0 86.0 C292.3 86.8 287.3 87.0 287.0 88.0 C286.7 89.0 291.2 90.7 293.0 92.0 C294.8 93.3 297.3 94.5 298.0 96.0 C298.7 97.5 297.7 99.3 297.0 101.0 C296.3 102.7 294.3 104.2 294.0 106.0 C293.7 107.8 295.0 109.7 295.0 112.0 C295.0 114.3 294.3 117.7 294.0 120.0 C293.7 122.3 293.5 123.5 293.0 126.0 C292.5 128.5 292.2 132.5 291.0 135.0 C289.8 137.5 288.0 139.3 286.0 141.0 C284.0 142.7 281.5 143.9 279.0 145.0 C276.5 146.1 273.5 147.8 271.0 147.5 C268.5 147.2 266.0 144.4 264.0 143.0 C262.0 141.6 260.5 140.5 259.0 139.0 C257.5 137.5 256.5 135.7 255.0 134.0 C253.5 132.3 251.7 130.5 250.0 129.0 C248.3 127.5 246.8 125.8 245.0 125.0 C243.2 124.2 241.0 124.0 239.0 124.0 C237.0 124.0 234.7 124.0 233.0 125.0 C231.3 126.0 230.3 127.8 229.0 130.0 C227.7 132.2 226.7 135.3 225.0 138.0 C223.3 140.7 221.2 143.2 219.0 146.0 C216.8 148.8 214.3 152.0 212.0 155.0 C209.7 158.0 207.3 161.2 205.0 164.0 C202.7 166.8 200.3 169.3 198.0 172.0 C195.7 174.7 193.3 177.7 191.0 180.0 C188.7 182.3 186.3 184.2 184.0 186.0 C181.7 187.8 179.2 189.5 177.0 191.0 C174.8 192.5 173.3 194.2 171.0 195.0 C168.7 195.8 165.7 196.0 163.0 195.5 C160.3 195.0 156.5 192.9 155.0 192.0 C153.5 191.1 154.8 191.3 154.0 190.0 C153.2 188.7 151.2 186.2 150.0 184.0 C148.8 181.8 147.5 179.3 147.0 177.0 C146.5 174.7 146.8 172.5 147.0 170.0 C147.2 167.5 147.7 164.8 148.0 162.0 C148.3 159.2 148.8 155.8 149.0 153.0 C149.2 150.2 149.3 147.3 149.0 145.0 C148.7 142.7 148.2 140.7 147.0 139.0 C145.8 137.3 144.0 136.3 142.0 135.0 C140.0 133.7 137.2 132.5 135.0 131.0 C132.8 129.5 130.7 128.0 129.0 126.0 C127.3 124.0 126.0 121.2 125.0 119.0 C124.0 116.8 122.7 112.7 123.0 113.0 C123.3 113.3 126.7 120.5 127.0 121.0 C127.3 121.5 125.5 117.8 125.0 116.0 C124.5 114.2 123.8 111.8 124.0 110.0 C124.2 108.2 125.0 106.5 126.0 105.0 C127.0 103.5 128.5 102.2 130.0 101.0 C131.5 99.8 134.5 98.8 135.0 98.0 C135.5 97.2 134.0 96.8 133.0 96.0 C132.0 95.2 130.5 94.0 129.0 93.0 C127.5 92.0 125.8 91.0 124.0 90.0 C122.2 89.0 119.8 88.2 118.0 87.0 C116.2 85.8 114.3 84.5 113.0 83.0 C111.7 81.5 110.2 79.8 110.0 78.0 Z"/>
<path fill="#ffffff" d="M157.0 90.0 C157.7 88.3 159.3 85.8 161.0 84.0 C162.7 82.2 165.2 80.3 167.0 79.0 C168.8 77.7 169.8 76.8 172.0 76.0 C174.2 75.2 177.2 74.5 180.0 74.0 C182.8 73.5 186.2 73.1 189.0 73.0 C191.8 72.9 194.5 73.2 197.0 73.5 C199.5 73.8 202.0 73.6 204.0 74.5 C206.0 75.4 207.5 77.4 209.0 79.0 C210.5 80.6 211.7 82.3 213.0 84.0 C214.3 85.7 216.2 87.3 217.0 89.0 C217.8 90.7 217.8 92.3 217.5 94.0 C217.2 95.7 216.1 97.5 215.0 99.0 C213.9 100.5 212.5 101.8 211.0 103.0 C209.5 104.2 207.2 105.0 206.0 106.0 C204.8 107.0 205.2 109.0 204.0 109.0 C202.8 109.0 200.8 106.8 199.0 106.0 C197.2 105.2 195.3 104.8 193.0 104.0 C190.7 103.2 187.7 101.8 185.0 101.0 C182.3 100.2 179.7 99.5 177.0 99.0 C174.3 98.5 171.5 98.5 169.0 98.0 C166.5 97.5 164.0 96.7 162.0 96.0 C160.0 95.3 157.8 95.0 157.0 94.0 C156.2 93.0 156.3 91.7 157.0 90.0 Z"/>
<path fill="#fffaaa" d="M357.0 100.0 C357.2 98.0 358.0 96.0 359.0 94.0 C360.0 92.0 361.5 89.8 363.0 88.0 C364.5 86.2 366.0 84.2 368.0 83.0 C370.0 81.8 372.2 81.3 375.0 81.0 C377.8 80.7 381.7 80.8 385.0 81.0 C388.3 81.2 391.8 81.3 395.0 82.0 C398.2 82.7 401.2 83.8 404.0 85.0 C406.8 86.2 409.5 87.8 412.0 89.0 C414.5 90.2 416.8 90.8 419.0 92.0 C421.2 93.2 423.5 94.7 425.0 96.0 C426.5 97.3 428.0 98.5 428.0 100.0 C428.0 101.5 426.5 103.5 425.0 105.0 C423.5 106.5 420.5 107.7 419.0 109.0 C417.5 110.3 417.5 111.7 416.0 113.0 C414.5 114.3 412.3 115.7 410.0 117.0 C407.7 118.3 404.7 119.7 402.0 121.0 C399.3 122.3 396.7 123.8 394.0 125.0 C391.3 126.2 388.7 127.0 386.0 128.0 C383.3 129.0 380.7 130.0 378.0 131.0 C375.3 132.0 372.3 133.0 370.0 134.0 C367.7 135.0 365.7 136.0 364.0 137.0 C362.3 138.0 362.0 139.6 360.0 140.0 C358.0 140.4 354.7 139.8 352.0 139.5 C349.3 139.2 346.2 138.8 344.0 138.0 C341.8 137.2 339.7 136.7 339.0 135.0 C338.3 133.3 338.8 129.8 340.0 128.0 C341.2 126.2 343.8 125.2 346.0 124.0 C348.2 122.8 351.2 122.3 353.0 121.0 C354.8 119.7 356.0 117.8 357.0 116.0 C358.0 114.2 358.9 111.7 359.0 110.0 C359.1 108.3 357.8 107.7 357.5 106.0 C357.2 104.3 356.8 102.0 357.0 100.0 Z"/>
<path fill="#fffaaa" d="M480.7 140.0 C481.9 138.4 483.6 137.6 485.3 136.7 C487.1 135.8 489.2 135.1 491.3 134.7 C493.4 134.3 495.9 134.2 498.0 134.3 C500.1 134.5 502.3 134.9 504.0 135.7 C505.7 136.4 507.0 137.4 508.0 138.7 C509.0 139.9 509.6 141.4 510.0 143.3 C510.4 145.2 510.7 147.8 510.7 150.0 C510.7 152.2 510.3 154.4 510.0 156.7 C509.7 158.9 509.2 161.1 508.7 163.3 C508.1 165.6 507.4 167.8 506.7 170.0 C505.9 172.2 505.0 174.6 504.0 176.7 C503.0 178.8 501.9 180.8 500.7 182.7 C499.4 184.6 498.0 186.3 496.7 188.0 C495.3 189.7 493.8 190.3 492.7 192.7 C491.6 195.0 491.6 199.8 490.0 202.0 C488.4 204.2 485.0 205.3 483.0 206.0 C481.0 206.7 480.0 206.5 478.0 206.0 C476.0 205.5 473.3 204.2 471.0 203.0 C468.7 201.8 465.8 200.7 464.0 199.0 C462.2 197.3 460.8 195.2 460.0 193.0 C459.2 190.8 459.1 187.6 459.0 186.0 C458.9 184.4 459.1 184.7 459.3 183.3 C459.6 182.0 459.9 179.8 460.7 178.0 C461.4 176.2 462.8 174.6 464.0 172.7 C465.2 170.8 466.7 168.9 468.0 166.7 C469.3 164.4 470.8 161.7 472.0 159.3 C473.2 157.0 474.3 154.9 475.3 152.7 C476.3 150.4 477.1 148.1 478.0 146.0 C478.9 143.9 479.4 141.6 480.7 140.0 Z"/>
<path fill="#fffaaa" d="M620.0 119.0 C619.8 118.0 619.4 115.0 619.5 113.0 C619.6 111.0 620.0 108.7 620.5 107.0 C621.0 105.3 621.4 104.1 622.5 103.0 C623.6 101.9 625.2 101.2 627.0 100.5 C628.8 99.8 631.0 99.3 633.0 98.5 C635.0 97.7 637.0 96.5 639.0 95.5 C641.0 94.5 643.0 93.5 645.0 92.5 C647.0 91.5 649.0 90.7 651.0 89.5 C653.0 88.3 655.0 86.8 657.0 85.5 C659.0 84.2 660.8 82.8 663.0 81.5 C665.2 80.2 668.0 78.7 670.0 77.5 C672.0 76.3 672.5 75.3 675.0 74.5 C677.5 73.7 681.7 73.0 685.0 72.5 C688.3 72.0 691.7 71.5 695.0 71.2 C698.3 71.0 700.0 70.9 705.0 71.0 C710.0 71.1 721.7 64.3 725.0 71.8 C728.3 79.3 727.0 108.0 725.0 116.0 C723.0 124.0 716.3 118.5 713.0 120.0 C709.7 121.5 708.0 123.5 705.0 125.0 C702.0 126.5 698.3 128.0 695.0 129.0 C691.7 130.0 688.3 130.4 685.0 131.0 C681.7 131.6 678.3 132.1 675.0 132.5 C671.7 132.9 668.3 133.3 665.0 133.5 C661.7 133.7 658.3 133.8 655.0 133.5 C651.7 133.2 648.3 132.4 645.0 131.5 C641.7 130.6 638.0 129.2 635.0 128.0 C632.0 126.8 629.3 125.5 627.0 124.0 C624.7 122.5 622.2 119.8 621.0 119.0 C619.8 118.2 620.2 120.0 620.0 119.0 Z"/>
<path fill="#fffaaa" d="M528.0 116.5 L541.0 116.0 L542.0 118.0 L535.0 119.0 L529.0 118.5 Z"/>
<path fill="#ffc03c" d="M-2.0 55.0 C-0.7 54.1 3.5 55.2 6.0 55.5 C8.5 55.8 10.7 56.4 13.0 57.0 C15.3 57.6 17.5 58.3 20.0 59.0 C22.5 59.7 25.3 60.2 28.0 61.0 C30.7 61.8 33.3 63.1 36.0 64.0 C38.7 64.9 41.5 65.7 44.0 66.5 C46.5 67.3 50.2 67.8 51.0 69.0 C51.8 70.2 49.8 72.3 49.0 74.0 C48.2 75.7 47.5 77.8 46.0 79.0 C44.5 80.2 42.3 80.6 40.0 81.0 C37.7 81.4 34.7 81.8 32.0 81.5 C29.3 81.2 26.7 79.9 24.0 79.0 C21.3 78.1 18.5 77.0 16.0 76.0 C13.5 75.0 10.8 74.2 9.0 73.0 C7.2 71.8 6.2 70.5 5.0 69.0 C3.8 67.5 3.2 65.3 2.0 64.0 C0.8 62.7 -1.3 62.5 -2.0 61.0 C-2.7 59.5 -3.3 55.9 -2.0 55.0 Z"/>
<path fill="#ffc03c" d="M6.0 115.0 C6.4 112.8 6.8 110.7 8.0 109.0 C9.2 107.3 11.0 105.7 13.0 105.0 C15.0 104.3 17.7 104.5 20.0 105.0 C22.3 105.5 24.7 106.8 27.0 108.0 C29.3 109.2 31.5 110.5 34.0 112.0 C36.5 113.5 39.8 115.5 42.0 117.0 C44.2 118.5 45.7 119.3 47.0 121.0 C48.3 122.7 49.3 124.8 50.0 127.0 C50.7 129.2 50.3 131.8 51.0 134.0 C51.7 136.2 52.5 138.2 54.0 140.0 C55.5 141.8 58.0 143.3 60.0 145.0 C62.0 146.7 64.0 148.5 66.0 150.0 C68.0 151.5 70.3 152.9 72.0 154.0 C73.7 155.1 76.0 155.6 76.0 156.5 C76.0 157.4 73.7 158.2 72.0 159.5 C70.3 160.8 68.0 162.4 66.0 164.0 C64.0 165.6 62.0 167.3 60.0 169.0 C58.0 170.7 56.2 172.3 54.0 174.0 C51.8 175.7 49.3 177.5 47.0 179.0 C44.7 180.5 42.3 181.7 40.0 183.0 C37.7 184.3 35.3 185.7 33.0 187.0 C30.7 188.3 28.3 189.7 26.0 191.0 C23.7 192.3 21.3 193.8 19.0 195.0 C16.7 196.2 14.2 197.7 12.0 198.5 C9.8 199.3 7.6 200.1 6.0 200.0 C4.4 199.9 3.0 199.3 2.5 198.0 C2.0 196.7 2.4 194.0 3.0 192.0 C3.6 190.0 5.0 188.0 6.0 186.0 C7.0 184.0 8.2 182.0 9.0 180.0 C9.8 178.0 10.6 176.0 11.0 174.0 C11.4 172.0 11.8 170.0 11.5 168.0 C11.2 166.0 9.9 164.0 9.0 162.0 C8.1 160.0 6.8 158.0 6.0 156.0 C5.2 154.0 4.5 152.0 4.0 150.0 C3.5 148.0 3.0 146.0 3.0 144.0 C3.0 142.0 3.7 140.3 4.0 138.0 C4.3 135.7 4.8 132.7 5.0 130.0 C5.2 127.3 5.3 124.5 5.5 122.0 C5.7 119.5 5.6 117.2 6.0 115.0 Z"/>
<path fill="#ffc03c" d="M119.0 79.0 C118.7 77.8 120.0 75.7 121.0 74.0 C122.0 72.3 123.3 70.5 125.0 69.0 C126.7 67.5 128.8 66.2 131.0 65.0 C133.2 63.8 135.7 62.9 138.0 62.0 C140.3 61.1 142.5 60.2 145.0 59.5 C147.5 58.8 150.5 57.9 153.0 57.5 C155.5 57.1 158.8 57.0 160.0 57.0 C161.2 57.0 158.8 57.0 160.0 57.5 C161.2 58.0 165.0 58.9 167.0 60.0 C169.0 61.1 171.5 62.3 172.0 64.0 C172.5 65.7 171.2 68.3 170.0 70.0 C168.8 71.7 167.0 73.1 165.0 74.0 C163.0 74.9 158.5 75.0 158.0 75.5 C157.5 76.0 162.2 76.4 162.0 77.0 C161.8 77.6 158.5 78.2 157.0 79.0 C155.5 79.8 154.2 80.8 153.0 82.0 C151.8 83.2 151.3 85.1 150.0 86.0 C148.7 86.9 146.7 87.2 145.0 87.5 C143.3 87.8 141.8 88.2 140.0 88.0 C138.2 87.8 136.0 86.8 134.0 86.0 C132.0 85.2 129.8 83.8 128.0 83.0 C126.2 82.2 124.5 81.7 123.0 81.0 C121.5 80.3 119.3 80.2 119.0 79.0 Z"/>
<path fill="#ffc03c" d="M165.0 38.5 C165.8 37.2 169.7 37.1 173.0 36.0 C176.3 34.9 180.7 33.2 185.0 32.0 C189.3 30.8 194.0 29.8 199.0 29.0 C204.0 28.2 209.7 27.5 215.0 27.0 C220.3 26.5 226.0 26.2 231.0 26.0 C236.0 25.8 240.2 25.8 245.0 25.8 C249.8 25.8 255.0 26.1 260.0 26.2 C265.0 26.3 270.7 26.4 275.0 26.5 C279.3 26.6 282.7 27.1 286.0 26.5 C289.3 25.9 292.2 24.2 295.0 23.0 C297.8 21.8 300.3 20.7 303.0 19.5 C305.7 18.3 308.2 17.1 311.0 16.0 C313.8 14.9 318.5 13.9 320.0 13.0 C321.5 12.1 318.0 11.2 320.0 10.5 C322.0 9.8 327.8 9.1 332.0 8.5 C336.2 7.9 340.5 7.3 345.0 6.8 C349.5 6.3 354.3 5.8 359.0 5.5 C363.7 5.2 368.3 4.9 373.0 4.7 C377.7 4.5 382.3 4.3 387.0 4.3 C391.7 4.3 396.3 4.3 401.0 4.5 C405.7 4.7 410.3 4.9 415.0 5.2 C419.7 5.5 424.5 6.0 429.0 6.5 C433.5 7.0 438.2 7.6 442.0 8.5 C445.8 9.4 449.8 10.4 452.0 12.0 C454.2 13.6 454.7 15.8 455.0 18.0 C455.3 20.2 454.8 22.7 454.0 25.0 C453.2 27.3 451.7 29.8 450.0 32.0 C448.3 34.2 446.2 36.2 444.0 38.0 C441.8 39.8 439.3 41.2 437.0 42.5 C434.7 43.8 432.3 44.6 430.0 45.5 C427.7 46.4 425.0 47.1 423.0 48.0 C421.0 48.9 420.2 49.9 418.0 51.0 C415.8 52.1 412.7 53.5 410.0 54.5 C407.3 55.5 404.7 56.2 402.0 57.0 C399.3 57.8 396.7 58.5 394.0 59.0 C391.3 59.5 388.3 59.5 386.0 60.0 C383.7 60.5 382.3 61.3 380.0 62.0 C377.7 62.7 374.7 63.5 372.0 64.0 C369.3 64.5 366.7 64.8 364.0 65.0 C361.3 65.2 358.7 65.5 356.0 65.5 C353.3 65.5 350.7 65.2 348.0 65.0 C345.3 64.8 342.7 64.3 340.0 64.0 C337.3 63.7 334.7 63.3 332.0 63.0 C329.3 62.7 326.7 62.3 324.0 62.0 C321.3 61.7 318.3 61.3 316.0 61.0 C313.7 60.7 311.8 59.2 310.0 60.0 C308.2 60.8 305.7 64.5 305.0 66.0 C304.3 67.5 306.3 67.7 306.0 69.0 C305.7 70.3 304.8 72.7 303.0 74.0 C301.2 75.3 298.0 76.3 295.0 77.0 C292.0 77.7 288.7 77.7 285.0 78.0 C281.3 78.3 274.5 77.7 273.0 79.0 C271.5 80.3 274.7 83.8 276.0 86.0 C277.3 88.2 279.2 90.3 281.0 92.0 C282.8 93.7 285.7 94.3 287.0 96.0 C288.3 97.7 288.5 99.7 289.0 102.0 C289.5 104.3 290.0 107.3 290.0 110.0 C290.0 112.7 289.2 115.8 289.0 118.0 C288.8 120.2 289.2 121.0 289.0 123.0 C288.8 125.0 288.8 128.0 288.0 130.0 C287.2 132.0 285.7 133.5 284.0 135.0 C282.3 136.5 280.2 138.2 278.0 139.0 C275.8 139.8 273.2 140.3 271.0 140.0 C268.8 139.7 266.8 138.2 265.0 137.0 C263.2 135.8 261.7 134.5 260.0 133.0 C258.3 131.5 256.7 129.7 255.0 128.0 C253.3 126.3 251.7 124.5 250.0 123.0 C248.3 121.5 247.2 119.7 245.0 119.0 C242.8 118.3 239.3 118.3 237.0 119.0 C234.7 119.7 232.7 121.3 231.0 123.0 C229.3 124.7 228.5 126.8 227.0 129.0 C225.5 131.2 224.0 133.5 222.0 136.0 C220.0 138.5 217.2 141.3 215.0 144.0 C212.8 146.7 211.2 149.3 209.0 152.0 C206.8 154.7 204.3 157.3 202.0 160.0 C199.7 162.7 197.2 165.5 195.0 168.0 C192.8 170.5 191.0 172.8 189.0 175.0 C187.0 177.2 185.2 179.3 183.0 181.0 C180.8 182.7 178.3 184.3 176.0 185.0 C173.7 185.7 171.3 185.1 169.0 185.0 C166.7 184.9 164.3 184.8 162.0 184.5 C159.7 184.2 156.3 183.2 155.0 183.0 C153.7 182.8 154.7 184.0 154.0 183.0 C153.3 182.0 151.7 179.2 151.0 177.0 C150.3 174.8 150.0 172.5 150.0 170.0 C150.0 167.5 150.7 165.0 151.0 162.0 C151.3 159.0 151.8 155.0 152.0 152.0 C152.2 149.0 152.3 146.3 152.0 144.0 C151.7 141.7 151.2 139.7 150.0 138.0 C148.8 136.3 147.0 135.2 145.0 134.0 C143.0 132.8 140.2 132.2 138.0 131.0 C135.8 129.8 133.7 128.7 132.0 127.0 C130.3 125.3 129.0 123.0 128.0 121.0 C127.0 119.0 126.2 116.0 126.0 115.0 C125.8 114.0 126.7 116.0 127.0 115.0 C127.3 114.0 127.2 110.8 128.0 109.0 C128.8 107.2 130.3 105.3 132.0 104.0 C133.7 102.7 135.8 101.8 138.0 101.0 C140.2 100.2 142.2 99.8 145.0 99.5 C147.8 99.2 151.7 99.1 155.0 99.0 C158.3 98.9 163.3 98.8 165.0 99.0 C166.7 99.2 163.3 99.5 165.0 100.0 C166.7 100.5 171.7 101.2 175.0 102.0 C178.3 102.8 182.0 104.0 185.0 105.0 C188.0 106.0 190.7 107.2 193.0 108.0 C195.3 108.8 197.0 109.8 199.0 110.0 C201.0 110.2 203.0 110.3 205.0 109.5 C207.0 108.7 209.3 106.4 211.0 105.0 C212.7 103.6 213.7 102.5 215.0 101.0 C216.3 99.5 217.3 97.2 219.0 96.0 C220.7 94.8 223.3 94.2 225.0 93.5 C226.7 92.8 228.2 93.2 229.0 92.0 C229.8 90.8 229.6 88.0 229.5 86.0 C229.4 84.0 228.4 82.0 228.5 80.0 C228.6 78.0 229.4 75.8 230.0 74.0 C230.6 72.2 232.5 70.5 232.0 69.0 C231.5 67.5 229.2 66.2 227.0 65.0 C224.8 63.8 222.2 63.0 219.0 62.0 C215.8 61.0 211.7 59.7 208.0 59.0 C204.3 58.3 200.5 58.0 197.0 58.0 C193.5 58.0 189.5 59.2 187.0 59.0 C184.5 58.8 183.7 57.9 182.0 57.0 C180.3 56.1 178.7 54.8 177.0 53.5 C175.3 52.2 173.5 50.6 172.0 49.0 C170.5 47.4 169.2 45.8 168.0 44.0 C166.8 42.2 164.2 39.8 165.0 38.5 Z"/>
<path fill="#ffc03c" d="M360.0 100.0 C360.2 97.7 361.0 95.8 362.0 94.0 C363.0 92.2 364.5 90.5 366.0 89.0 C367.5 87.5 369.0 85.9 371.0 85.0 C373.0 84.1 375.3 83.8 378.0 83.5 C380.7 83.2 384.0 83.2 387.0 83.5 C390.0 83.8 393.2 84.2 396.0 85.0 C398.8 85.8 401.5 87.0 404.0 88.0 C406.5 89.0 408.8 90.0 411.0 91.0 C413.2 92.0 415.0 92.9 417.0 94.0 C419.0 95.1 421.8 96.3 423.0 97.5 C424.2 98.7 424.5 99.8 424.0 101.0 C423.5 102.2 421.7 103.8 420.0 105.0 C418.3 106.2 416.7 106.5 414.0 108.0 C411.3 109.5 407.0 112.3 404.0 114.0 C401.0 115.7 398.7 116.8 396.0 118.0 C393.3 119.2 390.7 120.0 388.0 121.0 C385.3 122.0 382.7 123.0 380.0 124.0 C377.3 125.0 374.3 126.2 372.0 127.0 C369.7 127.8 367.3 129.0 366.0 128.5 C364.7 128.0 364.7 126.1 364.0 124.0 C363.3 121.9 362.5 118.7 362.0 116.0 C361.5 113.3 361.3 110.7 361.0 108.0 C360.7 105.3 359.8 102.3 360.0 100.0 Z"/>
<path fill="#ffc03c" d="M487.3 138.7 C488.9 137.4 490.9 137.0 492.7 136.7 C494.4 136.3 496.3 136.3 498.0 136.7 C499.7 137.0 501.4 137.7 502.7 138.7 C503.9 139.7 504.8 141.0 505.3 142.7 C505.9 144.3 506.0 146.6 506.0 148.7 C506.0 150.8 505.6 153.1 505.3 155.3 C505.1 157.6 505.1 159.8 504.7 162.0 C504.2 164.2 503.4 166.6 502.7 168.7 C501.9 170.8 501.0 172.7 500.0 174.7 C499.0 176.7 497.9 178.8 496.7 180.7 C495.4 182.6 494.0 184.3 492.7 186.0 C491.3 187.7 489.9 189.3 488.7 190.7 C487.4 192.0 486.7 193.1 485.3 194.0 C484.0 194.9 482.3 195.7 480.7 196.0 C479.0 196.3 477.0 196.4 475.3 196.0 C473.7 195.6 471.8 194.3 470.7 193.3 C469.6 192.3 469.3 191.3 468.7 190.0 C468.0 188.7 467.1 187.0 466.7 185.3 C466.2 183.7 465.9 181.8 466.0 180.0 C466.1 178.2 466.7 176.4 467.3 174.7 C468.0 172.9 469.0 171.2 470.0 169.3 C471.0 167.4 472.2 165.4 473.3 163.3 C474.4 161.2 475.6 158.9 476.7 156.7 C477.8 154.4 478.9 152.1 480.0 150.0 C481.1 147.9 482.1 145.9 483.3 144.0 C484.6 142.1 485.8 139.9 487.3 138.7 Z"/>
<path fill="#ffc03c" d="M624.0 117.0 C624.0 116.2 623.8 112.8 624.0 111.0 C624.2 109.2 624.7 107.3 625.5 106.0 C626.3 104.7 627.4 103.9 629.0 103.0 C630.6 102.1 633.0 101.4 635.0 100.5 C637.0 99.6 639.0 98.5 641.0 97.5 C643.0 96.5 645.0 95.6 647.0 94.5 C649.0 93.4 651.0 92.2 653.0 91.0 C655.0 89.8 657.0 88.3 659.0 87.0 C661.0 85.7 663.0 84.2 665.0 83.0 C667.0 81.8 669.0 80.6 671.0 79.5 C673.0 78.4 674.5 77.3 677.0 76.5 C679.5 75.7 683.0 75.0 686.0 74.5 C689.0 74.0 691.8 73.5 695.0 73.2 C698.2 73.0 700.0 72.9 705.0 73.0 C710.0 73.1 721.7 68.7 725.0 74.0 C728.3 79.3 727.3 99.5 725.0 105.0 C722.7 110.5 714.3 105.3 711.0 107.0 C707.7 108.7 706.8 113.0 705.0 115.0 C703.2 117.0 702.0 117.7 700.0 119.0 C698.0 120.3 695.5 121.8 693.0 123.0 C690.5 124.2 687.7 125.7 685.0 126.5 C682.3 127.3 680.0 127.5 677.0 128.0 C674.0 128.5 670.3 129.2 667.0 129.5 C663.7 129.8 660.3 129.8 657.0 129.5 C653.7 129.2 650.2 128.8 647.0 128.0 C643.8 127.2 640.8 126.2 638.0 125.0 C635.2 123.8 632.3 122.5 630.0 121.0 C627.7 119.5 625.0 116.7 624.0 116.0 C623.0 115.3 624.0 117.8 624.0 117.0 Z"/>
<path fill="#ffa000" d="M12.0 68.0 C12.0 67.0 13.5 65.7 15.0 65.0 C16.5 64.3 18.8 63.9 21.0 64.0 C23.2 64.1 25.7 64.8 28.0 65.5 C30.3 66.2 34.2 67.1 35.0 68.5 C35.8 69.9 34.3 72.9 33.0 74.0 C31.7 75.1 29.2 75.2 27.0 75.0 C24.8 74.8 22.0 73.7 20.0 73.0 C18.0 72.3 16.3 71.8 15.0 71.0 C13.7 70.2 12.0 69.0 12.0 68.0 Z"/>
<path fill="#ffa000" d="M11.0 119.0 C11.5 117.0 12.8 115.2 14.0 114.0 C15.2 112.8 16.3 112.2 18.0 112.0 C19.7 111.8 22.0 112.3 24.0 113.0 C26.0 113.7 28.0 114.8 30.0 116.0 C32.0 117.2 34.2 118.7 36.0 120.0 C37.8 121.3 39.8 122.8 41.0 124.0 C42.2 125.2 42.3 125.5 43.0 127.0 C43.7 128.5 44.3 131.0 45.0 133.0 C45.7 135.0 45.8 137.2 47.0 139.0 C48.2 140.8 50.2 142.5 52.0 144.0 C53.8 145.5 56.0 146.7 58.0 148.0 C60.0 149.3 62.0 150.8 64.0 152.0 C66.0 153.2 68.3 154.2 70.0 155.0 C71.7 155.8 74.0 155.8 74.0 156.5 C74.0 157.2 71.7 157.9 70.0 159.0 C68.3 160.1 66.0 161.5 64.0 163.0 C62.0 164.5 60.0 166.3 58.0 168.0 C56.0 169.7 54.2 171.3 52.0 173.0 C49.8 174.7 47.3 176.5 45.0 178.0 C42.7 179.5 40.3 180.7 38.0 182.0 C35.7 183.3 33.2 184.8 31.0 186.0 C28.8 187.2 26.8 188.3 25.0 189.0 C23.2 189.7 21.3 190.2 20.0 190.0 C18.7 189.8 17.3 189.0 17.0 188.0 C16.7 187.0 17.5 185.5 18.0 184.0 C18.5 182.5 19.5 180.7 20.0 179.0 C20.5 177.3 20.8 175.7 21.0 174.0 C21.2 172.3 21.3 170.7 21.0 169.0 C20.7 167.3 19.8 165.8 19.0 164.0 C18.2 162.2 17.0 160.0 16.0 158.0 C15.0 156.0 13.8 154.0 13.0 152.0 C12.2 150.0 11.8 148.0 11.5 146.0 C11.2 144.0 11.0 142.2 11.0 140.0 C11.0 137.8 11.5 135.3 11.5 133.0 C11.5 130.7 11.1 128.3 11.0 126.0 C10.9 123.7 10.5 121.0 11.0 119.0 Z"/>
<path fill="#ffa000" d="M135.0 72.0 C134.5 71.0 135.7 69.2 137.0 68.0 C138.3 66.8 140.8 65.7 143.0 65.0 C145.2 64.3 147.7 64.2 150.0 64.0 C152.3 63.8 155.5 63.7 157.0 63.5 C158.5 63.3 157.8 62.5 159.0 63.0 C160.2 63.5 163.5 65.3 164.0 66.5 C164.5 67.7 163.2 69.0 162.0 70.0 C160.8 71.0 157.7 71.8 157.0 72.5 C156.3 73.2 158.5 73.9 158.0 74.5 C157.5 75.1 155.3 75.6 154.0 76.0 C152.7 76.4 151.5 77.0 150.0 77.0 C148.5 77.0 146.7 76.5 145.0 76.0 C143.3 75.5 141.7 74.7 140.0 74.0 C138.3 73.3 135.5 73.0 135.0 72.0 Z"/>
<path fill="#ffa000" d="M195.0 38.5 C195.3 37.1 197.7 36.5 200.0 35.5 C202.3 34.5 205.8 33.3 209.0 32.5 C212.2 31.7 215.3 31.0 219.0 30.5 C222.7 30.0 226.7 29.7 231.0 29.5 C235.3 29.3 240.3 29.1 245.0 29.2 C249.7 29.3 254.7 29.5 259.0 30.0 C263.3 30.5 267.0 31.3 271.0 32.0 C275.0 32.7 280.2 33.8 283.0 34.0 C285.8 34.2 286.0 33.7 288.0 33.0 C290.0 32.3 292.8 31.2 295.0 30.0 C297.2 28.8 299.0 27.3 301.0 26.0 C303.0 24.7 304.7 23.3 307.0 22.0 C309.3 20.7 312.8 19.4 315.0 18.0 C317.2 16.6 317.2 14.8 320.0 13.5 C322.8 12.2 327.8 11.3 332.0 10.5 C336.2 9.7 340.5 9.1 345.0 8.5 C349.5 8.0 354.3 7.6 359.0 7.2 C363.7 6.8 368.3 6.4 373.0 6.2 C377.7 6.0 382.3 5.8 387.0 5.8 C391.7 5.8 396.3 5.8 401.0 6.0 C405.7 6.2 410.5 6.4 415.0 6.8 C419.5 7.2 424.0 7.6 428.0 8.2 C432.0 8.8 436.0 9.4 439.0 10.5 C442.0 11.6 444.5 13.2 446.0 15.0 C447.5 16.8 448.0 18.8 448.0 21.0 C448.0 23.2 447.2 25.8 446.0 28.0 C444.8 30.2 442.8 32.2 441.0 34.0 C439.2 35.8 437.3 37.5 435.0 39.0 C432.7 40.5 429.5 41.8 427.0 43.0 C424.5 44.2 422.2 45.0 420.0 46.0 C417.8 47.0 416.3 48.0 414.0 49.0 C411.7 50.0 408.7 51.2 406.0 52.0 C403.3 52.8 400.7 53.4 398.0 54.0 C395.3 54.6 392.7 55.0 390.0 55.5 C387.3 56.0 384.7 56.6 382.0 57.0 C379.3 57.4 376.7 57.7 374.0 58.0 C371.3 58.3 368.7 58.8 366.0 59.0 C363.3 59.2 360.7 59.2 358.0 59.0 C355.3 58.8 352.7 58.5 350.0 58.0 C347.3 57.5 344.7 56.6 342.0 56.0 C339.3 55.4 336.7 55.0 334.0 54.5 C331.3 54.0 328.7 53.6 326.0 53.0 C323.3 52.4 320.3 51.8 318.0 51.0 C315.7 50.2 314.2 49.5 312.0 48.0 C309.8 46.5 307.8 43.1 305.0 42.0 C302.2 40.9 298.3 41.2 295.0 41.5 C291.7 41.8 288.3 43.1 285.0 44.0 C281.7 44.9 278.3 46.0 275.0 47.0 C271.7 48.0 268.3 49.2 265.0 50.0 C261.7 50.8 258.7 51.3 255.0 52.0 C251.3 52.7 247.0 53.5 243.0 54.0 C239.0 54.5 235.0 54.9 231.0 55.0 C227.0 55.1 222.7 55.0 219.0 54.5 C215.3 54.0 211.8 52.9 209.0 52.0 C206.2 51.1 203.8 50.3 202.0 49.0 C200.2 47.7 199.2 45.8 198.0 44.0 C196.8 42.2 194.7 39.9 195.0 38.5 Z"/>
<path fill="#ffa000" d="M235.0 101.0 C235.2 98.8 237.3 95.2 239.0 93.0 C240.7 90.8 242.7 89.3 245.0 88.0 C247.3 86.7 250.0 85.5 253.0 85.0 C256.0 84.5 260.7 84.2 263.0 85.0 C265.3 85.8 265.5 88.7 267.0 90.0 C268.5 91.3 270.2 91.7 272.0 93.0 C273.8 94.3 276.0 96.5 278.0 98.0 C280.0 99.5 282.4 100.7 284.0 102.0 C285.6 103.3 287.0 104.7 287.5 106.0 C288.0 107.3 287.4 108.3 287.0 110.0 C286.6 111.7 285.5 114.0 285.0 116.0 C284.5 118.0 284.5 119.8 284.0 122.0 C283.5 124.2 283.2 127.2 282.0 129.0 C280.8 130.8 278.8 132.3 277.0 133.0 C275.2 133.7 272.8 133.8 271.0 133.0 C269.2 132.2 267.7 129.8 266.0 128.0 C264.3 126.2 262.3 124.0 261.0 122.0 C259.7 120.0 258.7 118.0 258.0 116.0 C257.3 114.0 257.2 108.8 257.0 110.0 C256.8 111.2 257.3 121.7 257.0 123.0 C256.7 124.3 256.3 119.5 255.0 118.0 C253.7 116.5 251.0 115.3 249.0 114.0 C247.0 112.7 244.8 111.3 243.0 110.0 C241.2 108.7 239.3 107.5 238.0 106.0 C236.7 104.5 234.8 103.2 235.0 101.0 Z"/>
<path fill="#ffa000" d="M129.0 115.0 C129.2 114.0 129.2 111.7 130.0 110.0 C130.8 108.3 132.3 106.2 134.0 105.0 C135.7 103.8 137.8 103.2 140.0 102.5 C142.2 101.8 144.3 101.3 147.0 101.0 C149.7 100.7 153.0 100.6 156.0 100.5 C159.0 100.4 163.5 100.2 165.0 100.5 C166.5 100.8 163.3 101.4 165.0 102.0 C166.7 102.6 171.7 103.2 175.0 104.0 C178.3 104.8 182.0 106.0 185.0 107.0 C188.0 108.0 190.5 109.0 193.0 110.0 C195.5 111.0 198.3 112.2 200.0 113.0 C201.7 113.8 201.2 114.8 203.0 115.0 C204.8 115.2 208.3 114.0 211.0 114.0 C213.7 114.0 216.7 114.3 219.0 115.0 C221.3 115.7 223.8 116.7 225.0 118.0 C226.2 119.3 226.3 121.2 226.0 123.0 C225.7 124.8 224.5 126.8 223.0 129.0 C221.5 131.2 219.0 133.7 217.0 136.0 C215.0 138.3 213.2 140.5 211.0 143.0 C208.8 145.5 206.2 148.3 204.0 151.0 C201.8 153.7 200.0 156.5 198.0 159.0 C196.0 161.5 194.0 163.8 192.0 166.0 C190.0 168.2 187.8 170.2 186.0 172.0 C184.2 173.8 182.8 175.7 181.0 177.0 C179.2 178.3 177.0 179.5 175.0 180.0 C173.0 180.5 171.0 180.2 169.0 180.0 C167.0 179.8 164.8 180.0 163.0 179.0 C161.2 178.0 159.3 174.7 158.0 174.0 C156.7 173.3 155.7 175.7 155.0 175.0 C154.3 174.3 154.2 172.2 154.0 170.0 C153.8 167.8 153.8 165.0 154.0 162.0 C154.2 159.0 154.8 155.2 155.0 152.0 C155.2 148.8 155.3 145.6 155.0 143.0 C154.7 140.4 154.2 138.2 153.0 136.5 C151.8 134.8 150.0 133.7 148.0 132.5 C146.0 131.3 143.2 130.6 141.0 129.5 C138.8 128.4 136.7 127.2 135.0 126.0 C133.3 124.8 132.0 123.7 131.0 122.0 C130.0 120.3 129.3 117.2 129.0 116.0 C128.7 114.8 128.8 116.0 129.0 115.0 Z"/>
<path fill="#ffa000" d="M364.0 100.0 C364.0 98.0 364.7 96.6 365.5 95.0 C366.3 93.4 367.6 91.8 369.0 90.5 C370.4 89.2 372.2 88.2 374.0 87.5 C375.8 86.8 377.7 86.2 380.0 86.0 C382.3 85.8 385.3 85.8 388.0 86.0 C390.7 86.2 393.5 86.8 396.0 87.5 C398.5 88.2 400.7 89.1 403.0 90.0 C405.3 90.9 407.8 92.0 410.0 93.0 C412.2 94.0 414.4 95.0 416.0 96.0 C417.6 97.0 419.3 97.8 419.5 99.0 C419.7 100.2 418.4 101.8 417.0 103.0 C415.6 104.2 413.2 105.0 411.0 106.0 C408.8 107.0 406.5 107.9 404.0 109.0 C401.5 110.1 398.5 111.4 396.0 112.5 C393.5 113.6 391.3 114.6 389.0 115.5 C386.7 116.4 384.3 117.2 382.0 118.0 C379.7 118.8 377.2 119.5 375.0 120.0 C372.8 120.5 370.5 121.7 369.0 121.0 C367.5 120.3 366.6 118.3 366.0 116.0 C365.4 113.7 365.8 109.7 365.5 107.0 C365.2 104.3 364.0 102.0 364.0 100.0 Z"/>
<path fill="#ffa000" d="M488.7 149.3 C489.7 148.6 490.8 148.1 492.0 148.0 C493.2 147.9 494.8 148.1 496.0 148.7 C497.2 149.2 498.5 150.1 499.3 151.3 C500.2 152.6 500.8 154.2 501.0 156.0 C501.2 157.8 501.1 160.0 500.7 162.0 C500.3 164.0 499.6 166.0 498.7 168.0 C497.8 170.0 496.6 172.1 495.3 174.0 C494.1 175.9 492.7 177.8 491.3 179.3 C490.0 180.9 488.8 182.2 487.3 183.3 C485.9 184.4 484.1 185.7 482.7 186.0 C481.2 186.3 479.7 186.0 478.7 185.3 C477.7 184.7 477.1 183.3 476.7 182.0 C476.2 180.7 475.9 179.1 476.0 177.3 C476.1 175.6 476.7 173.4 477.3 171.3 C478.0 169.2 479.0 166.9 480.0 164.7 C481.0 162.4 482.3 160.0 483.3 158.0 C484.3 156.0 485.1 154.1 486.0 152.7 C486.9 151.2 487.7 150.1 488.7 149.3 Z"/>
<path fill="#ffa000" d="M629.0 114.0 C629.0 113.2 629.2 110.5 630.0 109.0 C630.8 107.5 632.3 106.2 634.0 105.0 C635.7 103.8 638.0 103.1 640.0 102.0 C642.0 100.9 644.0 99.7 646.0 98.5 C648.0 97.3 650.0 96.2 652.0 95.0 C654.0 93.8 656.0 92.3 658.0 91.0 C660.0 89.7 662.0 88.3 664.0 87.0 C666.0 85.7 668.0 84.2 670.0 83.0 C672.0 81.8 673.5 80.5 676.0 79.5 C678.5 78.5 681.8 77.7 685.0 77.0 C688.2 76.3 691.7 75.8 695.0 75.5 C698.3 75.2 701.7 75.0 705.0 75.2 C708.3 75.4 711.7 75.9 715.0 76.5 C718.3 77.1 723.3 75.1 725.0 79.0 C726.7 82.9 728.3 95.5 725.0 100.0 C721.7 104.5 709.7 103.4 705.0 106.0 C700.3 108.6 699.5 113.2 697.0 115.5 C694.5 117.8 692.5 118.3 690.0 119.5 C687.5 120.7 684.8 121.7 682.0 122.5 C679.2 123.3 676.2 124.1 673.0 124.5 C669.8 124.9 666.3 125.1 663.0 125.0 C659.7 124.9 656.2 124.6 653.0 124.0 C649.8 123.4 646.8 122.4 644.0 121.5 C641.2 120.6 638.3 119.8 636.0 118.5 C633.7 117.2 631.2 114.8 630.0 114.0 C628.8 113.2 629.0 114.8 629.0 114.0 Z"/>
<path fill="#ff6000" d="M15.0 123.0 C15.8 121.2 17.3 119.8 19.0 119.0 C20.7 118.2 23.0 118.2 25.0 118.5 C27.0 118.8 29.0 119.9 31.0 121.0 C33.0 122.1 35.3 123.5 37.0 125.0 C38.7 126.5 40.5 128.2 41.0 130.0 C41.5 131.8 40.7 134.0 40.0 136.0 C39.3 138.0 38.2 140.2 37.0 142.0 C35.8 143.8 32.5 146.0 33.0 147.0 C33.5 148.0 37.7 147.5 40.0 148.0 C42.3 148.5 44.8 149.2 47.0 150.0 C49.2 150.8 51.2 151.8 53.0 153.0 C54.8 154.2 57.8 155.7 58.0 157.0 C58.2 158.3 55.5 159.5 54.0 161.0 C52.5 162.5 50.8 164.3 49.0 166.0 C47.2 167.7 45.2 169.3 43.0 171.0 C40.8 172.7 38.2 174.5 36.0 176.0 C33.8 177.5 32.0 179.2 30.0 180.0 C28.0 180.8 25.7 181.3 24.0 181.0 C22.3 180.7 20.5 179.5 20.0 178.0 C19.5 176.5 20.3 174.0 21.0 172.0 C21.7 170.0 23.0 168.0 24.0 166.0 C25.0 164.0 26.2 162.0 27.0 160.0 C27.8 158.0 29.2 155.7 29.0 154.0 C28.8 152.3 27.5 151.0 26.0 150.0 C24.5 149.0 21.7 149.0 20.0 148.0 C18.3 147.0 16.9 145.7 16.0 144.0 C15.1 142.3 14.8 140.3 14.5 138.0 C14.2 135.7 13.9 132.5 14.0 130.0 C14.1 127.5 14.2 124.8 15.0 123.0 Z"/>
<path fill="#ff6000" d="M207.0 38.5 C207.2 37.1 209.8 36.4 212.0 35.5 C214.2 34.6 216.8 33.7 220.0 33.0 C223.2 32.3 226.8 31.8 231.0 31.5 C235.2 31.2 240.5 31.1 245.0 31.2 C249.5 31.3 254.0 31.7 258.0 32.2 C262.0 32.8 265.7 33.8 269.0 34.5 C272.3 35.2 275.3 36.2 278.0 36.5 C280.7 36.8 282.7 36.5 285.0 36.0 C287.3 35.5 289.8 34.5 292.0 33.5 C294.2 32.5 296.2 31.4 298.0 30.0 C299.8 28.6 301.2 26.5 303.0 25.0 C304.8 23.5 307.0 22.1 309.0 21.0 C311.0 19.9 313.2 19.2 315.0 18.5 C316.8 17.8 317.3 17.3 320.0 16.5 C322.7 15.7 327.0 14.4 331.0 13.5 C335.0 12.6 339.5 11.7 344.0 11.0 C348.5 10.3 353.3 9.9 358.0 9.5 C362.7 9.1 367.3 8.8 372.0 8.5 C376.7 8.2 381.3 8.1 386.0 8.0 C390.7 8.0 395.3 8.0 400.0 8.2 C404.7 8.4 409.7 8.6 414.0 9.0 C418.3 9.4 422.3 9.8 426.0 10.5 C429.7 11.2 433.7 12.1 436.0 13.5 C438.3 14.9 439.5 16.9 440.0 19.0 C440.5 21.1 439.8 23.8 439.0 26.0 C438.2 28.2 436.7 30.1 435.0 32.0 C433.3 33.9 431.3 35.8 429.0 37.5 C426.7 39.2 423.7 41.1 421.0 42.5 C418.3 43.9 415.7 45.0 413.0 46.0 C410.3 47.0 407.8 47.9 405.0 48.5 C402.2 49.1 399.0 49.2 396.0 49.5 C393.0 49.8 390.0 50.2 387.0 50.5 C384.0 50.8 381.0 51.1 378.0 51.5 C375.0 51.9 372.0 52.7 369.0 53.0 C366.0 53.3 363.0 53.6 360.0 53.5 C357.0 53.4 354.0 52.9 351.0 52.5 C348.0 52.1 345.0 51.5 342.0 51.0 C339.0 50.5 336.0 50.1 333.0 49.5 C330.0 48.9 326.8 48.2 324.0 47.5 C321.2 46.8 318.3 46.2 316.0 45.5 C313.7 44.8 312.5 44.4 310.0 43.0 C307.5 41.6 303.5 37.8 301.0 37.0 C298.5 36.2 297.3 37.6 295.0 38.0 C292.7 38.4 289.8 38.8 287.0 39.5 C284.2 40.2 280.8 41.1 278.0 42.0 C275.2 42.9 272.8 44.0 270.0 45.0 C267.2 46.0 264.3 47.1 261.0 48.0 C257.7 48.9 253.8 49.8 250.0 50.5 C246.2 51.2 241.8 51.9 238.0 52.0 C234.2 52.1 230.5 51.7 227.0 51.0 C223.5 50.3 219.7 49.2 217.0 48.0 C214.3 46.8 212.7 45.6 211.0 44.0 C209.3 42.4 206.8 39.9 207.0 38.5 Z"/>
<path fill="#ff6000" d="M258.0 110.0 C258.5 108.2 259.0 106.2 260.0 105.0 C261.0 103.8 262.5 103.0 264.0 103.0 C265.5 103.0 267.3 104.0 269.0 105.0 C270.7 106.0 272.3 107.5 274.0 109.0 C275.7 110.5 277.7 112.2 279.0 114.0 C280.3 115.8 281.7 119.2 282.0 120.0 C282.3 120.8 281.5 118.2 281.0 119.0 C280.5 119.8 280.0 123.3 279.0 125.0 C278.0 126.7 276.5 128.2 275.0 129.0 C273.5 129.8 271.7 130.5 270.0 130.0 C268.3 129.5 266.7 127.5 265.0 126.0 C263.3 124.5 261.3 122.7 260.0 121.0 C258.7 119.3 257.5 116.8 257.0 116.0 C256.5 115.2 256.8 117.0 257.0 116.0 C257.2 115.0 257.5 111.8 258.0 110.0 Z"/>
<path fill="#ff6000" d="M131.0 116.0 C131.2 115.2 132.0 111.7 133.0 110.0 C134.0 108.3 135.5 107.0 137.0 106.0 C138.5 105.0 140.2 104.6 142.0 104.0 C143.8 103.4 145.5 102.8 148.0 102.5 C150.5 102.2 154.2 102.1 157.0 102.0 C159.8 101.9 163.7 101.8 165.0 102.0 C166.3 102.2 163.3 102.8 165.0 103.5 C166.7 104.2 171.7 105.1 175.0 106.0 C178.3 106.9 182.3 108.0 185.0 109.0 C187.7 110.0 188.8 111.5 191.0 112.0 C193.2 112.5 195.7 111.2 198.0 112.0 C200.3 112.8 202.8 115.5 205.0 117.0 C207.2 118.5 209.2 119.7 211.0 121.0 C212.8 122.3 214.7 123.8 216.0 125.0 C217.3 126.2 219.3 126.8 219.0 128.5 C218.7 130.2 215.8 132.8 214.0 135.0 C212.2 137.2 210.0 139.7 208.0 142.0 C206.0 144.3 204.0 146.7 202.0 149.0 C200.0 151.3 198.0 153.7 196.0 156.0 C194.0 158.3 192.0 160.8 190.0 163.0 C188.0 165.2 186.0 167.2 184.0 169.0 C182.0 170.8 179.8 173.0 178.0 174.0 C176.2 175.0 174.8 175.0 173.0 175.0 C171.2 175.0 168.8 175.0 167.0 174.0 C165.2 173.0 163.5 171.0 162.0 169.0 C160.5 167.0 158.7 162.0 158.0 162.0 C157.3 162.0 158.1 169.0 158.0 169.0 C157.9 169.0 157.5 164.8 157.5 162.0 C157.5 159.2 157.9 155.3 158.0 152.0 C158.1 148.7 158.3 144.8 158.0 142.0 C157.7 139.2 157.2 136.9 156.0 135.0 C154.8 133.1 153.0 131.7 151.0 130.5 C149.0 129.3 146.2 128.9 144.0 128.0 C141.8 127.1 139.7 126.2 138.0 125.0 C136.3 123.8 135.0 122.7 134.0 121.0 C133.0 119.3 132.5 115.8 132.0 115.0 C131.5 114.2 130.8 116.8 131.0 116.0 Z"/>
<path fill="#ff6000" d="M367.0 100.0 C367.0 98.5 367.8 97.2 368.5 96.0 C369.2 94.8 370.2 93.6 371.5 92.5 C372.8 91.4 374.2 90.2 376.0 89.5 C377.8 88.8 379.8 88.2 382.0 88.0 C384.2 87.8 386.7 87.8 389.0 88.0 C391.3 88.2 393.7 88.8 396.0 89.5 C398.3 90.2 400.8 91.1 403.0 92.0 C405.2 92.9 407.2 94.0 409.0 95.0 C410.8 96.0 412.8 97.2 414.0 98.0 C415.2 98.8 416.2 99.2 416.0 100.0 C415.8 100.8 414.5 102.1 413.0 103.0 C411.5 103.9 409.2 104.6 407.0 105.5 C404.8 106.4 402.3 107.5 400.0 108.5 C397.7 109.5 395.3 110.5 393.0 111.5 C390.7 112.5 388.2 113.7 386.0 114.5 C383.8 115.3 381.8 116.4 380.0 116.5 C378.2 116.6 376.5 116.1 375.0 115.0 C373.5 113.9 372.1 111.7 371.0 110.0 C369.9 108.3 369.2 106.7 368.5 105.0 C367.8 103.3 367.0 101.5 367.0 100.0 Z"/>
<path fill="#ff6000" d="M488.0 153.3 C488.9 152.6 490.2 152.0 491.3 152.0 C492.4 152.0 493.7 152.6 494.7 153.3 C495.7 154.1 496.8 155.2 497.3 156.7 C497.8 158.1 497.9 160.1 497.7 162.0 C497.4 163.9 496.6 166.1 495.7 168.0 C494.7 169.9 493.3 171.7 492.0 173.3 C490.7 174.9 489.3 176.6 488.0 177.7 C486.7 178.7 485.2 179.4 484.0 179.7 C482.8 179.9 481.5 179.9 480.7 179.3 C479.8 178.7 479.2 177.3 479.0 176.0 C478.8 174.7 479.0 172.9 479.3 171.3 C479.7 169.8 480.3 168.3 481.0 166.7 C481.7 165.0 482.6 163.0 483.3 161.3 C484.1 159.7 484.9 158.0 485.7 156.7 C486.4 155.3 487.1 154.1 488.0 153.3 Z"/>
<path fill="#ff6000" d="M637.0 113.0 C636.8 111.6 637.8 109.5 639.0 108.0 C640.2 106.5 642.2 105.3 644.0 104.0 C645.8 102.7 648.0 101.3 650.0 100.0 C652.0 98.7 654.0 97.4 656.0 96.0 C658.0 94.6 660.0 92.9 662.0 91.5 C664.0 90.1 666.0 88.8 668.0 87.5 C670.0 86.2 672.0 84.7 674.0 83.5 C676.0 82.3 677.7 81.3 680.0 80.5 C682.3 79.7 685.2 79.0 688.0 78.5 C690.8 78.0 694.0 77.7 697.0 77.5 C700.0 77.3 703.2 77.2 706.0 77.5 C708.8 77.8 711.8 78.1 714.0 79.0 C716.2 79.9 717.2 81.7 719.0 83.0 C720.8 84.3 724.0 85.2 725.0 87.0 C726.0 88.8 725.8 92.5 725.0 94.0 C724.2 95.5 721.7 95.0 720.0 96.0 C718.3 97.0 716.8 98.7 715.0 100.0 C713.2 101.3 711.3 102.7 709.0 104.0 C706.7 105.3 703.7 106.8 701.0 108.0 C698.3 109.2 695.7 110.0 693.0 111.0 C690.3 112.0 687.7 113.2 685.0 114.0 C682.3 114.8 679.7 115.3 677.0 116.0 C674.3 116.7 671.7 117.4 669.0 118.0 C666.3 118.6 663.7 119.2 661.0 119.5 C658.3 119.8 655.5 120.1 653.0 120.0 C650.5 119.9 648.2 119.6 646.0 119.0 C643.8 118.4 641.5 117.5 640.0 116.5 C638.5 115.5 637.2 114.4 637.0 113.0 Z"/>
<path fill="#e11400" d="M17.0 129.0 C17.2 127.0 17.8 125.2 19.0 124.0 C20.2 122.8 22.2 121.7 24.0 121.5 C25.8 121.3 28.2 122.1 30.0 123.0 C31.8 123.9 34.0 125.5 35.0 127.0 C36.0 128.5 36.2 130.3 36.0 132.0 C35.8 133.7 35.0 135.5 34.0 137.0 C33.0 138.5 31.5 139.9 30.0 141.0 C28.5 142.1 26.5 143.5 25.0 143.5 C23.5 143.5 22.2 142.2 21.0 141.0 C19.8 139.8 18.7 138.0 18.0 136.0 C17.3 134.0 16.8 131.0 17.0 129.0 Z"/>
<path fill="#e11400" d="M27.0 167.0 C26.8 165.3 28.0 163.7 29.0 162.0 C30.0 160.3 31.7 158.5 33.0 157.0 C34.3 155.5 35.5 153.8 37.0 153.0 C38.5 152.2 40.2 151.8 42.0 152.0 C43.8 152.2 46.3 153.2 48.0 154.0 C49.7 154.8 51.8 155.7 52.0 157.0 C52.2 158.3 50.2 160.3 49.0 162.0 C47.8 163.7 46.5 165.5 45.0 167.0 C43.5 168.5 41.8 169.8 40.0 171.0 C38.2 172.2 35.7 173.8 34.0 174.0 C32.3 174.2 31.2 173.2 30.0 172.0 C28.8 170.8 27.2 168.7 27.0 167.0 Z"/>
<path fill="#e11400" d="M216.0 38.5 C216.2 37.2 218.8 36.8 221.0 36.0 C223.2 35.2 225.8 34.5 229.0 34.0 C232.2 33.5 236.3 33.3 240.0 33.2 C243.7 33.1 247.5 33.2 251.0 33.5 C254.5 33.8 258.0 34.4 261.0 35.0 C264.0 35.6 266.7 36.3 269.0 37.0 C271.3 37.7 274.8 38.2 275.0 39.0 C275.2 39.8 272.0 41.1 270.0 42.0 C268.0 42.9 265.5 43.7 263.0 44.5 C260.5 45.3 258.0 46.2 255.0 47.0 C252.0 47.8 248.3 48.6 245.0 49.0 C241.7 49.4 238.2 49.7 235.0 49.5 C231.8 49.3 228.5 48.9 226.0 48.0 C223.5 47.1 221.7 45.6 220.0 44.0 C218.3 42.4 215.8 39.8 216.0 38.5 Z"/>
<path fill="#e11400" d="M307.0 30.0 C307.8 28.0 310.7 24.8 313.0 23.0 C315.3 21.2 318.0 20.2 321.0 19.0 C324.0 17.8 327.3 16.5 331.0 15.5 C334.7 14.5 338.8 13.7 343.0 13.0 C347.2 12.3 351.5 11.9 356.0 11.5 C360.5 11.1 365.3 10.8 370.0 10.5 C374.7 10.2 379.3 10.1 384.0 10.0 C388.7 9.9 393.5 10.1 398.0 10.2 C402.5 10.3 406.8 10.5 411.0 10.8 C415.2 11.1 419.5 11.3 423.0 12.0 C426.5 12.7 430.0 13.5 432.0 15.0 C434.0 16.5 434.8 18.8 435.0 21.0 C435.2 23.2 434.2 25.8 433.0 28.0 C431.8 30.2 430.0 32.1 428.0 34.0 C426.0 35.9 423.5 37.8 421.0 39.5 C418.5 41.2 415.8 42.8 413.0 44.0 C410.2 45.2 407.0 46.0 404.0 46.5 C401.0 47.0 398.0 46.8 395.0 47.0 C392.0 47.2 389.0 47.7 386.0 48.0 C383.0 48.3 380.0 48.7 377.0 49.0 C374.0 49.3 370.8 49.8 368.0 50.0 C365.2 50.2 362.8 50.6 360.0 50.5 C357.2 50.4 354.0 49.9 351.0 49.5 C348.0 49.1 345.0 48.5 342.0 48.0 C339.0 47.5 336.0 47.1 333.0 46.5 C330.0 45.9 326.8 45.2 324.0 44.5 C321.2 43.8 318.3 43.0 316.0 42.0 C313.7 41.0 311.3 39.7 310.0 38.5 C308.7 37.3 308.5 36.4 308.0 35.0 C307.5 33.6 306.2 32.0 307.0 30.0 Z"/>
<path fill="#e11400" d="M263.0 117.5 L270.5 112.5 L276.5 117.5 L270.0 124.0 Z"/>
<path fill="#e11400" d="M134.0 116.0 C134.2 115.3 135.0 112.5 136.0 111.0 C137.0 109.5 138.5 108.0 140.0 107.0 C141.5 106.0 143.3 105.5 145.0 105.0 C146.7 104.5 147.8 104.2 150.0 104.0 C152.2 103.8 155.5 103.6 158.0 103.5 C160.5 103.4 163.8 103.2 165.0 103.5 C166.2 103.8 163.3 104.2 165.0 105.0 C166.7 105.8 172.0 107.1 175.0 108.0 C178.0 108.9 180.8 110.2 183.0 110.5 C185.2 110.8 186.0 109.1 188.0 110.0 C190.0 110.9 192.5 114.2 195.0 116.0 C197.5 117.8 200.3 119.5 203.0 121.0 C205.7 122.5 208.8 123.8 211.0 125.0 C213.2 126.2 215.8 126.7 216.0 128.0 C216.2 129.3 213.7 131.2 212.0 133.0 C210.3 134.8 208.0 136.8 206.0 139.0 C204.0 141.2 201.8 143.8 200.0 146.0 C198.2 148.2 196.8 149.8 195.0 152.0 C193.2 154.2 191.0 156.8 189.0 159.0 C187.0 161.2 185.0 163.3 183.0 165.0 C181.0 166.7 178.8 168.0 177.0 169.0 C175.2 170.0 173.5 171.2 172.0 171.0 C170.5 170.8 169.3 169.5 168.0 168.0 C166.7 166.5 165.3 164.3 164.0 162.0 C162.7 159.7 160.5 154.3 160.0 154.0 C159.5 153.7 160.8 160.3 161.0 160.0 C161.2 159.7 161.0 155.2 161.0 152.0 C161.0 148.8 161.3 144.2 161.0 141.0 C160.7 137.8 160.2 135.3 159.0 133.0 C157.8 130.7 156.0 128.3 154.0 127.0 C152.0 125.7 149.2 125.7 147.0 125.0 C144.8 124.3 142.7 123.8 141.0 123.0 C139.3 122.2 138.0 121.3 137.0 120.0 C136.0 118.7 135.5 115.7 135.0 115.0 C134.5 114.3 133.8 116.7 134.0 116.0 Z"/>
<path fill="#e11400" d="M369.0 99.0 C369.1 97.9 369.7 96.6 370.5 95.5 C371.3 94.4 372.6 93.3 374.0 92.5 C375.4 91.7 377.2 91.0 379.0 90.5 C380.8 90.0 382.8 89.6 385.0 89.5 C387.2 89.4 389.8 89.7 392.0 90.0 C394.2 90.3 396.0 90.8 398.0 91.5 C400.0 92.2 402.2 93.1 404.0 94.0 C405.8 94.9 407.8 96.1 409.0 97.0 C410.2 97.9 411.2 98.7 411.0 99.5 C410.8 100.3 409.5 101.2 408.0 102.0 C406.5 102.8 404.2 103.6 402.0 104.5 C399.8 105.4 397.3 106.5 395.0 107.5 C392.7 108.5 390.2 109.6 388.0 110.5 C385.8 111.4 383.7 112.4 382.0 113.0 C380.3 113.6 379.2 114.3 378.0 114.0 C376.8 113.7 376.0 112.3 375.0 111.0 C374.0 109.7 372.8 107.5 372.0 106.0 C371.2 104.5 370.5 103.2 370.0 102.0 C369.5 100.8 368.9 100.1 369.0 99.0 Z"/>
<path fill="#e11400" d="M486.0 158.0 C486.9 156.7 487.7 154.9 488.7 154.0 C489.7 153.1 490.9 152.6 492.0 152.7 C493.1 152.8 494.6 153.7 495.3 154.7 C496.1 155.7 496.6 157.1 496.7 158.7 C496.8 160.2 496.4 162.3 496.0 164.0 C495.6 165.7 494.9 167.1 494.0 168.7 C493.1 170.2 491.9 172.1 490.7 173.3 C489.4 174.6 488.0 175.7 486.7 176.0 C485.3 176.3 483.7 176.1 482.7 175.3 C481.6 174.6 480.6 172.8 480.3 171.3 C480.1 169.9 480.8 168.2 481.3 166.7 C481.8 165.1 482.6 163.4 483.3 162.0 C484.1 160.6 485.1 159.3 486.0 158.0 Z"/>
<path fill="#e11400" d="M644.0 108.0 C643.8 106.7 645.7 106.0 647.0 105.0 C648.3 104.0 650.2 103.2 652.0 102.0 C653.8 100.8 656.0 99.0 658.0 97.5 C660.0 96.0 662.0 94.5 664.0 93.0 C666.0 91.5 668.0 89.8 670.0 88.5 C672.0 87.2 674.0 86.1 676.0 85.0 C678.0 83.9 679.7 82.8 682.0 82.0 C684.3 81.2 687.2 80.5 690.0 80.0 C692.8 79.5 696.2 79.3 699.0 79.2 C701.8 79.1 704.5 79.1 707.0 79.5 C709.5 79.9 712.2 80.4 714.0 81.5 C715.8 82.6 717.2 84.4 718.0 86.0 C718.8 87.6 719.3 89.3 719.0 91.0 C718.7 92.7 717.3 94.3 716.0 96.0 C714.7 97.7 713.0 99.5 711.0 101.0 C709.0 102.5 706.5 103.7 704.0 105.0 C701.5 106.3 698.7 107.8 696.0 109.0 C693.3 110.2 690.7 111.2 688.0 112.0 C685.3 112.8 682.8 113.3 680.0 114.0 C677.2 114.7 674.0 115.5 671.0 116.0 C668.0 116.5 664.8 116.9 662.0 117.0 C659.2 117.1 656.3 117.2 654.0 116.5 C651.7 115.8 649.7 114.4 648.0 113.0 C646.3 111.6 644.2 109.3 644.0 108.0 Z"/>
<path fill="#a50000" d="M22.0 129.0 C22.1 127.7 23.0 126.4 24.0 126.0 C25.0 125.6 27.2 126.0 28.0 126.5 C28.8 127.0 29.2 127.9 29.0 129.0 C28.8 130.1 27.7 131.8 27.0 133.0 C26.3 134.2 25.6 136.3 25.0 136.5 C24.4 136.7 24.0 135.2 23.5 134.0 C23.0 132.8 21.9 130.3 22.0 129.0 Z"/>
<path fill="#a50000" d="M30.0 167.0 C29.8 166.0 31.0 164.3 32.0 163.0 C33.0 161.7 34.7 160.2 36.0 159.0 C37.3 157.8 38.7 156.5 40.0 156.0 C41.3 155.5 43.5 155.2 44.0 156.0 C44.5 156.8 43.5 159.3 43.0 161.0 C42.5 162.7 42.0 164.8 41.0 166.0 C40.0 167.2 38.3 168.0 37.0 168.5 C35.7 169.0 34.2 169.2 33.0 169.0 C31.8 168.8 30.2 168.0 30.0 167.0 Z"/>
<path fill="#a50000" d="M217.5 38.8 C218.2 38.1 220.8 37.5 223.0 37.0 C225.2 36.5 228.0 36.1 231.0 35.8 C234.0 35.5 237.7 35.2 241.0 35.2 C244.3 35.2 248.0 35.3 251.0 35.6 C254.0 35.9 256.7 36.3 259.0 36.8 C261.3 37.3 264.7 37.8 265.0 38.5 C265.3 39.2 262.7 40.2 261.0 41.0 C259.3 41.8 257.3 42.2 255.0 43.0 C252.7 43.8 249.8 44.9 247.0 45.5 C244.2 46.1 240.8 46.6 238.0 46.8 C235.2 47.0 232.3 47.0 230.0 46.5 C227.7 46.0 225.8 44.9 224.0 44.0 C222.2 43.1 220.1 41.9 219.0 41.0 C217.9 40.1 216.8 39.5 217.5 38.8 Z"/>
<path fill="#a50000" d="M311.5 30.0 C312.0 28.2 314.1 26.5 316.0 25.0 C317.9 23.5 320.3 22.2 323.0 21.0 C325.7 19.8 328.7 18.5 332.0 17.5 C335.3 16.5 339.2 15.7 343.0 15.0 C346.8 14.3 350.8 13.9 355.0 13.5 C359.2 13.1 363.5 12.8 368.0 12.5 C372.5 12.2 377.3 12.1 382.0 12.0 C386.7 11.9 391.3 11.9 396.0 12.0 C400.7 12.1 405.8 12.2 410.0 12.5 C414.2 12.8 418.0 12.9 421.0 13.5 C424.0 14.1 426.5 14.8 428.0 16.0 C429.5 17.2 430.0 19.2 430.0 21.0 C430.0 22.8 429.2 25.0 428.0 27.0 C426.8 29.0 424.8 31.2 423.0 33.0 C421.2 34.8 419.2 36.5 417.0 38.0 C414.8 39.5 412.5 41.0 410.0 42.0 C407.5 43.0 404.7 43.6 402.0 44.0 C399.3 44.4 396.7 44.2 394.0 44.5 C391.3 44.8 388.7 45.2 386.0 45.5 C383.3 45.8 380.7 46.2 378.0 46.5 C375.3 46.8 372.7 47.2 370.0 47.5 C367.3 47.8 364.8 48.1 362.0 48.0 C359.2 47.9 356.0 47.4 353.0 47.0 C350.0 46.6 347.0 46.0 344.0 45.5 C341.0 45.0 338.0 44.6 335.0 44.0 C332.0 43.4 328.8 42.7 326.0 42.0 C323.2 41.3 320.2 41.0 318.0 40.0 C315.8 39.0 314.1 37.7 313.0 36.0 C311.9 34.3 311.0 31.8 311.5 30.0 Z"/>
<path fill="#a50000" d="M137.0 116.0 C137.3 115.3 138.8 112.4 140.0 111.0 C141.2 109.6 142.5 108.3 144.0 107.5 C145.5 106.7 147.0 106.3 149.0 106.0 C151.0 105.7 153.3 105.6 156.0 105.5 C158.7 105.4 163.5 105.2 165.0 105.5 C166.5 105.8 163.7 106.3 165.0 107.0 C166.3 107.7 169.8 108.5 173.0 109.5 C176.2 110.5 181.0 111.6 184.0 113.0 C187.0 114.4 188.5 116.5 191.0 118.0 C193.5 119.5 196.3 120.7 199.0 122.0 C201.7 123.3 204.8 125.0 207.0 126.0 C209.2 127.0 211.8 127.0 212.0 128.0 C212.2 129.0 209.5 130.5 208.0 132.0 C206.5 133.5 204.7 135.2 203.0 137.0 C201.3 138.8 199.7 141.0 198.0 143.0 C196.3 145.0 194.7 147.2 193.0 149.0 C191.3 150.8 189.7 152.3 188.0 154.0 C186.3 155.7 184.8 157.7 183.0 159.0 C181.2 160.3 179.0 161.3 177.0 162.0 C175.0 162.7 172.5 163.5 171.0 163.0 C169.5 162.5 169.2 160.7 168.0 159.0 C166.8 157.3 165.2 155.3 164.0 153.0 C162.8 150.7 161.8 148.0 161.0 145.0 C160.2 142.0 158.8 137.2 159.0 135.0 C159.2 132.8 162.0 133.7 162.0 132.0 C162.0 130.3 160.0 127.2 159.0 125.0 C158.0 122.8 157.5 119.7 156.0 119.0 C154.5 118.3 152.0 120.8 150.0 121.0 C148.0 121.2 145.7 120.5 144.0 120.0 C142.3 119.5 141.0 118.8 140.0 118.0 C139.0 117.2 138.5 115.3 138.0 115.0 C137.5 114.7 136.7 116.7 137.0 116.0 Z"/>
<path fill="#a50000" d="M371.0 98.0 C371.0 96.4 372.7 95.5 374.0 94.5 C375.3 93.5 377.2 92.6 379.0 92.0 C380.8 91.4 382.8 91.1 385.0 91.0 C387.2 90.9 389.8 91.2 392.0 91.5 C394.2 91.8 396.2 92.4 398.0 93.0 C399.8 93.6 401.4 94.2 403.0 95.0 C404.6 95.8 407.2 97.1 407.5 98.0 C407.8 98.9 406.4 99.7 405.0 100.5 C403.6 101.3 401.2 102.1 399.0 103.0 C396.8 103.9 394.3 105.0 392.0 106.0 C389.7 107.0 387.0 108.2 385.0 109.0 C383.0 109.8 381.3 111.0 380.0 111.0 C378.7 111.0 378.0 110.2 377.0 109.0 C376.0 107.8 375.0 105.8 374.0 104.0 C373.0 102.2 371.0 99.6 371.0 98.0 Z"/>
<path fill="#a50000" d="M488.7 165.3 L491.3 164.0 L492.0 166.7 L490.0 169.3 L488.3 168.0 Z"/>
<path fill="#a50000" d="M649.0 107.5 C649.2 106.3 651.3 105.3 653.0 104.0 C654.7 102.7 657.0 101.0 659.0 99.5 C661.0 98.0 663.0 96.5 665.0 95.0 C667.0 93.5 669.0 91.9 671.0 90.5 C673.0 89.1 675.0 87.7 677.0 86.5 C679.0 85.3 680.7 84.3 683.0 83.5 C685.3 82.7 688.3 82.0 691.0 81.5 C693.7 81.0 696.3 80.8 699.0 80.8 C701.7 80.8 704.7 80.8 707.0 81.2 C709.3 81.7 711.3 82.4 713.0 83.5 C714.7 84.6 716.5 86.4 717.0 88.0 C717.5 89.6 716.8 91.3 716.0 93.0 C715.2 94.7 713.7 96.5 712.0 98.0 C710.3 99.5 708.2 100.7 706.0 102.0 C703.8 103.3 701.5 104.8 699.0 106.0 C696.5 107.2 693.7 108.5 691.0 109.5 C688.3 110.5 685.8 111.2 683.0 112.0 C680.2 112.8 677.0 113.5 674.0 114.0 C671.0 114.5 667.8 115.0 665.0 115.0 C662.2 115.0 659.2 114.7 657.0 114.0 C654.8 113.3 653.3 112.1 652.0 111.0 C650.7 109.9 648.8 108.7 649.0 107.5 Z"/>
<g fill="none" stroke="#000" stroke-linejoin="round" stroke-linecap="butt" shape-rendering="crispEdges">
<path stroke-width="1" d="M0.0 48.7 L14.5 49.5 L29.1 50.9 L33.5 54.1 L42.2 56.0 L58.2 55.3 L64.7 57.0 L65.5 61.1 L77.1 61.1 L90.2 59.6 L93.1 61.8 L96.0 64.0 L100.4 63.3 L100.4 59.6 L110.5 59.3 L125.1 61.1 L130.9 64.0 L139.6 66.2 L148.4 69.8 L154.2 72.0 L163.6 74.9 L156.4 77.1 L152.7 82.2 L145.5 79.3 L139.6 76.4 L134.5 75.6 L133.1 74.9 L131.6 77.8 L126.5 80.0 L122.9 80.7 L126.5 81.5 L128.7 88.0 L125.1 89.0 L116.4 90.2 L107.6 93.1 L100.4 97.5 L98.9 98.9 L95.3 96.7 L87.3 97.5 L81.5 98.9 L77.1 100.4 L74.2 104.7 L72.0 107.6 L75.6 109.1 L75.6 112.7 L71.3 114.9 L71.3 119.3 L66.2 120.7 L64.7 125.1 L61.1 128.7 L54.5 133.8 L52.4 126.5 L50.2 116.4 L51.6 112.0 L56.0 108.4 L61.1 106.2 L65.5 104.0 L69.8 100.4 L74.2 97.5 L76.4 94.5 L78.5 92.4 L80.7 89.5 L78.5 88.4 L75.6 90.9 L71.3 93.1 L67.6 95.3 L65.5 93.8 L66.2 91.6 L58.2 91.3 L53.8 93.1 L49.5 96.7 L46.5 100.4 L49.5 102.5 L39.3 103.3 L36.4 101.1 L30.5 99.6 L18.9 101.1 L5.8 101.8 L0.0 106.9 M0.0 37.5 L5.8 35.6 L14.5 37.1 L16.7 38.1 L8.7 39.6 L0.0 40.7 M21.1 37.5 L25.5 39.0 L34.9 39.0 L36.4 39.6 L34.2 40.4 L26.2 40.4 L23.3 39.0 Z M0.0 43.6 L5.8 44.4 L10.9 45.8 L10.2 47.7 L4.4 48.7 L0.0 48.7 M126.5 55.3 L130.2 53.5 L136.7 53.5 L139.6 55.3 L135.3 56.4 L129.5 56.4 Z M240.0 58.2 L224.0 56.0 L209.5 54.5 L200.7 56.0 L187.6 58.2 L183.3 61.1 L176.7 63.3 L176.7 66.2 L183.3 68.4 L186.2 71.3 L190.5 73.5 L181.8 74.2 L174.5 75.6 L170.9 76.4 L174.5 78.5 L180.4 80.7 L189.1 80.0 L193.5 79.7 L193.5 85.1 L187.6 86.5 L181.8 87.3 L178.9 90.2 L176.7 92.4 L180.4 95.3 L181.8 98.9 L187.6 100.4 L190.5 98.9 L192.0 102.5 L199.3 104.0 L201.5 105.5 L200.7 103.3 L204.4 104.0 L204.4 108.4 L201.5 111.3 L194.9 114.2 L189.1 116.4 L181.8 120.0 L184.7 118.5 L193.5 115.6 L203.6 112.0 L209.5 108.4 L215.3 104.0 L218.2 101.1 L221.1 97.5 L224.7 94.5 L229.1 93.8 L226.9 96.0 L223.3 100.4 L228.4 98.9 L234.2 96.7 L236.4 94.5 L240.0 94.8 M213.1 108.4 L219.6 105.5 L221.8 107.6 L216.0 111.3 Z M172.4 98.2 L175.3 97.2 L178.2 98.2 L175.3 99.3 Z M1.1 124.2 L6.0 125.3 L8.8 121.4 L9.9 123.6 L11.0 128.5 L12.6 135.1 L14.8 141.7 L11.5 140.6 L9.3 143.9 L11.5 150.5 L9.9 152.2 L7.1 150.5 L6.0 154.9 L8.2 158.2 L12.6 160.9 L17.0 160.4 L19.8 163.1 L14.8 164.8 L11.5 167.5 L9.9 169.7 L6.0 168.1 L1.6 167.0 L1.1 164.8 L4.9 164.8 L6.0 159.8 L4.9 156.0 L5.5 152.7 L7.7 146.1 L7.1 138.4 L6.0 131.8 L6.6 126.4 L3.3 129.6 L1.6 132.9 M1.1 170.3 L3.8 171.4 L5.5 175.8 L7.1 178.0 L6.6 181.8 L4.9 184.6 L3.3 188.9 L2.2 192.2 L2.7 194.4 L1.1 197.2 M230.0 57.9 L244.5 59.6 L259.1 61.8 L272.2 64.0 L275.1 62.5 L282.4 61.8 L288.2 59.6 L295.5 58.9 L298.4 59.6 L301.3 57.5 L305.6 59.6 L310.7 61.1 L312.9 59.6 L315.8 61.1 L324.5 61.1 L331.8 62.5 L337.6 63.3 L342.0 62.5 L346.4 64.0 L349.3 64.7 L360.9 64.0 L368.2 63.3 L375.5 65.5 L382.7 66.9 L390.0 68.4 L394.4 69.1 L395.8 66.2 L395.1 63.3 L400.2 61.1 L403.1 64.0 L402.4 66.9 L406.7 69.1 L410.4 65.5 L411.8 61.8 L406.7 60.4 L403.8 58.2 L406.0 55.3 L410.4 57.5 L417.6 59.6 L420.5 56.0 L417.6 53.8 L413.3 51.6 L411.8 49.5 L414.7 48.0 L419.1 50.2 L423.5 53.8 L425.6 57.5 L426.4 62.5 L430.7 64.0 L432.9 67.6 L436.5 69.1 L440.2 65.5 L440.9 60.4 L448.2 60.8 L454.0 64.0 L452.5 69.8 L446.7 71.3 L440.9 72.7 L438.0 74.2 L435.8 78.5 L432.9 82.2 L424.9 83.6 L422.0 86.5 L416.2 89.5 L411.8 93.1 L409.6 98.9 L410.4 103.3 L414.0 105.5 L416.2 107.6 L419.1 109.8 L426.4 112.0 L433.6 114.2 L439.5 115.6 L446.7 117.1 L451.1 119.3 L452.5 123.6 L454.7 128.0 L457.6 131.6 L459.8 134.5 L461.3 130.9 L462.7 126.5 L461.3 122.9 L459.8 119.3 L465.6 116.4 L468.5 112.0 L468.5 106.9 L464.9 103.3 L465.6 96.0 L464.9 90.2 L470.0 89.5 M230.0 99.6 L233.6 97.5 L235.1 94.5 L238.7 95.3 L247.5 97.5 L259.1 99.6 L266.4 102.5 L272.2 105.5 L276.5 108.4 L278.7 104.7 L279.5 109.1 L283.1 109.1 L280.9 112.0 L285.3 114.9 L288.2 116.4 L291.1 119.3 L294.0 119.3 L293.3 122.2 L295.5 125.1 L299.8 128.7 L301.3 132.4 L305.6 134.5 L311.5 137.5 L317.3 140.4 L318.7 143.3 L319.5 146.9 L314.4 146.2 L315.1 152.7 L314.4 160.0 L312.9 164.4 L312.6 168.7 L313.6 173.1 L315.1 177.5 L317.3 182.5 L319.5 185.0 M284.5 122.2 L287.5 121.5 L289.6 125.1 L291.8 130.2 L288.9 128.7 L286.0 125.1 Z M300.5 135.3 L304.2 133.8 L311.5 137.5 L317.3 141.8 L319.5 146.2 L315.8 145.5 L309.3 141.8 L303.5 138.2 Z M277.3 106.2 L280.2 112.7 L284.5 116.4 L287.5 114.9 M310.7 74.2 L320.2 72.7 L330.4 71.3 L334.7 73.5 L331.8 76.4 L326.0 77.1 L324.5 79.3 L317.3 79.3 L320.2 76.4 L326.0 74.9 L317.3 74.9 Z M337.6 94.5 L342.0 93.1 L344.2 89.5 L350.7 89.5 L356.5 87.3 L362.4 88.0 L358.0 89.5 L353.6 90.9 L349.3 93.1 L346.4 95.3 L340.5 95.7 Z M355.8 104.0 L360.9 100.4 L368.2 101.1 L363.8 102.5 L358.0 104.4 Z M382.7 113.5 L384.9 107.6 L387.1 106.9 L386.4 110.5 L384.9 113.5 Z M388.5 126.5 L392.9 126.5 L397.3 130.9 L400.2 136.7 L397.3 137.5 L395.8 133.1 L391.5 129.5 Z M395.8 123.6 L399.5 123.3 L403.1 130.9 L405.3 136.0 L402.4 136.4 L400.2 131.6 L397.3 126.5 Z M418.0 151.5 L423.0 148.0 L428.0 144.5 L432.0 142.0 L437.0 143.0 L441.0 146.0 L443.0 150.0 L440.0 151.0 L435.0 150.0 L431.0 148.5 L426.0 149.5 L421.0 151.5 Z M443.0 150.0 L448.0 153.0 L454.0 153.5 L458.0 156.0 L459.5 158.5 L456.0 159.0 L454.0 157.0 L453.0 161.0 L450.0 164.5 L447.0 162.0 L445.5 159.0 L447.5 156.5 L445.0 154.0 L442.0 153.0 Z M432.5 158.0 L435.0 155.5 L439.0 153.0 L443.0 152.0 L440.0 155.0 L437.5 159.0 L437.0 164.0 L437.5 169.0 L435.0 170.5 L433.0 169.0 L432.5 164.0 Z M446.5 170.0 L452.0 168.0 L457.0 166.0 L461.0 164.5 L460.0 166.0 L455.0 168.5 L450.0 171.0 Z M459.0 163.0 L464.0 161.5 L470.0 160.5 L471.0 161.5 L467.0 163.5 L461.0 164.5 Z M310.7 50.2 L314.4 43.6 L323.1 41.5 L334.7 42.2 L340.5 45.1 L334.7 48.0 L330.4 50.2 L327.5 54.5 L317.3 55.3 Z M330.4 50.2 L337.6 47.3 L344.9 46.3 L353.6 47.7 L363.8 47.3 L369.6 46.3 L376.9 45.4 L378.4 47.3 L374.7 49.5 L376.9 54.5 L384.2 56.7 L390.7 58.9 L387.8 61.8 L381.3 62.5 L387.1 64.7 L384.2 66.2 L374.0 64.0 L366.7 65.5 L368.2 68.4 L363.8 69.1 L360.9 67.2 L343.5 68.1 L344.9 64.7 L352.2 64.0 L346.4 61.8 L340.5 61.1 L338.4 58.9 L350.7 58.2 L344.9 56.0 L334.7 55.0 L331.1 52.7 Z M312.9 34.9 L323.1 31.3 L334.7 29.1 L344.9 27.6 L355.1 26.2 L363.8 26.5 L359.5 29.8 L350.7 30.8 L343.5 29.8 L340.5 32.7 L331.8 34.2 L334.7 36.4 L328.9 37.5 L323.1 36.4 L315.8 36.4 Z M384.9 47.3 L391.5 43.6 L398.7 43.3 L403.1 46.5 L404.5 50.9 L398.7 53.1 L392.9 50.9 Z M387.1 33.5 L397.3 33.7 L399.5 37.8 L392.9 39.6 L387.8 37.1 Z M346.4 40.7 L350.7 38.1 L358.0 34.9 L363.8 32.7 L360.9 36.4 L369.6 35.6 L374.0 37.8 L369.6 40.0 L360.9 40.0 L356.5 42.2 L350.7 42.2 Z M376.2 29.8 L378.4 30.5 L384.2 35.6 L381.3 39.3 L377.6 38.5 L380.5 36.4 L376.9 33.5 Z M404.5 39.3 L410.4 37.8 L413.3 40.7 L408.2 41.5 Z M372.5 23.3 L382.7 22.5 L394.4 23.3 L401.6 25.5 L408.2 26.2 L414.7 28.4 L408.9 29.8 L401.6 28.4 L392.9 27.6 L382.7 26.2 L375.5 25.5 Z M409.6 18.2 L413.3 15.3 L423.5 14.5 L433.6 17.5 L440.9 19.6 L438.0 23.3 L433.6 26.9 L423.5 28.4 L417.6 26.9 L414.7 24.0 L411.1 21.1 Z M423.5 14.5 L433.6 11.6 L448.2 9.5 L458.4 8.0 L470.0 7.6 M424.9 15.3 L440.9 18.2 L454.0 18.2 L464.2 16.7 L465.6 17.5 L452.5 19.6 L440.9 20.4 M406.0 31.3 L416.2 32.7 L426.4 33.7 L433.6 32.7 L440.9 34.2 L454.0 36.4 L458.4 38.5 L455.5 41.5 L445.3 40.7 L433.6 40.0 L423.5 38.1 L419.1 40.7 L417.6 43.6 M430.7 34.9 L436.5 29.1 L440.9 26.2 L451.1 27.6 L461.3 29.8 L470.0 26.9 M459.8 33.5 L465.6 30.5 L470.0 29.1 M425.6 50.9 L427.8 46.5 L436.5 44.4 L448.2 43.6 L454.0 45.1 L458.4 48.0 L465.6 47.3 L470.0 48.0 M439.5 45.8 L438.0 49.5 L440.2 53.1 M425.6 50.9 L427.8 53.8 L432.9 56.0 L439.5 57.5 L448.2 58.9 L458.4 60.4 L465.6 58.2 L470.0 58.9 M436.5 74.9 L440.9 73.5 L448.2 78.5 L456.9 83.6 L451.1 84.4 L443.8 82.9 L439.5 85.8 L435.1 83.6 L438.0 79.3 Z M462.7 79.3 L468.5 77.1 L471.5 79.3 L468.5 81.5 L464.2 81.5 Z M456.9 90.9 L459.1 89.0 L461.3 90.9 L459.1 93.1 Z M481.8 26.9 L489.1 24.7 L497.8 21.8 L503.6 18.9 L509.5 15.3 L518.2 12.4 L528.4 11.6 L541.5 10.9 L551.6 12.4 L554.5 10.2 L564.7 9.5 L576.4 7.3 L588.0 6.5 L601.1 5.5 L614.2 5.8 L627.3 6.5 L638.9 8.0 L653.5 10.2 L647.6 10.9 L631.6 11.6 L622.9 12.4 L638.9 13.1 L641.8 15.3 L649.1 13.8 L656.4 14.5 L668.0 13.8 L676.7 13.4 L681.8 15.0 L675.3 16.7 L666.5 19.6 L660.7 21.8 L656.4 24.7 L658.5 28.4 L660.7 31.3 L656.4 32.7 L650.5 34.2 L653.5 36.4 L657.8 38.5 L661.5 39.3 L656.4 42.2 L652.0 44.4 L649.1 46.5 L646.2 48.7 L641.1 50.2 L644.7 53.1 L648.4 56.0 L644.7 59.6 L637.5 55.3 L633.8 58.2 L641.8 58.9 L638.9 61.8 L631.6 64.0 L624.4 65.5 L616.4 66.9 L612.7 69.1 L608.4 72.7 L604.0 74.9 L596.7 76.4 L589.5 77.8 L585.8 79.3 L588.0 82.9 L586.5 86.5 L581.5 89.5 L580.7 93.1 L578.5 98.9 L575.6 99.6 L572.0 98.2 L568.4 96.0 L561.8 95.3 L558.9 93.1 L556.0 89.5 L553.1 85.8 L550.2 82.2 L548.7 78.5 L545.8 76.4 L544.1 72.7 L544.4 67.6 L547.3 65.5 L553.1 64.7 L553.1 61.1 L547.3 61.8 L542.9 61.8 L540.7 58.9 L542.2 56.0 L545.8 53.1 L548.0 56.0 L552.4 56.0 L551.6 58.2 L541.5 54.5 L537.8 53.1 L539.3 49.5 L538.5 46.5 L535.6 43.6 L532.7 40.7 L529.1 37.8 L522.5 36.4 L516.7 35.2 L509.5 35.6 L502.9 36.4 L496.4 34.9 L491.3 32.7 L494.9 29.8 L488.4 31.3 Z M641.1 76.4 L644.0 73.9 L647.6 74.2 L649.1 76.4 L653.5 75.3 L657.8 74.2 L665.1 73.9 L670.9 74.2 L675.3 76.4 L675.3 79.3 L670.9 81.5 L663.6 83.6 L657.8 85.1 L652.0 84.4 L647.6 83.6 L645.5 81.5 L647.6 79.3 L643.3 79.3 Z M460.0 9.5 L474.5 8.7 L489.1 9.0 L503.6 9.5 L519.6 10.5 L518.2 13.1 L510.9 13.8 L503.6 16.0 L499.3 18.2 L508.0 21.1 L503.6 23.3 L496.4 24.0 L483.3 26.2 M460.0 31.3 L467.3 29.1 L473.8 26.9 L474.5 23.3 L481.8 21.1 L492.0 18.9 L503.6 16.0 M460.0 16.7 L465.8 16.0 M460.0 34.2 L464.4 33.2 M460.0 49.5 L464.4 50.2 L468.7 48.7 L465.8 45.8 L460.0 45.1 M460.0 49.5 L468.7 49.5 L477.5 51.6 L486.2 53.8 L494.9 56.7 L500.0 59.6 L497.1 62.5 L500.7 64.0 L497.8 66.2 L505.1 67.6 L512.4 69.8 L519.6 72.0 L515.3 75.6 L510.9 78.5 L509.5 74.2 L503.6 73.5 L499.3 75.6 L502.2 80.0 L506.5 82.9 L508.7 85.8 L503.6 90.2 L502.9 91.3 L496.4 87.3 L494.9 84.4 L499.3 85.8 L494.9 82.9 L489.1 85.1 L481.8 82.9 L474.5 79.3 L468.7 77.1 L462.9 79.3 L464.4 81.5 L474.5 83.6 L481.8 85.8 L489.1 89.5 L496.4 91.6 L502.2 91.6 M460.0 58.9 L464.4 58.2 L471.6 61.8 L478.9 65.5 L483.3 69.1 L477.5 72.7 L474.5 75.6 L477.5 69.8 L471.6 67.6 L464.4 64.0 L460.0 64.0 M468.0 68.4 L470.9 66.2 L474.5 67.6 L472.4 70.5 L468.7 70.5 Z M460.0 101.8 L462.9 103.3 L465.8 101.8 L466.5 94.5 L464.4 90.9 L471.6 89.5 L478.9 90.2 L486.2 93.1 L491.3 95.3 L492.7 101.8 L498.5 106.2 L503.6 102.5 L508.0 97.5 L512.4 100.4 L518.2 107.6 L518.9 112.7 L525.5 117.8 L532.7 122.2 L537.1 125.1 L537.8 130.9 L532.7 131.6 L528.4 133.1 L524.0 136.7 L518.2 137.5 L509.5 136.7 L502.2 137.5 L496.4 139.6 L491.3 144.0 L487.6 149.8 M460.0 101.8 L464.4 104.7 L468.0 110.5 L467.3 116.4 L462.9 119.3 L460.0 120.7 M460.0 125.1 L462.9 128.0 L461.5 131.6 M487.6 150.5 L493.5 145.5 L500.7 141.8 L508.0 141.1 L510.9 141.8 L503.6 144.0 L506.5 146.9 L509.5 151.3 L513.8 154.2 L521.1 152.7 L522.5 149.8 L524.0 152.7 L521.1 156.4 L515.3 157.8 L510.9 159.3 L506.5 162.9 L503.6 160.0 L508.0 156.4 L502.2 158.5 L496.4 160.0 L491.3 162.2 L488.4 165.8 L487.6 169.5 L490.5 170.2 L486.2 170.9 L481.8 173.1 L477.5 174.5 L476.0 178.9 L473.1 181.8 L470.2 185.0 M509.5 138.9 L518.2 140.4 L513.8 141.8 Z M510.2 150.5 L518.2 149.8 L514.5 152.4 Z M526.2 146.9 L529.8 139.6 L532.7 133.8 L537.1 130.2 L535.6 135.3 L538.5 139.6 L544.4 141.1 L547.3 145.5 L546.5 151.3 L542.9 148.4 L539.3 149.8 L535.6 147.6 L529.8 147.6 Z M477.5 174.5 L483.3 172.4 L489.8 171.3 M468.7 180.4 L472.4 181.8 L473.8 184.7 L470.9 185.0 M488.2 165.8 L490.0 170.0 L487.0 171.2 L482.7 172.4 L478.5 173.6 L476.1 176.1 L477.3 179.1 L474.8 182.1 L472.4 185.2 L472.4 188.8 L471.2 192.4 L472.4 194.2 L470.0 196.7 L465.2 199.7 L460.3 203.3 L456.7 206.4 L454.2 208.8 L453.0 213.0 L454.0 217.9 L456.1 222.7 L457.3 227.6 L457.3 232.4 L455.5 234.8 L453.0 233.6 L451.2 228.8 L450.0 223.9 L448.8 219.7 L446.4 216.7 L443.3 216.1 L440.3 216.7 L437.3 214.2 L433.6 214.8 L427.6 214.2 L424.5 214.8 L426.4 217.9 L428.2 219.7 L422.7 220.3 L419.1 217.9 L415.5 217.3 L408.8 217.3 L408.8 219.7 L404.5 222.1 L402.1 225.2 L401.5 230.0 L402.1 233.6 L401.5 234.8 M469.4 180.3 L471.8 179.1 L473.6 181.5 L472.4 186.4 L470.6 191.2 L469.4 186.4 Z M461.5 229.4 L466.4 230.0 L467.0 232.4 M350.0 214.2 L352.4 219.1 L356.1 223.9 L359.7 227.6 L362.7 230.6 L362.1 234.8 M350.0 222.7 L353.6 228.8 L356.1 234.8 M350.0 228.8 L353.0 234.8 M319.5 185.0 L321.0 190.4 L325.7 198.6 L329.0 199.5 L332.2 200.6 L336.5 205.7 L338.0 209.0 L340.4 216.3 L343.7 225.0 L346.3 224.2 L350.0 228.8 M350.0 222.7 L345.0 216.3 L344.3 210.4 L348.6 211.2 L350.0 214.2 M696.5 108.2 L699.6 104.5 L698.4 107.0 L701.5 108.8 L700.3 112.6 L702.8 115.1 L706.5 117.6 L710.3 119.5 L709.1 122.6 L710.9 124.5 L707.8 126.4 L705.3 127.0 L706.5 130.2 L703.4 130.8 L711.6 131.4 L707.8 133.3 L705.3 135.2 L702.2 137.1 L704.0 138.3 L707.8 135.2 L712.8 135.2 L719.7 134.6 M701.5 107.0 L703.4 104.5 L709.7 104.5 L706.5 107.0 L714.1 109.1 L711.6 112.0 L709.7 113.9 L713.4 116.4 L716.6 119.5 L719.7 120.1 M719.7 139.6 L713.4 139.6 L715.3 141.7 L707.8 142.7 L704.3 144.6 L705.3 146.5 L712.8 147.7 L715.3 152.1 L716.8 155.3 L716.6 160.3 L715.6 163.4 L710.3 164.0 L705.3 164.3 L700.3 162.8 L694.0 162.5 L690.5 164.7 L691.7 170.3 L691.5 176.6 L689.2 179.7 L689.6 182.9 L691.5 184.7 L690.9 188.1 L697.1 188.1 L700.3 191.0 L702.2 192.9 L707.8 190.4 L712.8 189.7 L715.3 186.6 L719.7 182.2 M702.2 192.9 L703.4 195.4 L707.8 196.4 L712.8 196.0 L716.6 194.4 L719.7 192.9 M702.2 192.9 L700.3 195.4 L699.0 198.5 L695.3 201.7 L690.9 204.2 L688.7 207.3 L687.7 211.1 L688.4 214.8 L686.5 218.6 L682.7 221.7 L679.0 224.2 L676.4 225.5 L675.8 228.6 L673.3 230.5 L671.4 234.9 M688.4 123.3 L690.2 121.4 L692.7 118.9 L696.5 117.4 L700.3 117.6 L701.5 120.1 L700.3 123.3 L700.3 127.0 L698.4 129.5 L694.0 130.8 L689.0 132.1 L687.1 130.2 L689.0 127.7 L687.7 125.2 Z"/>
<path stroke-width="2" d="M0.0 42.9 L2.9 42.9 L2.9 45.1 L0.0 45.1 Z M180.4 120.7 L186.9 118.1 M49.5 138.2 L53.1 135.6 M22.5 160.4 L26.9 156.5 M31.3 155.5 L34.8 152.2 M0.6 125.3 L0.6 142.8"/>
<path stroke-width="2.2" d="M157.1 84.4 L167.3 85.8 M49.4 138.2 L52.7 135.7"/>
<path stroke-width="1.6" d="M122.2 80.7 L126.5 80.4 M106.9 126.5 L109.8 127.7 M141.1 130.2 L142.5 131.6 M394.4 19.6 L398.7 21.1 M446.7 89.9 L450.4 88.4"/>
<path stroke-width="1.4" d="M166.5 127.3 L169.5 124.4 L175.3 122.9 L171.6 125.1 L167.3 126.5 Z M695.3 90.0 L699.0 89.0 L697.1 91.5 Z"/>
<path stroke-width="1.5" d="M1.1 165.9 L3.3 172.5 M448.5 153.2 L452.0 153.2 L450.5 155.5 Z M468.8 193.0 L472.7 192.4 M477.3 173.6 L483.3 172.1 M663.9 223.0 L667.7 223.6 L668.9 225.5 M673.3 224.2 L676.4 219.2"/>
</g>
</g>
<rect x="0" y="0" width="720" height="236" fill="none" stroke="#000" stroke-width="2"/>
<path d="M-6 20.5 H-1 M-6 59.5 H-1 M-6 98.5 H-1 M-6 137.5 H-1 M-6 177.5 H-1 M-6 216.5 H-1 M0.10 237 V242 M65.55 237 V242 M131.01 237 V242 M196.46 237 V242 M261.92 237 V242 M327.37 237 V242 M392.83 237 V242 M458.28 237 V242 M523.74 237 V242 M589.19 237 V242 M654.65 237 V242 M720.10 237 V242" stroke="#000" stroke-width="1" fill="none" shape-rendering="crispEdges"/>
<text x="-43.2" y="27.4" font-size="19.5" fill="#000" text-anchor="start" textLength="30.3" lengthAdjust="spacingAndGlyphs" stroke="#fff" stroke-width="0.45">80N</text>
<text x="-43.2" y="66.5" font-size="19.5" fill="#000" text-anchor="start" textLength="30.3" lengthAdjust="spacingAndGlyphs" stroke="#fff" stroke-width="0.45">70N</text>
<text x="-43.2" y="105.7" font-size="19.5" fill="#000" text-anchor="start" textLength="30.3" lengthAdjust="spacingAndGlyphs" stroke="#fff" stroke-width="0.45">60N</text>
<text x="-43.2" y="144.8" font-size="19.5" fill="#000" text-anchor="start" textLength="30.3" lengthAdjust="spacingAndGlyphs" stroke="#fff" stroke-width="0.45">50N</text>
<text x="-43.2" y="184.0" font-size="19.5" fill="#000" text-anchor="start" textLength="30.3" lengthAdjust="spacingAndGlyphs" stroke="#fff" stroke-width="0.45">40N</text>
<text x="-43.2" y="223.1" font-size="19.5" fill="#000" text-anchor="start" textLength="30.3" lengthAdjust="spacingAndGlyphs" stroke="#fff" stroke-width="0.45">30N</text>
<text x="-18.4" y="260" font-size="19.5" fill="#000" text-anchor="start" textLength="38.6" lengthAdjust="spacingAndGlyphs" stroke="#fff" stroke-width="0.45">140E</text>
<text x="47.1" y="260" font-size="19.5" fill="#000" text-anchor="start" textLength="38.6" lengthAdjust="spacingAndGlyphs" stroke="#fff" stroke-width="0.45">160E</text>
<text x="117.6" y="260" font-size="19.5" fill="#000" text-anchor="start" textLength="28.5" lengthAdjust="spacingAndGlyphs" stroke="#fff" stroke-width="0.45">180</text>
<text x="176.1" y="260" font-size="19.5" fill="#000" text-anchor="start" textLength="42.3" lengthAdjust="spacingAndGlyphs" stroke="#fff" stroke-width="0.45">160W</text>
<text x="241.6" y="260" font-size="19.5" fill="#000" text-anchor="start" textLength="42.3" lengthAdjust="spacingAndGlyphs" stroke="#fff" stroke-width="0.45">140W</text>
<text x="307.0" y="260" font-size="19.5" fill="#000" text-anchor="start" textLength="42.3" lengthAdjust="spacingAndGlyphs" stroke="#fff" stroke-width="0.45">120W</text>
<text x="372.5" y="260" font-size="19.5" fill="#000" text-anchor="start" textLength="42.3" lengthAdjust="spacingAndGlyphs" stroke="#fff" stroke-width="0.45">100W</text>
<text x="442.1" y="260" font-size="19.5" fill="#000" text-anchor="start" textLength="32.5" lengthAdjust="spacingAndGlyphs" stroke="#fff" stroke-width="0.45">80W</text>
<text x="507.6" y="260" font-size="19.5" fill="#000" text-anchor="start" textLength="32.5" lengthAdjust="spacingAndGlyphs" stroke="#fff" stroke-width="0.45">60W</text>
<text x="573.0" y="260" font-size="19.5" fill="#000" text-anchor="start" textLength="32.5" lengthAdjust="spacingAndGlyphs" stroke="#fff" stroke-width="0.45">40W</text>
<text x="638.5" y="260" font-size="19.5" fill="#000" text-anchor="start" textLength="32.5" lengthAdjust="spacingAndGlyphs" stroke="#fff" stroke-width="0.45">20W</text>
<text x="716.0" y="260" font-size="19.5" fill="#000" text-anchor="start" textLength="8.5" lengthAdjust="spacingAndGlyphs" stroke="#fff" stroke-width="0.45">0</text>
</g>
<path d="M796 249.5 L804 209 L813 249.5 Z" fill="#ffe1e1"/>
<rect x="796" y="249.5" width="17" height="39.5" fill="#f0a0a0"/>
<rect x="796" y="289" width="17" height="39.5" fill="#a50000"/>
<rect x="796" y="328.5" width="17" height="39.5" fill="#e11400"/>
<rect x="796" y="368" width="17" height="40" fill="#ff6000"/>
<rect x="796" y="408" width="17" height="40" fill="#ffa000"/>
<rect x="796" y="448" width="17" height="39.5" fill="#ffe878"/>
<path d="M795.5 249.5 V487.5 M795.5 328.5 H813 M795.5 368.5 H813 M795.5 408.5 H813 M795.5 487.5 H813" stroke="#000" stroke-width="1" fill="none" shape-rendering="crispEdges"/>
<path d="M795.5 487.5 L803.5 527" stroke="#000" stroke-width="1" fill="none"/>
<path d="M795.5 249.5 L803.5 209" stroke="#000" stroke-width="1" fill="none" stroke-dasharray="3 2"/>
<text x="819" y="254.5" font-size="14" fill="#000" text-anchor="start" stroke="#fff" stroke-width="0.3">220</text>
<text x="819" y="294" font-size="14" fill="#000" text-anchor="start" stroke="#fff" stroke-width="0.3">190</text>
<text x="819" y="333.5" font-size="14" fill="#000" text-anchor="start" stroke="#fff" stroke-width="0.3">160</text>
<text x="819" y="373" font-size="14" fill="#000" text-anchor="start" stroke="#fff" stroke-width="0.3">130</text>
<text x="819" y="413" font-size="14" fill="#000" text-anchor="start" stroke="#fff" stroke-width="0.3">100</text>
<text x="819" y="453" font-size="14" fill="#000" text-anchor="start" stroke="#fff" stroke-width="0.3">70</text>
<text x="819" y="492.5" font-size="14" fill="#000" text-anchor="start" stroke="#fff" stroke-width="0.3">40</text>
<path d="M796 609 L804 569 L813 609 Z" fill="#a50000"/>
<path d="M796 968 L804 1007 L813 968 Z" fill="#1464d2"/>
<rect x="796" y="609" width="17" height="40" fill="#e11400"/>
<rect x="796" y="649" width="17" height="40" fill="#ff6000"/>
<rect x="796" y="689" width="17" height="40" fill="#ffa000"/>
<rect x="796" y="729" width="17" height="40" fill="#ffc03c"/>
<rect x="796" y="769" width="17" height="39.5" fill="#fffaaa"/>
<rect x="796" y="848.5" width="17" height="39.5" fill="#e1ffff"/>
<rect x="796" y="888" width="17" height="40" fill="#96d2fa"/>
<rect x="796" y="928" width="17" height="40" fill="#2882f0"/>
<path d="M795.5 609 V968 M795.5 649.5 H813 M795.5 689.5 H813 M795.5 729.5 H813 M795.5 769.5 H813 M795.5 808.5 H813 M795.5 848.5 H813 M795.5 888.5 H813 M795.5 928.5 H813 M795.5 968.5 H813" stroke="#000" stroke-width="1" fill="none" shape-rendering="crispEdges"/>
<text x="819" y="614" font-size="14" fill="#000" text-anchor="start" stroke="#fff" stroke-width="0.3">60</text>
<text x="819" y="654" font-size="14" fill="#000" text-anchor="start" stroke="#fff" stroke-width="0.3">50</text>
<text x="819" y="694" font-size="14" fill="#000" text-anchor="start" stroke="#fff" stroke-width="0.3">40</text>
<text x="819" y="734" font-size="14" fill="#000" text-anchor="start" stroke="#fff" stroke-width="0.3">30</text>
<text x="819" y="774" font-size="14" fill="#000" text-anchor="start" stroke="#fff" stroke-width="0.3">20</text>
<text x="819" y="813.5" font-size="14" fill="#000" text-anchor="start" stroke="#fff" stroke-width="0.3">10</text>
<text transform="translate(815.98,852.25) scale(3.151,1)" x="0" y="0" font-size="13" fill="#000">-</text>
<text x="831" y="853.5" font-size="14" fill="#000" text-anchor="start" textLength="16.4" lengthAdjust="spacing" stroke="#fff" stroke-width="0.3">10</text>
<text transform="translate(815.98,891.75) scale(3.151,1)" x="0" y="0" font-size="13" fill="#000">-</text>
<text x="831" y="893" font-size="14" fill="#000" text-anchor="start" textLength="16.4" lengthAdjust="spacing" stroke="#fff" stroke-width="0.3">20</text>
<text transform="translate(815.98,931.75) scale(3.151,1)" x="0" y="0" font-size="13" fill="#000">-</text>
<text x="831" y="933" font-size="14" fill="#000" text-anchor="start" textLength="16.4" lengthAdjust="spacing" stroke="#fff" stroke-width="0.3">30</text>
<text transform="translate(815.98,971.75) scale(3.151,1)" x="0" y="0" font-size="13" fill="#000">-</text>
<text x="831" y="973" font-size="14" fill="#000" text-anchor="start" textLength="16.4" lengthAdjust="spacing" stroke="#fff" stroke-width="0.3">40</text>
</svg>
</body></html>
